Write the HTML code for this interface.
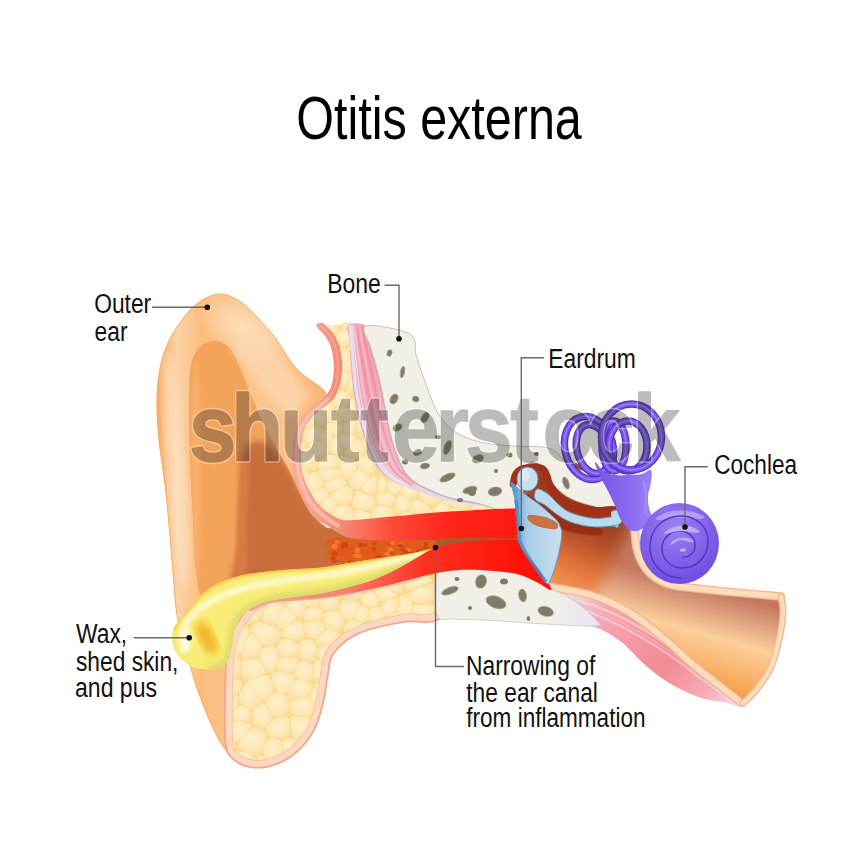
<!DOCTYPE html>
<html><head><meta charset="utf-8"><title>Otitis externa</title>
<style>html,body{margin:0;padding:0;background:#fff;width:867px;height:853px;overflow:hidden;font-family:"Liberation Sans",sans-serif}
#c{position:relative;width:867px;height:853px}</style></head>
<body><div id="c"><svg width="867" height="853" viewBox="0 0 867 853" style="position:absolute;left:0;top:0">

<defs>
 <linearGradient id="gPinna" x1="0" y1="0" x2="1" y2="0">
  <stop offset="0" stop-color="#f9ad63"/><stop offset="0.12" stop-color="#fcd2a6"/><stop offset="0.25" stop-color="#fbbd7e"/>
  <stop offset="0.6" stop-color="#fcc690"/><stop offset="1" stop-color="#f9b574"/>
 </linearGradient>
 <radialGradient id="gPinnaTop" cx="0.5" cy="0.5" r="0.5">
  <stop offset="0" stop-color="#fde4c6" stop-opacity="0.9"/><stop offset="1" stop-color="#fde4c6" stop-opacity="0"/>
 </radialGradient>
 <linearGradient id="gConcha" x1="190" y1="0" x2="330" y2="0" gradientUnits="userSpaceOnUse">
  <stop offset="0" stop-color="#f6a85e"/><stop offset="0.3" stop-color="#e99350"/><stop offset="0.6" stop-color="#d57a40"/><stop offset="1" stop-color="#c46a36"/>
 </linearGradient>
 <linearGradient id="gUBand" x1="290" y1="0" x2="520" y2="0" gradientUnits="userSpaceOnUse">
  <stop offset="0" stop-color="#f7ac9c"/><stop offset="0.13" stop-color="#f69c8a"/><stop offset="0.22" stop-color="#f58a78"/><stop offset="0.45" stop-color="#fd4a36"/><stop offset="0.7" stop-color="#ff2418"/><stop offset="1" stop-color="#ff1a10"/>
 </linearGradient>
 <linearGradient id="gLBand" x1="250" y1="0" x2="520" y2="0" gradientUnits="userSpaceOnUse">
  <stop offset="0" stop-color="#f7a795"/><stop offset="0.35" stop-color="#f8806e"/><stop offset="0.65" stop-color="#ff3020"/><stop offset="1" stop-color="#ff1208"/>
 </linearGradient>
 <linearGradient id="gWax" x1="0" y1="565" x2="0" y2="600" gradientUnits="userSpaceOnUse">
  <stop offset="0" stop-color="#f6d34a"/><stop offset="0.15" stop-color="#faee86"/><stop offset="0.55" stop-color="#f8ec74"/><stop offset="1" stop-color="#e4e06c"/>
 </linearGradient>
 <linearGradient id="gMuscle" x1="350" y1="0" x2="520" y2="0" gradientUnits="userSpaceOnUse">
  <stop offset="0" stop-color="#f4a8b6"/><stop offset="0.12" stop-color="#f2a0b0"/><stop offset="0.25" stop-color="#f0c0d0"/><stop offset="0.45" stop-color="#e4d8ec"/><stop offset="1" stop-color="#dfe4f4"/>
 </linearGradient>
 <linearGradient id="gTube" x1="720" y1="592" x2="690" y2="700" gradientUnits="userSpaceOnUse">
  <stop offset="0" stop-color="#c47860"/><stop offset="0.4" stop-color="#fbcf9c"/><stop offset="0.8" stop-color="#f7a452"/><stop offset="1" stop-color="#f27c2c"/>
 </linearGradient>
 <linearGradient id="gMid" x1="605" y1="515" x2="570" y2="592" gradientUnits="userSpaceOnUse">
  <stop offset="0" stop-color="#9a3a1e"/><stop offset="0.3" stop-color="#ad4a28"/><stop offset="0.7" stop-color="#e4733a"/><stop offset="1" stop-color="#f29658"/>
 </linearGradient>
 <linearGradient id="gPinkM" x1="560" y1="600" x2="740" y2="705" gradientUnits="userSpaceOnUse">
  <stop offset="0" stop-color="#e9e6ee"/><stop offset="0.2" stop-color="#f6a8b4"/><stop offset="0.6" stop-color="#f28a94"/><stop offset="0.85" stop-color="#f7b0b8"/><stop offset="1" stop-color="#e8e8f8"/>
 </linearGradient>
 <radialGradient id="gCoch" cx="0.45" cy="0.3" r="0.75">
  <stop offset="0" stop-color="#9a80f4"/><stop offset="0.55" stop-color="#8262ea"/><stop offset="1" stop-color="#6c4ade"/>
 </radialGradient>
 <linearGradient id="gVest" x1="600" y1="0" x2="650" y2="0" gradientUnits="userSpaceOnUse">
  <stop offset="0" stop-color="#7a56e2"/><stop offset="0.6" stop-color="#8a6af0"/><stop offset="1" stop-color="#9a80f4"/>
 </linearGradient>
 <linearGradient id="gDrum" x1="512" y1="0" x2="562" y2="0" gradientUnits="userSpaceOnUse">
  <stop offset="0" stop-color="#4f90c8"/><stop offset="0.3" stop-color="#a8cce6"/><stop offset="1" stop-color="#c8e0f0"/>
 </linearGradient>
 <linearGradient id="gGap" x1="320" y1="0" x2="440" y2="0" gradientUnits="userSpaceOnUse">
  <stop offset="0" stop-color="#c96e3a"/><stop offset="0.5" stop-color="#c0662f"/><stop offset="1" stop-color="#a85a2c"/>
 </linearGradient>
 <radialGradient id="gCell" cx="0.45" cy="0.4" r="0.6">
  <stop offset="0" stop-color="#fef0cc"/><stop offset="0.7" stop-color="#fde8b4"/><stop offset="1" stop-color="#fbdf9c"/>
 </radialGradient>
 <linearGradient id="gLBone" x1="430" y1="0" x2="600" y2="0" gradientUnits="userSpaceOnUse">
  <stop offset="0" stop-color="#f1efe6"/><stop offset="0.7" stop-color="#f1efe8"/><stop offset="1" stop-color="#ebe4f0"/>
 </linearGradient>
 <filter id="blur2"><feGaussianBlur stdDeviation="2"/></filter>
 <filter id="blur3" x="-20%" y="-20%" width="140%" height="140%"><feGaussianBlur stdDeviation="3"/></filter>
 <filter id="blur8" x="-30%" y="-30%" width="160%" height="160%"><feGaussianBlur stdDeviation="7"/></filter>
 <filter id="blur4"><feGaussianBlur stdDeviation="4"/></filter>
 <filter id="blurS" x="-50%" y="-50%" width="200%" height="200%"><feGaussianBlur stdDeviation="0.6"/></filter>
 <filter id="blur1" x="-20%" y="-20%" width="140%" height="140%"><feGaussianBlur stdDeviation="1"/></filter>

 <clipPath id="cUFat"><path d="M323.0,326.0 C322.0,327.4 329.7,330.8 332.0,334.0 C334.3,337.2 335.8,341.2 337.0,345.0 C338.2,348.8 339.0,353.0 339.5,357.0 C340.0,361.0 340.1,365.2 340.0,369.0 C339.9,372.8 339.7,376.7 339.0,380.0 C338.3,383.3 337.3,386.0 336.0,389.0 C334.7,392.0 333.2,395.3 331.0,398.0 C328.8,400.7 326.0,402.7 323.0,405.0 C320.0,407.3 315.8,409.7 313.0,412.0 C310.2,414.3 308.0,416.5 306.0,419.0 C304.0,421.5 302.3,424.2 301.0,427.0 C299.7,429.8 298.7,431.7 298.0,436.0 C297.3,440.3 296.9,446.8 297.0,453.0 C297.1,459.2 297.2,466.7 298.5,473.0 C299.8,479.3 302.2,485.5 305.0,491.0 C307.8,496.5 310.8,501.7 315.0,506.0 C319.2,510.3 325.0,514.5 330.0,517.0 C335.0,519.5 311.7,521.2 345.0,521.0 C378.3,520.8 499.2,518.5 530.0,516.0 C560.8,513.5 536.7,507.8 530.0,506.0 C523.3,504.2 505.0,506.5 490.0,505.0 C475.0,503.5 454.2,501.5 440.0,497.0 C425.8,492.5 415.0,485.8 405.0,478.0 C395.0,470.2 387.2,461.3 380.0,450.0 C372.8,438.7 366.0,421.7 362.0,410.0 C358.0,398.3 357.7,394.0 356.0,380.0 C354.3,366.0 355.0,335.1 352.0,326.0 C349.0,316.9 342.8,325.5 338.0,325.5 C333.2,325.5 324.0,324.6 323.0,326.0Z"/></clipPath>
 <clipPath id="cLFat"><path d="M436.0,575.0 C432.7,569.8 426.3,577.7 417.0,580.0 C407.7,582.3 394.5,586.0 380.0,589.0 C365.5,592.0 343.3,596.1 330.0,598.0 C316.7,599.9 308.3,599.8 300.0,600.5 C291.7,601.2 285.8,601.1 280.0,602.0 C274.2,602.9 269.7,603.7 265.0,606.0 C260.3,608.3 256.0,611.7 252.0,616.0 C248.0,620.3 243.8,626.0 241.0,632.0 C238.2,638.0 236.3,644.0 235.0,652.0 C233.7,660.0 233.3,665.3 233.0,680.0 C232.7,694.7 232.0,727.7 233.0,740.0 C234.0,752.3 235.3,750.7 239.0,754.0 C242.7,757.3 249.0,759.6 255.0,760.0 C261.0,760.4 268.7,759.0 275.0,756.5 C281.3,754.0 287.7,749.9 293.0,745.0 C298.3,740.1 303.3,733.8 307.0,727.0 C310.7,720.2 312.8,712.5 315.0,704.0 C317.2,695.5 318.5,684.2 320.0,676.0 C321.5,667.8 321.5,661.0 324.0,655.0 C326.5,649.0 330.3,644.5 335.0,640.0 C339.7,635.5 345.3,631.3 352.0,628.0 C358.7,624.7 366.2,622.3 375.0,620.0 C383.8,617.7 394.7,615.5 405.0,614.0 C415.3,612.5 431.8,617.5 437.0,611.0 C442.2,604.5 439.3,580.2 436.0,575.0Z"/></clipPath>
 <clipPath id="cPinna"><path d="M220.0,294.0 C227.0,294.0 234.5,297.8 241.0,302.0 C247.5,306.2 253.2,312.8 259.0,319.0 C264.8,325.2 270.7,331.8 276.0,339.0 C281.3,346.2 286.5,356.0 291.0,362.0 C295.5,368.0 298.8,371.3 303.0,375.0 C307.2,378.7 312.2,380.8 316.0,384.0 C319.8,387.2 323.3,388.0 326.0,394.0 C328.7,400.0 332.2,407.3 332.0,420.0 C331.8,432.7 327.8,453.3 325.0,470.0 C322.2,486.7 319.2,501.7 315.0,520.0 C310.8,538.3 305.8,560.0 300.0,580.0 C294.2,600.0 288.3,623.3 280.0,640.0 C271.7,656.7 257.0,666.7 250.0,680.0 C243.0,693.3 238.8,706.7 238.0,720.0 C237.2,733.3 243.0,752.2 245.0,760.0 C247.0,767.8 252.2,767.5 250.0,767.0 C247.8,766.5 237.3,761.8 232.0,757.0 C226.7,752.2 222.3,745.5 218.0,738.0 C213.7,730.5 209.8,721.3 206.0,712.0 C202.2,702.7 198.3,692.3 195.0,682.0 C191.7,671.7 189.0,661.2 186.0,650.0 C183.0,638.8 179.3,630.0 177.0,615.0 C174.7,600.0 173.8,580.3 172.0,560.0 C170.2,539.7 168.2,513.0 166.0,493.0 C163.8,473.0 160.5,455.5 159.0,440.0 C157.5,424.5 156.8,412.0 157.0,400.0 C157.2,388.0 158.2,377.5 160.0,368.0 C161.8,358.5 164.3,351.0 168.0,343.0 C171.7,335.0 176.8,326.8 182.0,320.0 C187.2,313.2 192.7,306.3 199.0,302.0 C205.3,297.7 213.0,294.0 220.0,294.0Z"/></clipPath>
 <clipPath id="cUBone"><path d="M366.0,326.0 C372.6,323.8 401.7,329.2 410.0,334.0 C418.3,338.8 413.8,348.0 416.0,355.0 C418.2,362.0 420.5,368.8 423.0,376.0 C425.5,383.2 428.0,391.0 431.0,398.0 C434.0,405.0 436.7,412.2 441.0,418.0 C445.3,423.8 450.5,429.0 457.0,433.0 C463.5,437.0 470.7,439.8 480.0,442.0 C489.3,444.2 502.5,445.2 513.0,446.0 C523.5,446.8 535.8,446.0 543.0,447.0 C550.2,448.0 552.2,449.5 556.0,452.0 C559.8,454.5 562.0,459.0 566.0,462.0 C570.0,465.0 572.3,467.3 580.0,470.0 C587.7,472.7 606.2,471.7 612.0,478.0 C617.8,484.3 618.8,503.5 615.0,508.0 C611.2,512.5 597.2,507.0 589.0,505.0 C580.8,503.0 572.3,500.0 566.0,496.0 C559.7,492.0 554.8,486.0 551.0,481.0 C547.2,476.0 546.8,469.2 543.0,466.0 C539.2,462.8 531.5,461.3 528.0,462.0 C524.5,462.7 523.3,461.8 522.0,470.0 C520.7,478.2 523.7,504.3 520.0,511.0 C516.3,517.7 507.1,511.3 500.0,510.0 C492.9,508.7 485.9,505.3 477.6,503.3 C469.3,501.3 457.9,500.0 450.0,497.8 C442.1,495.6 435.8,492.6 430.0,490.0 C424.2,487.4 419.4,485.3 415.0,482.0 C410.6,478.7 407.0,475.0 403.8,470.0 C400.6,465.0 398.2,457.8 396.0,452.0 C393.8,446.2 392.1,440.7 390.6,435.0 C389.1,429.3 388.2,423.8 387.0,418.0 C385.8,412.2 384.8,406.0 383.6,400.0 C382.4,394.0 381.3,387.8 380.0,382.0 C378.7,376.2 377.3,370.8 375.7,365.0 C374.1,359.2 372.1,353.5 370.5,347.0 C368.9,340.5 359.4,328.2 366.0,326.0Z"/></clipPath>
 <clipPath id="cLBone"><path d="M437.0,573.0 C440.0,565.3 445.7,569.9 455.0,569.0 C464.3,568.1 482.5,566.7 493.0,567.5 C503.5,568.3 510.8,571.6 518.0,574.0 C525.2,576.4 530.5,579.2 536.0,581.7 C541.5,584.2 546.3,586.9 551.0,589.0 C555.7,591.1 559.2,591.9 564.0,594.6 C568.8,597.3 574.7,600.8 580.0,605.0 C585.3,609.2 593.3,616.5 596.0,620.0 C598.7,623.5 604.5,625.3 596.0,626.0 C587.5,626.7 562.7,624.9 545.0,624.0 C527.3,623.1 505.0,621.2 490.0,620.4 C475.0,619.6 463.8,619.9 455.0,619.0 C446.2,618.1 440.0,622.7 437.0,615.0 C434.0,607.3 434.0,580.7 437.0,573.0Z"/></clipPath>
 <clipPath id="cTube"><path d="M520.0,470.0 C525.0,461.3 546.7,456.7 560.0,458.0 C573.3,459.3 589.2,470.2 600.0,478.0 C610.8,485.8 619.5,496.7 625.0,505.0 C630.5,513.3 631.3,520.8 633.0,528.0 C634.7,535.2 633.8,542.2 635.0,548.0 C636.2,553.8 637.5,558.5 640.0,563.0 C642.5,567.5 645.8,571.5 650.0,575.0 C654.2,578.5 658.3,581.8 665.0,584.0 C671.7,586.2 682.5,587.0 690.0,588.0 C697.5,589.0 700.0,589.0 710.0,590.0 C720.0,591.0 738.5,593.0 750.0,594.0 C761.5,595.0 773.5,594.5 779.0,596.0 C784.5,597.5 782.8,596.5 783.0,603.0 C783.2,609.5 782.0,624.3 780.0,635.0 C778.0,645.7 775.2,657.8 771.0,667.0 C766.8,676.2 759.8,684.2 755.0,690.0 C750.2,695.8 748.2,703.0 742.0,702.0 C735.8,701.0 726.0,690.3 717.7,684.0 C709.4,677.7 700.8,671.2 692.3,664.0 C683.8,656.8 675.5,648.3 667.0,641.0 C658.5,633.7 650.0,626.0 641.5,620.0 C633.0,614.0 624.5,609.2 616.0,605.0 C607.5,600.8 599.3,597.7 590.8,595.0 C582.3,592.3 572.0,590.5 565.0,589.0 C558.0,587.5 552.3,590.8 549.0,586.0 C545.7,581.2 548.2,572.7 545.0,560.0 C541.8,547.3 534.2,525.0 530.0,510.0 C525.8,495.0 515.0,478.7 520.0,470.0Z"/></clipPath>
 <clipPath id="cConcha"><path d="M212.0,341.0 C216.0,340.2 219.7,341.3 223.0,343.0 C226.3,344.7 229.0,346.5 232.0,351.0 C235.0,355.5 238.3,363.8 241.0,370.0 C243.7,376.2 245.7,382.3 248.0,388.0 C250.3,393.7 252.3,397.8 255.0,404.0 C257.7,410.2 260.5,417.8 264.0,425.0 C267.5,432.2 271.8,439.5 276.0,447.0 C280.2,454.5 285.0,462.5 289.0,470.0 C293.0,477.5 295.2,483.7 300.0,492.0 C304.8,500.3 310.5,511.2 318.0,520.0 C325.5,528.8 343.0,535.8 345.0,545.0 C347.0,554.2 339.2,569.2 330.0,575.0 C320.8,580.8 305.0,578.3 290.0,580.0 C275.0,581.7 254.2,581.7 240.0,585.0 C225.8,588.3 212.3,602.5 205.0,600.0 C197.7,597.5 198.0,583.3 196.0,570.0 C194.0,556.7 194.0,538.3 193.0,520.0 C192.0,501.7 190.7,480.0 190.0,460.0 C189.3,440.0 188.8,415.8 189.0,400.0 C189.2,384.2 189.3,373.7 191.0,365.0 C192.7,356.3 195.5,352.0 199.0,348.0 C202.5,344.0 208.0,341.8 212.0,341.0Z"/></clipPath>
 <clipPath id="cWax"><path d="M435.0,548.0 C432.2,548.4 421.2,551.7 411.0,553.5 C400.8,555.3 384.8,557.3 374.0,559.0 C363.2,560.7 355.0,562.0 346.0,563.5 C337.0,565.0 329.5,566.7 320.0,567.7 C310.5,568.7 298.8,568.7 289.0,569.5 C279.2,570.3 269.2,571.4 261.5,572.3 C253.8,573.2 249.2,573.6 243.0,575.0 C236.8,576.4 230.1,578.4 224.6,580.6 C219.1,582.8 214.4,584.9 209.8,588.0 C205.2,591.1 200.7,595.2 197.0,599.0 C193.3,602.8 190.8,607.3 187.7,611.0 C184.6,614.7 180.9,617.8 178.5,621.0 C176.1,624.2 174.1,627.3 173.0,630.4 C171.9,633.5 171.7,636.2 172.0,639.6 C172.3,643.0 173.1,647.3 174.8,650.7 C176.5,654.1 178.9,657.2 182.0,660.0 C185.1,662.8 188.9,665.7 193.2,667.3 C197.5,668.9 203.4,669.5 208.0,669.5 C212.6,669.5 217.6,668.9 221.0,667.3 C224.4,665.7 226.5,663.4 228.3,660.0 C230.1,656.6 231.1,651.7 232.0,647.0 C232.9,642.3 232.8,636.6 234.0,632.0 C235.2,627.4 237.0,623.0 239.4,619.3 C241.8,615.6 244.6,612.8 248.6,610.0 C252.6,607.2 258.1,604.5 263.3,602.7 C268.5,600.9 274.1,600.1 280.0,599.0 C285.9,597.9 291.7,597.2 298.4,596.3 C305.1,595.4 312.2,594.9 320.0,593.5 C327.8,592.1 336.0,590.4 345.0,588.0 C354.0,585.6 364.6,583.0 374.0,579.4 C383.4,575.8 392.5,571.1 401.5,566.4 C410.5,561.7 422.4,554.1 428.0,551.0 C433.6,547.9 437.8,547.6 435.0,548.0Z"/></clipPath>
</defs>

<path d="M549.0,589.0 C550.6,586.7 558.4,589.7 565.4,591.0 C572.4,592.3 582.4,594.3 590.8,597.0 C599.2,599.7 607.5,602.8 616.0,607.0 C624.5,611.2 633.0,616.1 641.5,622.0 C650.0,627.9 658.5,635.2 667.0,642.5 C675.5,649.8 683.8,658.8 692.3,666.0 C700.8,673.2 709.4,679.5 717.7,686.0 C726.0,692.5 738.6,701.5 742.0,705.0 C745.4,708.5 740.5,707.3 738.0,707.0 C735.5,706.7 731.7,704.2 727.0,703.0 C722.3,701.8 715.4,701.4 709.6,700.0 C703.8,698.6 699.3,697.7 692.0,694.5 C684.7,691.3 674.0,686.1 666.0,681.0 C658.0,675.9 651.3,670.4 644.0,664.0 C636.7,657.6 629.3,648.3 622.0,642.5 C614.7,636.7 607.0,632.2 600.0,629.0 C593.0,625.8 585.7,625.0 580.0,623.0 C574.3,621.0 570.0,620.0 566.0,617.0 C562.0,614.0 558.8,609.7 556.0,605.0 C553.2,600.3 547.4,591.3 549.0,589.0Z" fill="url(#gPinkM)"/>
<path d="M575,599.6 C620,612 660,635.4 700,671.6 C715,684.4 728,695.2 738,703" fill="none" stroke="#fbd6da" stroke-width="2.2" opacity="0.7"/>
<path d="M575,603.2 C620,618 660,640.8 700,675.2 C715,686.8 728,696.4 738,703" fill="none" stroke="#f7b8c0" stroke-width="1.6" opacity="0.6"/>
<path d="M575,606.2 C620,623 660,645.3 700,678.2 C715,688.8 728,697.4 738,703" fill="none" stroke="#fde4e8" stroke-width="1.8" opacity="0.6"/>
<g clip-path="url(#cTube)"><path d="M520.0,470.0 C525.0,461.3 546.7,456.7 560.0,458.0 C573.3,459.3 589.2,470.2 600.0,478.0 C610.8,485.8 619.5,496.7 625.0,505.0 C630.5,513.3 631.3,520.8 633.0,528.0 C634.7,535.2 633.8,542.2 635.0,548.0 C636.2,553.8 637.5,558.5 640.0,563.0 C642.5,567.5 645.8,571.5 650.0,575.0 C654.2,578.5 658.3,581.8 665.0,584.0 C671.7,586.2 682.5,587.0 690.0,588.0 C697.5,589.0 700.0,589.0 710.0,590.0 C720.0,591.0 738.5,593.0 750.0,594.0 C761.5,595.0 773.5,594.5 779.0,596.0 C784.5,597.5 782.8,596.5 783.0,603.0 C783.2,609.5 782.0,624.3 780.0,635.0 C778.0,645.7 775.2,657.8 771.0,667.0 C766.8,676.2 759.8,684.2 755.0,690.0 C750.2,695.8 748.2,703.0 742.0,702.0 C735.8,701.0 726.0,690.3 717.7,684.0 C709.4,677.7 700.8,671.2 692.3,664.0 C683.8,656.8 675.5,648.3 667.0,641.0 C658.5,633.7 650.0,626.0 641.5,620.0 C633.0,614.0 624.5,609.2 616.0,605.0 C607.5,600.8 599.3,597.7 590.8,595.0 C582.3,592.3 572.0,590.5 565.0,589.0 C558.0,587.5 552.3,590.8 549.0,586.0 C545.7,581.2 548.2,572.7 545.0,560.0 C541.8,547.3 534.2,525.0 530.0,510.0 C525.8,495.0 515.0,478.7 520.0,470.0Z" fill="url(#gTube)"/><path d="M515,460 L635,460 L628,530 L608,570 L592,600 L545,595 Z" fill="url(#gMid)" filter="url(#blur8)"/></g>
<path d="M633.5,526.0 C633.7,526.7 634.0,526.3 634.5,530.0 C635.0,533.7 635.2,542.5 636.5,548.0 C637.8,553.5 639.6,558.6 642.0,563.0 C644.4,567.4 647.2,571.2 651.0,574.5 C654.8,577.8 660.3,581.0 665.0,583.0 C669.7,585.0 674.5,585.7 679.0,586.5 C683.5,587.3 686.8,587.4 692.0,588.0 C697.2,588.6 702.8,589.2 710.0,590.0 C717.2,590.8 723.2,591.4 735.0,592.5 C746.8,593.6 773.3,595.8 781.0,596.5" fill="none" stroke="#f2b48c" stroke-width="8.5" stroke-linecap="round"/>
<path d="M633.5,526.0 C633.7,526.7 634.0,526.3 634.5,530.0 C635.0,533.7 635.2,542.5 636.5,548.0 C637.8,553.5 639.6,558.6 642.0,563.0 C644.4,567.4 647.2,571.2 651.0,574.5 C654.8,577.8 660.3,581.0 665.0,583.0 C669.7,585.0 674.5,585.7 679.0,586.5 C683.5,587.3 686.8,587.4 692.0,588.0 C697.2,588.6 702.8,589.2 710.0,590.0 C717.2,590.8 723.2,591.4 735.0,592.5 C746.8,593.6 773.3,595.8 781.0,596.5" fill="none" stroke="#fddcbc" stroke-width="6" stroke-linecap="round"/>
<path d="M547.6,586.5 C550.6,587.0 558.2,588.1 565.4,589.5 C572.6,590.9 582.4,592.4 590.8,595.0 C599.2,597.6 607.5,600.8 616.0,605.0 C624.5,609.2 633.0,614.5 641.5,620.5 C650.0,626.5 658.5,633.8 667.0,641.0 C675.5,648.2 683.8,656.8 692.3,664.0 C700.8,671.2 709.6,677.8 717.7,684.2 C725.8,690.6 737.1,699.5 741.0,702.5" fill="none" stroke="#f2b48c" stroke-width="8.5" stroke-linecap="round"/>
<path d="M547.6,586.5 C550.6,587.0 558.2,588.1 565.4,589.5 C572.6,590.9 582.4,592.4 590.8,595.0 C599.2,597.6 607.5,600.8 616.0,605.0 C624.5,609.2 633.0,614.5 641.5,620.5 C650.0,626.5 658.5,633.8 667.0,641.0 C675.5,648.2 683.8,656.8 692.3,664.0 C700.8,671.2 709.6,677.8 717.7,684.2 C725.8,690.6 737.1,699.5 741.0,702.5" fill="none" stroke="#fddcbc" stroke-width="6" stroke-linecap="round"/>
<path d="M781.0,597.0 C781.3,599.5 783.2,605.7 783.0,612.0 C782.8,618.3 782.0,625.8 780.0,635.0 C778.0,644.2 775.0,657.8 771.0,667.0 C767.0,676.2 760.7,684.0 756.0,690.0 C751.3,696.0 745.2,700.8 743.0,703.0" fill="none" stroke="#f2b48c" stroke-width="7" stroke-linecap="round"/>
<path d="M781.0,597.0 C781.3,599.5 783.2,605.7 783.0,612.0 C782.8,618.3 782.0,625.8 780.0,635.0 C778.0,644.2 775.0,657.8 771.0,667.0 C767.0,676.2 760.7,684.0 756.0,690.0 C751.3,696.0 745.2,700.8 743.0,703.0" fill="none" stroke="#fddcbc" stroke-width="4.5" stroke-linecap="round"/>
<path d="M220.0,294.0 C227.0,294.0 234.5,297.8 241.0,302.0 C247.5,306.2 253.2,312.8 259.0,319.0 C264.8,325.2 270.7,331.8 276.0,339.0 C281.3,346.2 286.5,356.0 291.0,362.0 C295.5,368.0 298.8,371.3 303.0,375.0 C307.2,378.7 312.2,380.8 316.0,384.0 C319.8,387.2 323.3,388.0 326.0,394.0 C328.7,400.0 332.2,407.3 332.0,420.0 C331.8,432.7 327.8,453.3 325.0,470.0 C322.2,486.7 319.2,501.7 315.0,520.0 C310.8,538.3 305.8,560.0 300.0,580.0 C294.2,600.0 288.3,623.3 280.0,640.0 C271.7,656.7 257.0,666.7 250.0,680.0 C243.0,693.3 238.8,706.7 238.0,720.0 C237.2,733.3 243.0,752.2 245.0,760.0 C247.0,767.8 252.2,767.5 250.0,767.0 C247.8,766.5 237.3,761.8 232.0,757.0 C226.7,752.2 222.3,745.5 218.0,738.0 C213.7,730.5 209.8,721.3 206.0,712.0 C202.2,702.7 198.3,692.3 195.0,682.0 C191.7,671.7 189.0,661.2 186.0,650.0 C183.0,638.8 179.3,630.0 177.0,615.0 C174.7,600.0 173.8,580.3 172.0,560.0 C170.2,539.7 168.2,513.0 166.0,493.0 C163.8,473.0 160.5,455.5 159.0,440.0 C157.5,424.5 156.8,412.0 157.0,400.0 C157.2,388.0 158.2,377.5 160.0,368.0 C161.8,358.5 164.3,351.0 168.0,343.0 C171.7,335.0 176.8,326.8 182.0,320.0 C187.2,313.2 192.7,306.3 199.0,302.0 C205.3,297.7 213.0,294.0 220.0,294.0Z" fill="url(#gPinna)" stroke="#f8a85c" stroke-width="1"/>
<g clip-path="url(#cPinna)"><ellipse cx="245" cy="330" rx="55" ry="30" fill="url(#gPinnaTop)" transform="rotate(35 245 330)"/><ellipse cx="176" cy="470" rx="9" ry="120" fill="#fde2c4" opacity="0.7" filter="url(#blur4)" transform="rotate(-4 176 470)"/></g>
<path d="M212.0,341.0 C216.0,340.2 219.7,341.3 223.0,343.0 C226.3,344.7 229.0,346.5 232.0,351.0 C235.0,355.5 238.3,363.8 241.0,370.0 C243.7,376.2 245.7,382.3 248.0,388.0 C250.3,393.7 252.3,397.8 255.0,404.0 C257.7,410.2 260.5,417.8 264.0,425.0 C267.5,432.2 271.8,439.5 276.0,447.0 C280.2,454.5 285.0,462.5 289.0,470.0 C293.0,477.5 295.2,483.7 300.0,492.0 C304.8,500.3 310.5,511.2 318.0,520.0 C325.5,528.8 343.0,535.8 345.0,545.0 C347.0,554.2 339.2,569.2 330.0,575.0 C320.8,580.8 305.0,578.3 290.0,580.0 C275.0,581.7 254.2,581.7 240.0,585.0 C225.8,588.3 212.3,602.5 205.0,600.0 C197.7,597.5 198.0,583.3 196.0,570.0 C194.0,556.7 194.0,538.3 193.0,520.0 C192.0,501.7 190.7,480.0 190.0,460.0 C189.3,440.0 188.8,415.8 189.0,400.0 C189.2,384.2 189.3,373.7 191.0,365.0 C192.7,356.3 195.5,352.0 199.0,348.0 C202.5,344.0 208.0,341.8 212.0,341.0Z" fill="#f4a35a"/>
<g clip-path="url(#cConcha)"><path d="M239.0,600.0 C221.3,590.0 238.8,559.2 239.0,540.0 C239.2,520.8 239.5,499.2 240.0,485.0 C240.5,470.8 240.3,462.0 242.0,455.0 C243.7,448.0 246.5,445.2 250.0,443.0 C253.5,440.8 258.7,440.5 263.0,442.0 C267.3,443.5 271.8,447.7 276.0,452.0 C280.2,456.3 284.0,461.7 288.0,468.0 C292.0,474.3 295.0,481.7 300.0,490.0 C305.0,498.3 310.5,508.8 318.0,518.0 C325.5,527.2 340.5,531.3 345.0,545.0 C349.5,558.7 362.7,590.8 345.0,600.0 C327.3,609.2 256.7,610.0 239.0,600.0Z" fill="#c96e3a" filter="url(#blur3)"/><path d="M236,600 C236,560 238,500 242,460 L250,462 C247,500 246,560 246,600 Z" fill="#d67d44" filter="url(#blur2)"/><ellipse cx="196" cy="470" rx="5" ry="110" fill="#f8b06a" filter="url(#blur2)"/></g>
<g clip-path="url(#cPinna)"><path d="M232,350 C250,370 265,395 290,420 L310,395 C300,380 275,350 250,320 Z" fill="#fcd7ae" opacity="0.8" filter="url(#blur4)"/></g>
<path d="M436.0,575.0 C432.7,569.8 426.3,577.7 417.0,580.0 C407.7,582.3 394.5,586.0 380.0,589.0 C365.5,592.0 343.3,596.1 330.0,598.0 C316.7,599.9 308.3,599.8 300.0,600.5 C291.7,601.2 285.8,601.1 280.0,602.0 C274.2,602.9 269.7,603.7 265.0,606.0 C260.3,608.3 256.0,611.7 252.0,616.0 C248.0,620.3 243.8,626.0 241.0,632.0 C238.2,638.0 236.3,644.0 235.0,652.0 C233.7,660.0 233.3,665.3 233.0,680.0 C232.7,694.7 232.0,727.7 233.0,740.0 C234.0,752.3 235.3,750.7 239.0,754.0 C242.7,757.3 249.0,759.6 255.0,760.0 C261.0,760.4 268.7,759.0 275.0,756.5 C281.3,754.0 287.7,749.9 293.0,745.0 C298.3,740.1 303.3,733.8 307.0,727.0 C310.7,720.2 312.8,712.5 315.0,704.0 C317.2,695.5 318.5,684.2 320.0,676.0 C321.5,667.8 321.5,661.0 324.0,655.0 C326.5,649.0 330.3,644.5 335.0,640.0 C339.7,635.5 345.3,631.3 352.0,628.0 C358.7,624.7 366.2,622.3 375.0,620.0 C383.8,617.7 394.7,615.5 405.0,614.0 C415.3,612.5 431.8,617.5 437.0,611.0 C442.2,604.5 439.3,580.2 436.0,575.0Z" fill="none" stroke="#f4a590" stroke-width="17"/>
<path d="M436.0,575.0 C432.7,569.8 426.3,577.7 417.0,580.0 C407.7,582.3 394.5,586.0 380.0,589.0 C365.5,592.0 343.3,596.1 330.0,598.0 C316.7,599.9 308.3,599.8 300.0,600.5 C291.7,601.2 285.8,601.1 280.0,602.0 C274.2,602.9 269.7,603.7 265.0,606.0 C260.3,608.3 256.0,611.7 252.0,616.0 C248.0,620.3 243.8,626.0 241.0,632.0 C238.2,638.0 236.3,644.0 235.0,652.0 C233.7,660.0 233.3,665.3 233.0,680.0 C232.7,694.7 232.0,727.7 233.0,740.0 C234.0,752.3 235.3,750.7 239.0,754.0 C242.7,757.3 249.0,759.6 255.0,760.0 C261.0,760.4 268.7,759.0 275.0,756.5 C281.3,754.0 287.7,749.9 293.0,745.0 C298.3,740.1 303.3,733.8 307.0,727.0 C310.7,720.2 312.8,712.5 315.0,704.0 C317.2,695.5 318.5,684.2 320.0,676.0 C321.5,667.8 321.5,661.0 324.0,655.0 C326.5,649.0 330.3,644.5 335.0,640.0 C339.7,635.5 345.3,631.3 352.0,628.0 C358.7,624.7 366.2,622.3 375.0,620.0 C383.8,617.7 394.7,615.5 405.0,614.0 C415.3,612.5 431.8,617.5 437.0,611.0 C442.2,604.5 439.3,580.2 436.0,575.0Z" fill="none" stroke="#fcd8c0" stroke-width="13.5"/>
<path d="M436.0,575.0 C432.7,569.8 426.3,577.7 417.0,580.0 C407.7,582.3 394.5,586.0 380.0,589.0 C365.5,592.0 343.3,596.1 330.0,598.0 C316.7,599.9 308.3,599.8 300.0,600.5 C291.7,601.2 285.8,601.1 280.0,602.0 C274.2,602.9 269.7,603.7 265.0,606.0 C260.3,608.3 256.0,611.7 252.0,616.0 C248.0,620.3 243.8,626.0 241.0,632.0 C238.2,638.0 236.3,644.0 235.0,652.0 C233.7,660.0 233.3,665.3 233.0,680.0 C232.7,694.7 232.0,727.7 233.0,740.0 C234.0,752.3 235.3,750.7 239.0,754.0 C242.7,757.3 249.0,759.6 255.0,760.0 C261.0,760.4 268.7,759.0 275.0,756.5 C281.3,754.0 287.7,749.9 293.0,745.0 C298.3,740.1 303.3,733.8 307.0,727.0 C310.7,720.2 312.8,712.5 315.0,704.0 C317.2,695.5 318.5,684.2 320.0,676.0 C321.5,667.8 321.5,661.0 324.0,655.0 C326.5,649.0 330.3,644.5 335.0,640.0 C339.7,635.5 345.3,631.3 352.0,628.0 C358.7,624.7 366.2,622.3 375.0,620.0 C383.8,617.7 394.7,615.5 405.0,614.0 C415.3,612.5 431.8,617.5 437.0,611.0 C442.2,604.5 439.3,580.2 436.0,575.0Z" fill="#f7d47e" stroke="#f6b39a" stroke-width="1.2"/>
<g clip-path="url(#cLFat)" fill="url(#gCell)" stroke="#f8d888" stroke-width="0.5"><path d="M407.1,676.6 C403.0,675.0 386.1,671.6 384.0,666.7 C381.8,661.9 389.9,650.3 394.0,647.6 C398.0,645.0 404.5,648.4 408.2,650.9 C411.9,653.3 416.4,658.1 416.4,662.3 C416.3,666.6 409.7,674.0 408.1,676.3 C406.6,678.7 411.1,678.2 407.1,676.6Z"/><path d="M363.4,767.6 C363.9,771.3 365.2,777.7 361.0,778.6 C356.8,779.4 342.5,774.2 338.4,772.7 C334.2,771.1 334.4,773.1 335.9,769.4 C337.3,765.6 344.8,753.6 347.0,750.3 C349.2,747.1 347.2,748.9 349.1,749.8 C351.0,750.8 356.0,753.1 358.4,756.1 C360.8,759.0 363.0,763.8 363.4,767.6Z"/><path d="M370.7,637.6 C370.0,642.2 367.3,659.5 366.9,664.6 C366.5,669.7 367.3,667.2 368.4,668.0 C369.6,668.8 371.3,669.7 373.6,669.4 C376.0,669.0 379.2,669.6 382.3,665.9 C385.4,662.1 391.0,650.9 392.3,646.8 C393.6,642.6 393.6,642.8 390.0,641.2 C386.5,639.6 374.3,637.8 371.1,637.2 C367.8,636.6 371.4,633.0 370.7,637.6Z"/><path d="M418.1,637.2 C415.2,638.2 409.7,645.8 409.6,649.8 C409.6,653.8 416.0,659.4 417.8,661.3 C419.6,663.1 420.1,661.1 420.7,660.8 C421.3,660.6 420.4,662.9 421.5,660.0 C422.6,657.2 427.9,647.8 427.3,644.0 C426.7,640.2 421.1,636.2 418.1,637.2Z"/><path d="M355.5,679.0 C358.0,673.3 364.7,672.1 367.6,671.0 C370.5,669.9 370.7,667.6 372.9,672.4 C375.0,677.2 381.4,694.1 380.8,699.9 C380.2,705.8 373.7,706.2 369.3,707.5 C364.8,708.9 356.9,708.6 354.1,708.1 C351.3,707.6 352.3,709.6 352.5,704.8 C352.8,699.9 353.0,684.6 355.5,679.0Z"/><path d="M244.8,681.4 C248.6,680.0 265.0,677.1 267.2,673.2 C269.4,669.3 262.3,660.4 258.1,658.1 C253.9,655.9 244.8,656.4 242.2,659.8 C239.6,663.2 242.2,675.2 242.6,678.8 C243.0,682.4 244.4,680.9 244.8,681.4 C245.1,681.8 241.1,682.7 244.8,681.4Z"/><path d="M324.8,612.7 C327.3,611.0 334.4,608.5 337.8,610.0 C341.2,611.5 344.4,618.2 345.1,621.6 C345.8,625.1 342.8,629.2 342.1,630.8 C341.3,632.4 343.3,631.8 340.6,631.4 C337.8,631.0 328.5,630.3 325.6,628.4 C322.6,626.6 322.9,622.9 322.8,620.3 C322.6,617.7 322.3,614.4 324.8,612.7Z"/><path d="M376.0,745.4 C374.8,746.9 374.9,748.0 375.4,749.7 C376.0,751.3 376.1,754.2 379.1,755.2 C382.2,756.2 390.5,755.8 393.6,755.6 C396.6,755.4 396.6,754.7 397.2,753.8 C397.8,753.0 399.6,752.9 397.2,750.7 C394.8,748.5 386.3,741.5 382.8,740.6 C379.3,739.7 377.2,743.9 376.0,745.4Z"/><path d="M357.9,583.3 C361.1,584.2 362.9,589.6 363.2,592.4 C363.4,595.2 362.6,598.8 359.3,599.9 C356.0,601.1 345.8,601.2 343.3,599.0 C340.8,596.8 341.9,589.4 344.3,586.8 C346.8,584.2 354.8,582.4 357.9,583.3Z"/><path d="M434.9,609.6 C433.7,612.7 427.7,620.0 424.9,622.4 C422.2,624.7 420.4,623.9 418.6,623.7 C416.9,623.5 415.0,624.5 414.3,621.1 C413.6,617.8 411.5,606.6 414.4,603.7 C417.4,600.8 428.7,602.6 432.1,603.6 C435.6,604.6 436.1,606.4 434.9,609.6Z"/><path d="M404.4,737.2 C400.9,736.0 394.3,731.1 393.2,726.5 C392.1,722.0 395.7,712.4 397.9,709.9 C400.1,707.3 402.8,709.1 406.4,711.1 C410.0,713.1 418.2,718.1 419.6,721.8 C420.9,725.6 417.0,731.2 414.5,733.7 C412.0,736.3 408.0,738.4 404.4,737.2Z"/><path d="M445.6,612.2 C442.5,610.3 439.3,608.6 436.1,610.5 C432.8,612.3 425.0,619.3 426.1,623.3 C427.2,627.3 437.7,634.8 442.5,634.6 C447.4,634.4 454.6,625.7 455.1,622.0 C455.6,618.2 448.8,614.1 445.6,612.2Z"/><path d="M317.8,738.5 C315.1,738.5 315.6,740.2 314.9,736.8 C314.2,733.4 313.1,722.1 313.6,718.1 C314.1,714.1 314.2,712.4 318.2,712.8 C322.1,713.1 335.0,716.3 337.2,720.2 C339.4,724.2 334.5,733.6 331.3,736.7 C328.0,739.7 320.5,738.5 317.8,738.5Z"/><path d="M309.1,695.9 C309.8,700.4 314.2,710.4 317.8,710.4 C321.3,710.4 329.0,700.2 330.5,695.9 C332.0,691.7 329.4,686.8 326.7,684.8 C324.0,682.7 316.2,683.8 314.1,683.6 C311.9,683.5 314.5,681.8 313.7,683.9 C312.9,685.9 308.4,691.5 309.1,695.9Z"/><path d="M292.4,735.8 C290.7,731.8 290.1,720.1 289.9,716.7 C289.7,713.3 287.3,715.3 291.0,715.5 C294.7,715.8 308.2,714.6 311.9,718.2 C315.6,721.8 315.2,733.2 313.2,737.0 C311.2,740.7 303.5,740.8 300.0,740.6 C296.5,740.4 294.0,739.8 292.4,735.8Z"/><path d="M332.6,737.2 C331.3,732.6 335.5,724.5 338.5,720.7 C341.6,716.9 347.9,711.8 350.9,714.2 C353.9,716.7 357.0,729.9 356.6,735.4 C356.3,740.9 350.2,745.3 348.5,747.4 C346.8,749.5 349.0,749.7 346.4,748.0 C343.7,746.3 333.9,741.7 332.6,737.2Z"/><path d="M302.6,622.7 C301.9,619.9 301.8,620.9 300.9,620.4 C300.0,620.0 300.6,618.3 297.3,620.0 C294.1,621.6 283.8,627.5 281.4,630.4 C279.0,633.3 279.8,635.8 282.7,637.6 C285.6,639.5 294.9,641.5 298.7,641.5 C302.5,641.5 304.9,640.5 305.6,637.3 C306.2,634.2 303.4,625.6 302.6,622.7Z"/><path d="M328.2,684.2 C327.4,687.6 328.3,692.0 332.0,695.4 C335.8,698.8 347.2,707.4 350.8,704.6 C354.5,701.8 356.1,683.6 353.8,678.8 C351.5,673.9 341.1,674.6 336.8,675.6 C332.6,676.5 329.0,680.9 328.2,684.2Z"/><path d="M368.7,609.4 C367.5,606.3 363.7,603.2 361.2,604.8 C358.7,606.4 352.6,616.0 353.8,619.1 C355.0,622.2 365.9,625.2 368.4,623.6 C370.9,621.9 369.9,612.5 368.7,609.4Z"/><path d="M253.0,727.2 C248.7,729.4 240.7,740.3 238.3,743.9 C235.9,747.4 235.6,746.5 238.6,748.4 C241.6,750.4 252.6,754.8 256.4,755.7 C260.2,756.6 259.4,756.9 261.2,754.0 C263.0,751.1 266.7,742.1 267.2,738.3 C267.7,734.5 266.4,732.9 264.0,731.0 C261.6,729.2 257.3,725.1 253.0,727.2Z"/><path d="M428.0,750.6 C431.9,753.5 437.5,752.0 439.9,752.1 C442.3,752.2 441.8,753.7 442.2,751.0 C442.6,748.3 445.2,740.8 442.5,735.8 C439.9,730.8 429.9,723.3 426.4,721.1 C422.8,718.9 423.0,720.4 421.4,722.6 C419.7,724.8 415.2,729.8 416.3,734.5 C417.4,739.2 424.1,747.6 428.0,750.6Z"/><path d="M264.0,702.5 C265.8,705.0 273.9,713.0 274.0,717.4 C274.1,721.9 268.0,727.9 264.6,729.2 C261.2,730.6 255.6,726.5 253.6,725.4 C251.6,724.4 252.7,725.5 252.4,723.1 C252.2,720.7 250.3,714.7 252.1,711.3 C253.9,707.8 261.2,704.0 263.2,702.6 C265.2,701.1 262.3,700.1 264.0,702.5Z"/><path d="M291.5,571.5 C291.6,566.1 285.7,555.4 283.1,553.8 C280.5,552.3 277.0,557.1 275.9,562.0 C274.9,566.9 275.7,579.2 276.8,583.3 C277.9,587.3 280.0,588.4 282.5,586.4 C284.9,584.4 291.4,576.9 291.5,571.5Z"/><path d="M417.5,625.6 C418.1,627.8 418.5,632.6 417.1,636.5 C415.6,640.4 412.4,647.5 408.6,649.1 C404.8,650.7 397.1,647.4 394.4,645.9 C391.6,644.4 392.1,642.4 392.1,640.4 C392.1,638.3 391.4,636.6 394.5,633.7 C397.5,630.9 407.4,625.1 410.5,623.3 C413.6,621.5 412.0,622.7 413.2,623.0 C414.4,623.4 416.9,623.3 417.5,625.6Z"/><path d="M226.1,566.6 C232.0,565.3 233.2,574.2 234.4,577.8 C235.6,581.3 239.3,586.6 233.4,587.9 C227.5,589.2 200.1,589.1 198.9,585.6 C197.7,582.0 220.1,567.9 226.1,566.6Z"/><path d="M224.4,728.3 C223.2,729.8 227.7,730.9 222.9,728.4 C218.1,725.8 196.4,716.6 195.7,713.0 C194.9,709.3 212.8,706.6 218.4,706.7 C224.1,706.8 227.6,711.5 229.4,713.7 C231.3,715.8 230.4,717.2 229.6,719.7 C228.8,722.1 225.5,726.9 224.4,728.3Z"/><path d="M317.9,659.4 C314.6,659.1 313.7,659.6 313.1,663.3 C312.5,667.1 311.9,678.5 314.2,681.8 C316.5,685.0 323.3,684.2 326.9,682.9 C330.4,681.6 334.5,677.2 335.5,674.2 C336.5,671.2 335.6,667.2 332.6,664.8 C329.7,662.3 321.2,659.6 317.9,659.4Z"/><path d="M275.3,626.3 C278.3,627.8 278.6,628.8 279.5,630.7 C280.5,632.7 281.4,635.6 280.8,637.9 C280.2,640.3 278.7,643.6 275.9,644.9 C273.0,646.2 267.6,648.0 263.7,645.9 C259.8,643.9 254.5,635.9 252.4,632.6 C250.2,629.3 249.3,627.9 250.8,626.1 C252.3,624.2 257.3,621.3 261.3,621.3 C265.4,621.3 272.2,624.7 275.3,626.3Z"/><path d="M399.6,596.1 C398.4,596.8 398.8,595.0 398.5,597.6 C398.1,600.2 395.4,607.8 397.4,611.8 C399.4,615.7 407.7,619.8 410.3,621.4 C412.9,622.9 412.6,624.1 413.0,621.1 C413.5,618.2 414.1,608.1 413.1,603.7 C412.2,599.2 408.7,596.1 407.4,594.4 C406.1,592.8 406.6,593.4 405.3,593.7 C404.0,594.0 400.7,595.5 399.6,596.1Z"/><path d="M261.9,756.2 C258.8,755.0 258.7,754.7 257.2,757.9 C255.7,761.0 252.1,771.1 252.9,775.3 C253.7,779.6 258.2,783.8 261.9,783.3 C265.7,782.8 273.2,775.1 275.5,772.0 C277.9,768.9 278.3,767.4 276.0,764.8 C273.7,762.1 265.1,757.3 261.9,756.2Z"/><path d="M351.2,639.6 C348.2,642.0 349.3,647.9 351.8,652.0 C354.2,656.2 362.8,666.9 365.7,664.4 C368.7,662.0 372.0,641.6 369.5,637.4 C367.1,633.3 354.1,637.2 351.2,639.6Z"/><path d="M443.1,694.9 C444.5,691.5 446.2,691.7 447.3,691.0 C448.4,690.3 448.7,687.6 449.7,690.6 C450.8,693.6 453.7,705.2 453.6,709.0 C453.5,712.9 451.4,713.3 448.9,713.6 C446.4,714.0 439.6,714.2 438.6,711.1 C437.6,707.9 441.6,698.2 443.1,694.9Z"/><path d="M267.8,585.3 C265.2,584.5 259.1,582.4 260.1,578.6 C261.1,574.8 271.5,565.3 274.0,562.5 C276.4,559.8 274.7,558.6 275.0,562.1 C275.3,565.5 277.0,579.4 275.8,583.3 C274.6,587.2 270.4,586.1 267.8,585.3Z"/><path d="M245.4,682.8 C244.6,687.2 260.0,697.7 263.1,700.7 C266.2,703.7 262.1,702.3 264.0,700.7 C265.8,699.0 273.2,695.1 274.1,690.8 C275.0,686.5 270.4,677.8 269.4,675.1 C268.3,672.5 271.8,673.4 267.8,674.7 C263.8,676.0 246.1,678.5 245.4,682.8Z"/><path d="M281.8,740.5 C280.4,744.4 280.8,757.4 283.0,760.6 C285.2,763.8 292.5,762.7 295.1,759.6 C297.8,756.6 299.6,745.9 299.0,742.2 C298.3,738.5 294.2,737.7 291.3,737.4 C288.5,737.1 283.2,736.6 281.8,740.5Z"/><path d="M442.2,694.6 C444.1,697.1 439.6,707.7 437.7,710.8 C435.9,714.0 432.9,715.8 430.9,713.4 C429.0,711.0 424.2,699.3 426.1,696.2 C428.0,693.1 440.2,692.2 442.2,694.6Z"/><path d="M288.6,596.7 C286.4,598.0 285.7,600.9 285.3,602.4 C284.8,603.9 284.1,603.1 286.1,605.8 C288.2,608.4 295.0,616.2 297.5,618.3 C300.0,620.5 299.6,620.6 301.2,618.8 C302.7,617.0 307.1,611.5 306.9,607.6 C306.6,603.7 301.2,597.5 299.8,595.4 C298.4,593.2 300.2,594.5 298.3,594.7 C296.4,594.9 290.7,595.4 288.6,596.7Z"/><path d="M275.8,690.3 C278.4,693.5 283.5,695.8 286.7,693.9 C290.0,692.0 294.3,682.2 295.3,678.8 C296.3,675.5 295.6,675.1 292.6,673.8 C289.5,672.4 280.5,670.5 277.0,670.7 C273.4,670.8 271.3,671.4 271.1,674.6 C270.9,677.9 273.2,687.1 275.8,690.3Z"/><path d="M434.0,671.4 C431.9,668.6 423.6,664.3 421.0,662.9 C418.3,661.6 420.0,660.9 418.1,663.3 C416.3,665.7 409.6,673.4 409.9,677.4 C410.2,681.3 416.2,686.6 420.2,687.0 C424.2,687.5 431.6,682.6 433.9,680.0 C436.2,677.4 436.2,674.3 434.0,671.4Z"/><path d="M364.9,735.2 C361.9,736.6 360.3,738.5 358.2,735.0 C356.1,731.4 353.1,717.9 352.4,713.8 C351.8,709.7 351.4,711.1 354.2,710.5 C357.0,709.8 365.8,707.3 369.4,709.9 C372.9,712.5 376.5,721.9 375.8,726.1 C375.0,730.3 367.8,733.7 364.9,735.2Z"/><path d="M239.2,655.8 C242.6,652.5 248.7,638.0 250.3,633.1 C251.9,628.2 249.6,627.9 248.7,626.6 C247.8,625.2 249.1,623.0 245.0,625.0 C240.9,626.9 226.6,633.8 224.1,638.4 C221.5,643.1 227.2,649.8 229.7,652.7 C232.2,655.6 235.7,659.1 239.2,655.8Z"/><path d="M386.4,617.9 C385.9,621.2 389.8,631.9 393.7,632.6 C397.6,633.3 409.2,625.5 409.7,622.1 C410.3,618.8 400.7,613.3 396.8,612.6 C392.9,611.9 386.9,614.6 386.4,617.9Z"/><path d="M419.0,625.6 C417.9,627.7 417.1,633.6 418.6,636.6 C420.0,639.5 424.0,642.5 427.8,643.3 C431.6,644.2 439.2,642.9 441.5,641.6 C443.8,640.3 444.5,638.5 441.8,635.7 C439.1,632.8 429.1,626.1 425.3,624.4 C421.5,622.7 420.2,623.6 419.0,625.6Z"/><path d="M283.1,762.2 C280.2,762.8 278.7,763.2 277.7,764.9 C276.7,766.5 275.8,769.1 277.2,772.1 C278.7,775.2 281.6,783.1 286.5,783.4 C291.4,783.6 305.1,777.2 306.6,773.5 C308.0,769.8 299.2,763.1 295.3,761.3 C291.4,759.4 286.1,761.6 283.1,762.2Z"/><path d="M406.0,591.6 C406.8,595.1 403.8,594.0 408.1,592.3 C412.4,590.7 427.8,583.9 431.6,581.6 C435.4,579.3 432.9,580.6 431.1,578.5 C429.3,576.5 424.2,571.2 420.8,569.3 C417.3,567.3 413.3,566.2 410.4,566.6 C407.5,566.9 404.1,567.2 403.4,571.4 C402.7,575.6 405.3,588.1 406.0,591.6Z"/><path d="M384.8,730.6 C386.3,728.5 389.2,726.2 392.3,727.5 C395.4,728.8 402.6,734.4 403.5,738.2 C404.5,741.9 401.1,749.7 397.7,750.0 C394.4,750.3 385.5,743.1 383.3,739.9 C381.2,736.7 383.3,732.6 384.8,730.6Z"/><path d="M281.8,587.6 C280.0,585.7 278.4,584.7 276.1,584.5 C273.8,584.3 270.1,584.1 268.1,586.4 C266.1,588.8 264.3,595.8 264.2,598.6 C264.0,601.4 263.8,602.9 267.1,603.4 C270.3,603.8 280.3,602.7 283.6,601.4 C286.9,600.2 287.2,598.0 286.9,595.7 C286.6,593.4 283.6,589.5 281.8,587.6Z"/><path d="M382.4,582.7 C383.1,586.8 395.1,592.7 398.8,594.2 C402.5,595.8 404.0,595.6 404.5,591.8 C405.1,588.0 403.6,575.2 401.9,571.6 C400.3,567.9 398.0,568.0 394.7,569.8 C391.4,571.7 381.7,578.6 382.4,582.7Z"/><path d="M283.7,602.8 C280.8,602.6 270.9,601.9 267.2,604.7 C263.6,607.5 260.5,616.4 261.9,619.7 C263.3,623.1 272.0,627.0 275.8,624.7 C279.6,622.4 283.3,609.8 284.6,606.2 C285.9,602.5 286.6,603.1 283.7,602.8Z"/><path d="M265.9,730.2 C264.8,733.4 266.5,736.0 269.0,737.5 C271.6,739.0 277.7,739.3 281.3,739.1 C285.0,738.8 289.7,739.7 290.9,736.0 C292.1,732.3 291.0,719.8 288.4,716.9 C285.8,714.0 279.0,716.2 275.2,718.4 C271.4,720.6 266.9,727.0 265.9,730.2Z"/><path d="M443.2,666.5 C445.6,663.8 448.9,656.9 449.2,654.2 C449.5,651.5 449.4,649.3 445.0,650.4 C440.5,651.6 426.4,659.2 422.5,661.1 C418.6,663.0 419.6,660.3 421.7,661.9 C423.7,663.4 431.1,669.6 434.7,670.4 C438.3,671.2 440.8,669.2 443.2,666.5Z"/><path d="M312.6,682.1 C315.3,682.7 313.1,685.0 313.0,681.9 C312.8,678.7 314.0,666.8 311.8,663.4 C309.7,660.0 303.1,659.7 300.1,661.3 C297.1,662.9 294.5,670.3 293.9,673.1 C293.3,675.9 293.5,676.6 296.6,678.1 C299.7,679.6 309.9,681.5 312.6,682.1Z"/><path d="M399.2,753.9 C399.0,753.1 398.2,753.2 399.2,750.7 C400.2,748.2 402.4,741.4 405.0,738.9 C407.7,736.3 411.4,733.3 415.1,735.4 C418.7,737.5 426.7,747.4 426.8,751.5 C426.9,755.5 419.9,759.0 415.5,759.6 C411.1,760.2 403.1,755.9 400.4,755.0 C397.7,754.0 399.4,754.6 399.2,753.9Z"/><path d="M242.1,658.5 C239.1,658.4 238.6,660.4 240.1,656.3 C241.6,652.1 247.5,635.1 251.2,633.6 C255.0,632.0 261.5,643.0 262.6,646.9 C263.7,650.8 261.4,654.9 258.0,656.9 C254.6,658.8 245.0,658.6 242.1,658.5Z"/><path d="M338.1,657.4 C340.9,655.6 346.3,651.8 350.8,653.2 C355.2,654.5 362.2,662.9 364.7,665.6 C367.3,668.2 368.1,667.1 366.3,669.0 C364.5,670.9 359.0,676.1 354.2,676.9 C349.3,677.7 340.5,675.8 337.2,673.7 C333.9,671.6 334.2,667.0 334.3,664.3 C334.5,661.5 335.4,659.3 338.1,657.4Z"/><path d="M406.7,709.0 C410.3,706.4 417.8,695.6 419.9,692.2 C421.9,688.7 420.8,690.6 419.0,688.3 C417.1,686.1 410.6,680.3 408.7,678.7 C406.8,677.1 410.2,675.0 407.6,678.9 C405.0,682.9 394.5,697.5 393.0,702.3 C391.4,707.1 395.9,706.7 398.2,707.8 C400.5,708.9 403.1,711.6 406.7,709.0Z"/><path d="M237.9,750.2 C241.8,750.5 253.4,753.4 255.7,757.5 C257.9,761.6 253.6,771.6 251.4,775.0 C249.3,778.3 246.2,778.6 242.6,777.4 C238.9,776.3 231.4,771.7 229.6,768.1 C227.9,764.4 230.8,758.7 232.1,755.7 C233.5,752.7 233.9,749.9 237.9,750.2Z"/><path d="M260.4,619.2 C257.7,622.5 252.2,623.4 249.8,624.0 C247.5,624.5 248.3,625.3 246.1,622.4 C243.9,619.5 237.7,610.6 236.5,606.5 C235.4,602.4 237.1,599.5 239.2,597.7 C241.2,595.8 244.8,595.2 248.8,595.5 C252.7,595.8 260.0,598.0 262.8,599.4 C265.6,600.9 266.1,600.9 265.7,604.2 C265.3,607.5 263.0,615.9 260.4,619.2Z"/><path d="M299.9,577.1 C300.9,580.6 299.9,590.0 297.9,592.9 C296.0,595.9 290.7,595.9 288.2,594.9 C285.7,593.9 282.5,590.6 283.1,586.8 C283.8,583.0 289.4,573.5 292.2,571.9 C295.0,570.3 299.0,573.5 299.9,577.1Z"/><path d="M370.4,625.3 C368.2,628.2 368.1,633.3 371.4,635.7 C374.7,638.1 386.8,640.2 390.3,639.7 C393.9,639.3 393.5,636.7 392.7,633.1 C391.8,629.6 386.7,620.9 385.3,618.4 C384.0,615.9 387.2,617.0 384.7,618.2 C382.2,619.3 372.6,622.4 370.4,625.3Z"/><path d="M300.5,742.6 C303.4,739.1 311.0,739.2 313.7,738.9 C316.4,738.6 315.6,735.8 316.6,740.6 C317.7,745.3 321.2,761.9 320.0,767.3 C318.8,772.6 311.6,771.9 309.5,772.7 C307.5,773.6 310.1,774.3 308.0,772.2 C305.8,770.1 297.9,764.9 296.7,760.0 C295.4,755.0 297.7,746.1 300.5,742.6Z"/><path d="M265.1,701.8 C265.1,697.7 271.7,693.0 275.2,692.0 C278.7,690.9 283.7,694.1 286.1,695.6 C288.6,697.0 289.3,697.5 289.8,700.6 C290.3,703.7 289.6,711.6 289.3,714.0 C289.1,716.4 290.6,714.8 288.2,715.2 C285.9,715.7 278.9,718.9 275.0,716.7 C271.2,714.5 265.1,706.0 265.1,701.8Z"/><path d="M406.4,678.2 C407.8,683.7 395.7,698.0 391.8,701.5 C387.8,705.1 385.5,704.3 382.6,699.4 C379.8,694.4 374.6,677.0 374.7,671.9 C374.8,666.7 378.0,667.3 383.3,668.4 C388.6,669.4 405.0,672.7 406.4,678.2Z"/><path d="M384.3,729.2 C386.7,729.3 389.7,729.4 391.7,726.1 C393.8,722.8 396.6,713.2 396.5,709.5 C396.4,705.8 393.6,705.2 391.2,703.9 C388.8,702.7 385.5,700.9 382.1,701.8 C378.6,702.7 371.4,705.5 370.5,709.4 C369.7,713.4 374.6,722.3 376.9,725.6 C379.2,728.9 381.8,729.1 384.3,729.2Z"/><path d="M381.8,583.5 C384.6,585.4 395.6,592.9 398.2,595.1 C400.7,597.2 399.9,595.3 397.1,596.5 C394.2,597.8 384.8,603.4 381.1,602.6 C377.5,601.8 375.0,595.0 375.0,591.8 C375.1,588.7 380.2,585.0 381.4,583.6 C382.5,582.2 379.0,581.6 381.8,583.5Z"/><path d="M320.1,588.2 C316.8,588.8 302.9,591.6 300.9,594.8 C298.8,597.9 305.0,605.1 307.9,607.0 C310.8,608.9 316.0,608.8 318.2,606.2 C320.4,603.5 320.8,594.0 321.2,591.0 C321.5,588.0 323.5,587.6 320.1,588.2Z"/><path d="M401.1,783.3 C403.8,786.6 413.4,779.6 415.7,775.9 C418.0,772.2 417.7,764.2 415.1,761.0 C412.5,757.7 402.3,752.6 400.0,756.3 C397.7,760.1 398.5,780.1 401.1,783.3Z"/><path d="M334.2,768.4 C338.2,765.4 345.7,754.3 345.3,749.4 C344.9,744.4 336.0,740.1 331.5,738.6 C327.0,737.1 319.7,735.6 318.1,740.4 C316.4,745.1 318.8,762.4 321.4,767.1 C324.1,771.8 330.2,771.3 334.2,768.4Z"/><path d="M438.3,712.3 C441.2,712.3 446.3,712.6 448.6,714.9 C450.9,717.1 453.0,722.5 452.2,725.8 C451.3,729.2 447.6,735.8 443.4,734.9 C439.3,733.9 429.2,723.5 427.2,720.2 C425.3,716.9 429.7,716.2 431.5,714.9 C433.4,713.6 435.5,712.3 438.3,712.3Z"/><path d="M442.1,693.8 C445.5,692.9 447.6,692.1 446.3,689.9 C445.0,687.8 438.6,681.2 434.4,680.9 C430.1,680.6 422.8,686.1 420.7,687.9 C418.6,689.8 420.7,690.5 421.6,691.8 C422.5,693.0 422.6,695.0 426.0,695.4 C429.4,695.7 438.7,694.7 442.1,693.8Z"/><path d="M343.2,600.1 C346.3,599.9 356.4,600.3 359.3,601.1 C362.1,601.8 361.4,601.5 360.4,604.4 C359.3,607.3 355.3,615.9 353.0,618.7 C350.7,621.4 348.8,622.4 346.5,620.8 C344.2,619.2 340.1,612.2 339.2,609.1 C338.3,606.0 340.4,603.8 341.0,602.3 C341.7,600.8 340.2,600.3 343.2,600.1Z"/><path d="M447.0,689.0 C444.6,687.6 437.0,682.9 435.0,680.0 C433.1,677.1 433.8,673.5 435.2,671.5 C436.6,669.4 440.4,665.3 443.7,667.6 C447.1,669.8 454.3,681.5 455.3,685.0 C456.3,688.5 450.8,688.0 449.4,688.7 C448.1,689.3 449.4,690.5 447.0,689.0Z"/><path d="M381.6,582.0 C383.7,579.8 393.9,573.6 393.9,569.1 C394.0,564.6 385.7,554.8 381.9,555.0 C378.0,555.2 371.1,565.9 370.9,570.4 C370.8,574.9 379.4,580.1 381.2,582.0 C383.0,583.9 379.5,584.1 381.6,582.0Z"/><path d="M291.6,700.7 C294.5,697.8 303.8,694.9 308.0,696.6 C312.2,698.3 315.2,708.6 316.7,711.1 C318.1,713.6 317.4,710.5 316.6,711.5 C315.9,712.4 316.3,716.3 312.1,716.8 C307.8,717.2 294.6,716.8 291.2,714.1 C287.8,711.4 288.8,703.6 291.6,700.7Z"/><path d="M350.2,705.9 C353.6,708.0 351.8,708.1 351.8,709.2 C351.7,710.3 352.4,710.9 350.0,712.6 C347.7,714.2 342.9,719.2 337.6,719.0 C332.4,718.9 321.8,712.9 318.6,711.6 C315.5,710.3 316.5,713.7 318.7,711.2 C320.8,708.7 326.2,697.6 331.4,696.7 C336.7,695.8 346.8,703.8 350.2,705.9Z"/><path d="M236.3,748.6 C237.2,746.9 238.0,747.1 236.0,744.0 C234.0,740.9 226.6,732.5 224.4,730.2 C222.2,727.9 225.8,727.2 222.9,730.2 C220.0,733.2 205.6,744.1 206.9,748.1 C208.2,752.1 225.7,753.9 230.5,754.0 C235.4,754.1 235.4,750.2 236.3,748.6Z"/><path d="M267.1,586.1 C266.5,583.0 260.8,580.6 259.4,579.4 C257.9,578.3 259.9,576.9 258.2,579.4 C256.5,581.8 248.3,591.2 249.1,594.3 C249.9,597.5 260.1,599.6 263.1,598.3 C266.1,596.9 267.7,589.3 267.1,586.1Z"/><path d="M268.3,672.5 C270.1,675.1 268.7,673.6 270.0,673.0 C271.2,672.4 274.3,671.8 275.8,669.0 C277.4,666.3 279.5,660.4 279.5,656.6 C279.5,652.8 278.6,648.0 276.0,646.5 C273.4,644.9 266.7,645.6 263.9,647.5 C261.1,649.3 258.5,653.3 259.2,657.4 C260.0,661.6 266.6,669.9 268.3,672.5Z"/><path d="M277.2,669.4 C275.2,666.8 277.5,659.0 280.8,657.0 C284.2,655.0 294.1,656.9 297.1,657.5 C300.2,658.2 299.8,658.3 299.1,660.8 C298.3,663.3 296.5,671.1 292.8,672.5 C289.2,674.0 279.2,672.0 277.2,669.4Z"/><path d="M325.3,629.7 C321.1,630.9 316.1,637.4 315.0,640.0 C313.8,642.7 315.6,644.8 318.6,645.7 C321.5,646.6 328.9,647.5 332.6,645.3 C336.2,643.1 341.5,635.3 340.3,632.7 C339.1,630.1 329.5,628.5 325.3,629.7Z"/><path d="M374.7,745.3 C376.3,747.4 376.7,747.9 374.2,749.5 C371.6,751.1 363.3,754.9 359.3,754.7 C355.3,754.5 350.2,751.5 350.0,748.5 C349.8,745.4 355.7,738.4 358.1,736.4 C360.6,734.4 362.0,735.1 364.8,736.6 C367.6,738.1 373.2,743.1 374.7,745.3Z"/><path d="M368.1,624.6 C365.5,623.8 357.0,620.6 353.5,620.2 C350.0,619.8 348.6,620.4 347.0,622.3 C345.4,624.2 343.3,628.8 344.0,631.5 C344.6,634.1 346.8,637.6 351.0,638.4 C355.3,639.2 366.3,636.7 369.4,636.3 C372.5,635.8 369.9,637.7 369.8,635.9 C369.7,634.1 369.1,627.3 368.8,625.5 C368.5,623.6 370.6,625.5 368.1,624.6Z"/><path d="M244.6,683.6 C247.6,686.6 261.2,697.0 262.4,701.5 C263.5,705.9 254.9,709.7 251.3,710.1 C247.6,710.6 242.4,706.4 240.4,703.9 C238.3,701.5 238.2,699.0 238.9,695.6 C239.6,692.2 243.6,685.6 244.5,683.6 C245.5,681.6 241.6,680.6 244.6,683.6Z"/><path d="M425.1,696.5 C423.6,693.0 423.6,690.6 420.7,692.8 C417.8,695.1 407.6,705.1 407.6,709.7 C407.6,714.3 417.7,718.9 420.7,720.4 C423.7,722.0 424.2,720.1 425.7,718.9 C427.3,717.8 430.1,717.4 430.0,713.7 C429.9,709.9 426.7,699.9 425.1,696.5Z"/><path d="M259.5,578.0 C262.0,575.4 274.5,564.5 273.3,562.0 C272.1,559.5 256.2,561.4 252.4,563.0 C248.5,564.6 249.4,569.2 250.4,571.7 C251.4,574.2 256.8,576.9 258.3,578.0 C259.8,579.0 256.9,580.7 259.5,578.0Z"/><path d="M400.3,783.4 C400.3,778.6 399.5,761.1 399.1,756.4 C398.7,751.7 398.7,755.1 397.9,755.3 C397.1,755.4 396.3,754.1 394.2,757.0 C392.1,759.9 386.8,769.2 385.4,772.5 C384.1,775.7 383.6,774.5 385.9,776.6 C388.1,778.6 396.6,783.6 399.0,784.8 C401.4,785.9 400.2,788.1 400.3,783.4Z"/><path d="M455.3,589.3 C453.5,585.0 439.0,582.7 435.4,585.0 C431.8,587.2 433.4,598.9 433.6,602.9 C433.7,606.9 434.3,607.6 436.3,608.9 C438.4,610.2 442.8,613.9 445.9,610.7 C449.1,607.4 457.0,593.5 455.3,589.3Z"/><path d="M321.6,620.7 C318.2,619.6 306.5,619.7 304.1,622.5 C301.7,625.2 305.4,634.3 307.0,637.0 C308.7,639.8 311.2,640.5 314.1,639.1 C317.0,637.7 323.2,631.9 324.4,628.8 C325.7,625.7 325.0,621.7 321.6,620.7Z"/><path d="M240.9,678.8 C239.2,681.8 233.9,680.0 230.1,677.6 C226.2,675.3 217.9,668.7 217.7,664.8 C217.6,661.0 225.6,655.7 229.1,654.5 C232.6,653.3 236.7,656.7 238.6,657.6 C240.5,658.5 240.2,656.3 240.5,659.8 C240.9,663.4 242.7,675.8 240.9,678.8Z"/><path d="M357.7,582.2 C355.0,584.5 348.0,586.9 344.1,585.7 C340.2,584.6 333.2,579.1 334.4,575.4 C335.6,571.8 346.8,564.4 351.0,563.9 C355.3,563.4 359.0,569.4 360.1,572.4 C361.2,575.5 360.3,580.0 357.7,582.2Z"/><path d="M228.8,769.2 C225.0,768.8 218.5,769.1 219.1,776.0 C219.6,782.9 228.0,810.0 231.8,810.5 C235.6,810.9 242.2,785.5 241.7,778.6 C241.2,771.7 232.6,769.7 228.8,769.2Z"/><path d="M441.6,642.5 C444.4,643.4 447.9,646.6 444.6,649.6 C441.4,652.6 424.9,661.2 422.1,660.3 C419.3,659.4 424.7,647.2 427.9,644.2 C431.2,641.2 438.8,641.6 441.6,642.5Z"/><path d="M319.8,587.2 C316.0,590.3 304.0,592.7 300.5,593.7 C297.1,594.7 298.9,595.8 299.0,593.1 C299.1,590.3 297.5,580.9 301.0,577.2 C304.4,573.5 316.1,571.3 319.7,571.0 C323.4,570.6 322.9,572.4 322.9,575.1 C323.0,577.8 323.5,584.1 319.8,587.2Z"/><path d="M375.4,744.5 C378.2,745.2 380.8,742.1 382.2,739.7 C383.6,737.4 384.6,732.5 383.7,730.4 C382.7,728.2 379.4,725.9 376.4,726.8 C373.3,727.7 365.6,732.9 365.4,735.9 C365.3,738.8 372.6,743.9 375.4,744.5Z"/><path d="M317.1,646.6 C316.6,643.8 315.3,642.2 313.5,640.9 C311.8,639.6 308.8,638.5 306.5,638.9 C304.2,639.2 301.0,640.0 299.6,643.0 C298.3,646.0 298.3,653.9 298.4,656.8 C298.5,659.6 298.1,659.1 300.3,660.0 C302.6,660.9 309.3,662.4 312.0,662.1 C314.8,661.8 316.0,660.7 316.9,658.1 C317.7,655.5 317.7,649.5 317.1,646.6Z"/><path d="M322.2,591.2 C318.9,592.0 318.9,603.0 319.3,606.4 C319.7,609.7 321.5,611.0 324.5,611.3 C327.6,611.7 335.1,610.2 337.5,608.6 C340.0,607.0 341.9,604.8 339.4,601.9 C336.8,599.0 325.5,590.5 322.2,591.2Z"/><path d="M250.9,723.1 C247.6,724.5 234.4,721.2 231.0,719.6 C227.7,718.0 229.4,716.0 230.9,713.6 C232.3,711.2 236.4,705.5 239.7,705.1 C243.0,704.7 248.7,708.3 250.6,711.3 C252.5,714.3 254.1,721.8 250.9,723.1Z"/><path d="M318.6,646.7 C321.0,644.7 329.5,644.6 332.6,646.2 C335.6,647.9 336.8,653.8 336.9,656.7 C337.0,659.6 336.2,663.3 333.1,663.6 C330.0,663.8 320.7,661.0 318.3,658.2 C315.9,655.3 316.2,648.6 318.6,646.7Z"/><path d="M384.6,776.7 C381.4,778.5 368.9,782.9 365.2,783.3 C361.5,783.7 362.6,781.5 362.5,778.9 C362.5,776.4 362.8,770.5 365.0,767.9 C367.2,765.3 372.8,762.7 376.0,763.5 C379.2,764.2 382.7,770.4 384.2,772.6 C385.6,774.8 387.7,774.9 384.6,776.7Z"/><path d="M251.9,726.3 C249.7,729.5 241.7,742.5 237.3,742.9 C232.9,743.4 226.7,732.9 225.7,729.1 C224.6,725.4 226.7,721.3 230.9,720.5 C235.1,719.6 247.2,723.0 250.7,724.0 C254.2,724.9 254.2,723.1 251.9,726.3Z"/><path d="M237.4,695.8 C234.8,694.6 226.5,695.0 223.4,696.6 C220.3,698.3 217.9,703.1 219.0,705.7 C220.1,708.4 226.7,713.0 230.0,712.7 C233.3,712.5 237.6,707.0 238.9,704.2 C240.1,701.4 240.0,697.1 237.4,695.8Z"/><path d="M432.1,602.8 C435.4,599.8 434.0,588.1 434.0,584.8 C434.0,581.5 436.4,581.4 432.2,582.9 C428.0,584.4 411.7,590.3 408.7,593.6 C405.7,597.0 410.5,601.4 414.4,602.9 C418.3,604.4 428.9,605.8 432.1,602.8Z"/><path d="M242.9,682.9 C242.4,685.3 240.6,692.7 237.4,694.8 C234.1,697.0 226.5,696.9 223.3,695.7 C220.2,694.4 217.4,690.1 218.5,687.4 C219.6,684.6 226.2,680.3 229.9,679.1 C233.6,677.9 238.6,679.7 240.8,680.3 C243.0,680.9 243.5,680.4 242.9,682.9Z"/><path d="M323.6,612.3 C323.1,610.2 320.9,608.1 318.3,607.4 C315.7,606.7 310.7,606.2 308.0,608.2 C305.4,610.2 303.0,617.2 302.3,619.4 C301.6,621.7 300.8,621.6 304.0,621.7 C307.2,621.8 318.3,621.5 321.5,619.9 C324.8,618.4 324.1,614.4 323.6,612.3Z"/><path d="M297.2,656.7 C300.1,654.5 300.8,645.8 298.4,642.9 C295.9,640.0 285.8,638.5 282.3,639.0 C278.8,639.5 277.6,643.1 277.4,646.0 C277.1,648.8 277.6,654.3 280.9,656.1 C284.2,657.9 294.2,658.9 297.2,656.7Z"/><path d="M380.7,606.0 C380.1,603.8 378.7,605.0 381.5,603.6 C384.3,602.1 395.0,596.2 397.4,597.5 C399.9,598.9 398.3,608.4 396.4,611.7 C394.5,615.0 387.8,616.2 385.9,617.0 C384.1,617.9 386.2,618.6 385.3,616.8 C384.4,614.9 381.3,608.2 380.7,606.0Z"/><path d="M257.5,578.9 C257.7,575.4 253.1,572.8 249.6,572.7 C246.1,572.5 238.7,575.4 236.4,578.0 C234.0,580.5 234.9,585.1 235.3,588.1 C235.7,591.1 236.6,595.1 238.8,596.1 C241.0,597.0 245.3,596.7 248.4,593.9 C251.5,591.0 257.3,582.5 257.5,578.9Z"/><path d="M374.5,750.3 C371.4,750.3 361.2,752.7 359.6,755.5 C358.0,758.3 362.0,765.9 364.6,767.0 C367.3,768.2 373.4,764.5 375.7,762.6 C377.9,760.7 378.4,757.9 378.2,755.8 C378.0,753.8 377.6,750.4 374.5,750.3Z"/><path d="M359.1,582.6 C359.6,585.8 361.9,590.3 364.4,591.7 C366.8,593.1 371.3,592.5 374.0,591.0 C376.6,589.5 381.0,586.1 380.3,582.8 C379.7,579.5 373.2,572.9 370.1,571.2 C366.9,569.5 363.4,570.9 361.6,572.8 C359.8,574.7 358.7,579.4 359.1,582.6Z"/><path d="M369.5,609.4 C367.8,612.3 369.1,621.1 369.2,623.6 C369.3,626.1 367.4,625.4 370.0,624.4 C372.5,623.3 382.6,620.2 384.3,617.2 C385.9,614.3 382.1,607.8 379.6,606.5 C377.2,605.2 371.2,606.6 369.5,609.4Z"/><path d="M287.7,694.4 C288.5,691.1 292.2,681.3 296.3,679.4 C300.4,677.6 310.4,680.7 312.3,683.4 C314.2,686.0 311.2,692.7 307.7,695.4 C304.2,698.1 294.7,699.6 291.4,699.5 C288.0,699.3 286.9,697.8 287.7,694.4Z"/><path d="M384.7,772.1 C381.9,773.1 377.5,765.6 376.6,762.9 C375.7,760.3 376.3,757.2 379.1,756.2 C381.9,755.1 392.6,754.0 393.5,756.6 C394.5,759.3 387.6,771.0 384.7,772.1Z"/><path d="M343.1,586.7 C344.5,590.4 342.6,596.5 342.0,598.9 C341.5,601.3 343.1,602.5 339.8,601.1 C336.6,599.7 325.7,592.7 322.7,590.5 C319.6,588.2 321.3,590.1 321.7,587.7 C322.0,585.2 322.9,577.4 324.8,575.6 C326.8,573.7 330.3,574.5 333.4,576.4 C336.4,578.2 341.6,582.9 343.1,586.7Z"/><path d="M369.3,608.5 C366.3,608.2 363.2,605.3 361.7,604.0 C360.3,602.6 360.2,602.4 360.6,600.6 C361.1,598.8 362.2,594.4 364.5,593.1 C366.7,591.7 371.5,590.7 374.1,592.4 C376.7,594.0 379.3,600.9 380.2,603.1 C381.1,605.3 381.2,604.7 379.4,605.6 C377.5,606.5 372.2,608.8 369.3,608.5Z"/><path d="M416.5,760.9 C414.7,764.7 414.4,772.3 417.1,775.8 C419.8,779.3 429.0,785.4 432.7,781.8 C436.5,778.2 440.4,759.2 439.6,754.3 C438.8,749.5 431.6,751.7 427.7,752.8 C423.9,753.9 418.2,757.1 416.5,760.9Z"/><path d="M285.3,606.5 C288.7,605.5 297.5,615.2 296.7,619.1 C296.0,622.9 284.2,628.5 280.8,629.5 C277.5,630.5 275.8,628.9 276.5,625.0 C277.3,621.2 282.0,607.5 285.3,606.5Z"/><path d="M281.1,740.5 C278.9,736.9 271.9,736.6 268.9,738.9 C265.8,741.3 261.5,750.6 262.9,754.7 C264.2,758.7 273.7,762.3 276.9,763.2 C280.2,764.2 281.7,764.4 282.4,760.6 C283.1,756.8 283.4,744.1 281.1,740.5Z"/><path d="M342.7,632.7 C344.2,633.8 348.5,636.4 349.8,639.7 C351.1,642.9 352.4,649.3 350.4,652.1 C348.4,654.9 340.6,657.4 337.8,656.4 C334.9,655.3 332.9,649.7 333.5,645.9 C334.1,642.0 339.7,635.4 341.2,633.2 C342.8,631.0 341.3,631.6 342.7,632.7Z"/></g>
<path d="M323.0,326.0 C322.0,327.4 329.7,330.8 332.0,334.0 C334.3,337.2 335.8,341.2 337.0,345.0 C338.2,348.8 339.0,353.0 339.5,357.0 C340.0,361.0 340.1,365.2 340.0,369.0 C339.9,372.8 339.7,376.7 339.0,380.0 C338.3,383.3 337.3,386.0 336.0,389.0 C334.7,392.0 333.2,395.3 331.0,398.0 C328.8,400.7 326.0,402.7 323.0,405.0 C320.0,407.3 315.8,409.7 313.0,412.0 C310.2,414.3 308.0,416.5 306.0,419.0 C304.0,421.5 302.3,424.2 301.0,427.0 C299.7,429.8 298.7,431.7 298.0,436.0 C297.3,440.3 296.9,446.8 297.0,453.0 C297.1,459.2 297.2,466.7 298.5,473.0 C299.8,479.3 302.2,485.5 305.0,491.0 C307.8,496.5 310.8,501.7 315.0,506.0 C319.2,510.3 325.0,514.5 330.0,517.0 C335.0,519.5 311.7,521.2 345.0,521.0 C378.3,520.8 499.2,518.5 530.0,516.0 C560.8,513.5 536.7,507.8 530.0,506.0 C523.3,504.2 505.0,506.5 490.0,505.0 C475.0,503.5 454.2,501.5 440.0,497.0 C425.8,492.5 415.0,485.8 405.0,478.0 C395.0,470.2 387.2,461.3 380.0,450.0 C372.8,438.7 366.0,421.7 362.0,410.0 C358.0,398.3 357.7,394.0 356.0,380.0 C354.3,366.0 355.0,335.1 352.0,326.0 C349.0,316.9 342.8,325.5 338.0,325.5 C333.2,325.5 324.0,324.6 323.0,326.0Z" fill="#f7d47e"/>
<g clip-path="url(#cUFat)" fill="url(#gCell)" stroke="#f8d888" stroke-width="0.5"><path d="M351.7,394.4 C348.2,395.1 345.1,392.3 345.3,389.0 C345.5,385.7 349.2,376.0 352.9,374.7 C356.5,373.4 365.0,379.6 367.2,381.4 C369.4,383.1 368.8,382.8 366.2,385.0 C363.6,387.1 355.2,393.7 351.7,394.4Z"/><path d="M338.9,328.3 C338.5,330.7 336.9,336.6 334.7,338.2 C332.5,339.8 327.4,338.0 325.9,338.0 C324.4,337.9 326.9,339.2 325.7,337.9 C324.5,336.5 318.4,332.7 318.7,329.9 C318.9,327.0 324.3,321.8 327.4,320.8 C330.5,319.8 335.2,322.9 337.2,324.1 C339.1,325.4 339.4,326.0 338.9,328.3Z"/><path d="M479.1,348.9 C478.4,345.4 472.6,340.2 469.3,338.3 C466.0,336.3 461.9,334.7 459.3,337.1 C456.6,339.5 454.3,349.8 453.4,352.8 C452.5,355.8 450.4,353.9 453.7,354.9 C457.1,356.0 469.5,360.1 473.8,359.1 C478.0,358.1 479.9,352.3 479.1,348.9Z"/><path d="M499.7,498.1 C500.9,495.1 509.6,490.1 511.7,488.6 C513.9,487.0 511.4,487.1 512.4,488.7 C513.4,490.2 517.1,495.6 517.8,497.9 C518.4,500.2 516.8,501.5 516.4,502.5 C516.0,503.5 517.4,503.3 515.4,503.9 C513.5,504.6 507.3,507.4 504.7,506.4 C502.1,505.4 498.6,501.0 499.7,498.1Z"/><path d="M530.2,417.0 C537.5,417.5 564.9,428.4 565.0,432.0 C565.0,435.6 537.9,439.1 530.7,438.6 C523.4,438.1 521.4,432.8 521.3,429.2 C521.2,425.6 522.9,416.5 530.2,417.0Z"/><path d="M420.1,455.2 C417.2,454.4 410.6,450.0 410.4,447.0 C410.2,444.1 415.7,438.6 419.1,437.6 C422.4,436.6 428.6,440.2 430.6,440.9 C432.6,441.5 431.0,440.8 431.2,441.4 C431.4,442.0 432.6,442.7 432.0,444.5 C431.4,446.3 429.6,450.2 427.6,452.0 C425.6,453.8 423.0,456.0 420.1,455.2Z"/><path d="M333.9,436.6 C332.3,438.1 328.8,442.9 328.1,445.7 C327.4,448.4 327.8,451.5 329.7,453.1 C331.6,454.7 337.5,455.3 339.5,455.4 C341.6,455.6 341.6,454.7 342.2,453.8 C342.8,452.9 343.8,452.8 343.1,450.0 C342.3,447.2 339.2,439.1 337.7,436.8 C336.1,434.6 335.5,435.1 333.9,436.6Z"/><path d="M480.2,412.3 C479.7,415.0 479.9,413.0 479.0,412.8 C478.1,412.7 476.9,413.7 474.9,411.6 C472.9,409.4 468.2,401.7 466.8,399.7 C465.5,397.8 465.5,400.8 466.8,399.7 C468.1,398.6 472.1,393.6 474.6,393.2 C477.1,392.7 481.0,393.6 481.9,396.8 C482.9,400.0 480.7,409.7 480.2,412.3Z"/><path d="M496.4,453.5 C498.6,450.0 502.5,436.1 503.7,432.4 C504.8,428.8 504.0,431.9 503.5,431.6 C503.0,431.3 504.3,430.0 500.7,430.7 C497.0,431.5 483.4,432.6 481.7,436.3 C480.1,440.1 488.2,450.4 490.7,453.2 C493.1,456.1 494.3,456.9 496.4,453.5Z"/><path d="M335.2,411.5 C337.5,411.5 340.8,417.3 342.1,419.1 C343.4,420.9 342.9,421.4 342.9,422.2 C342.9,422.9 344.5,423.6 342.1,423.6 C339.6,423.6 330.6,422.7 328.3,421.9 C326.1,421.2 327.4,420.8 328.6,419.0 C329.7,417.3 333.0,411.5 335.2,411.5Z"/><path d="M379.4,475.2 C378.1,474.8 377.4,475.1 377.1,473.6 C376.7,472.1 375.4,469.0 377.1,466.1 C378.7,463.1 383.6,456.1 386.9,456.0 C390.1,456.0 397.1,462.6 396.6,465.9 C396.2,469.2 387.2,474.3 384.3,475.8 C381.5,477.3 380.6,475.5 379.4,475.2Z"/><path d="M430.6,507.6 C428.7,506.0 421.6,500.4 418.7,499.3 C415.7,498.2 414.8,499.2 413.1,501.1 C411.3,503.0 407.3,508.2 408.2,510.8 C409.2,513.4 415.2,517.0 418.9,516.7 C422.6,516.3 428.3,510.2 430.3,508.7 C432.3,507.2 432.6,509.2 430.6,507.6Z"/><path d="M387.3,388.2 C388.1,389.6 389.6,393.2 391.6,394.9 C393.5,396.6 396.0,398.5 398.9,398.6 C401.8,398.7 406.4,396.9 408.9,395.6 C411.3,394.2 414.4,393.2 413.7,390.4 C413.1,387.6 409.2,379.5 404.8,378.9 C400.4,378.2 390.2,385.2 387.3,386.7 C384.4,388.3 386.6,386.9 387.3,388.2Z"/><path d="M387.4,491.0 C389.0,488.8 387.2,482.6 386.6,480.3 C386.1,478.0 385.4,477.9 384.1,477.2 C382.9,476.6 380.3,473.9 379.2,476.6 C378.0,479.3 375.9,491.3 377.2,493.7 C378.6,496.1 385.8,493.2 387.4,491.0Z"/><path d="M452.6,383.9 C454.1,382.3 457.9,379.5 457.5,376.0 C457.1,372.5 453.9,363.9 450.0,362.8 C446.2,361.7 437.1,368.2 434.4,369.4 C431.7,370.6 434.0,369.1 433.8,370.0 C433.5,371.0 430.6,372.4 433.1,374.9 C435.5,377.5 445.3,383.8 448.6,385.3 C451.8,386.8 451.1,385.4 452.6,383.9Z"/><path d="M374.4,398.9 C376.4,396.9 383.8,389.3 386.5,388.8 C389.2,388.2 391.6,392.9 390.7,395.4 C389.8,397.9 384.0,402.7 381.3,403.6 C378.5,404.5 375.5,401.6 374.4,400.8 C373.2,400.0 372.4,400.9 374.4,398.9Z"/><path d="M502.5,517.2 C502.4,514.7 502.7,509.4 504.9,507.3 C507.1,505.2 513.1,503.0 515.6,504.9 C518.2,506.7 521.8,515.5 520.1,518.4 C518.4,521.3 508.6,522.4 505.7,522.3 C502.7,522.1 502.7,519.7 502.5,517.2Z"/><path d="M325.4,542.6 C322.6,541.4 315.4,527.2 315.1,522.4 C314.8,517.7 321.9,515.4 323.7,514.1 C325.4,512.8 324.2,512.1 325.5,514.6 C326.8,517.2 331.4,524.7 331.4,529.3 C331.4,534.0 328.1,543.7 325.4,542.6Z"/><path d="M469.4,467.7 C468.6,467.4 467.6,469.5 465.6,465.4 C463.5,461.3 456.6,448.0 457.3,443.1 C458.0,438.3 466.7,437.1 469.8,436.2 C472.8,435.3 475.4,432.3 475.4,437.5 C475.5,442.7 471.2,462.4 470.2,467.4 C469.2,472.4 470.2,468.0 469.4,467.7Z"/><path d="M496.3,365.2 C494.0,366.3 486.3,368.4 482.9,368.2 C479.5,367.9 477.1,364.9 475.8,363.5 C474.5,362.1 474.3,362.1 475.1,359.8 C475.9,357.4 478.5,351.4 480.5,349.6 C482.4,347.7 484.4,346.8 487.1,348.8 C489.8,350.7 495.1,358.6 496.6,361.3 C498.1,364.0 498.5,364.0 496.3,365.2Z"/><path d="M322.9,428.5 C321.7,428.0 319.4,425.3 316.2,425.6 C313.1,425.9 306.3,428.0 304.2,430.3 C302.1,432.6 303.3,436.9 303.8,439.3 C304.4,441.7 306.8,443.8 307.5,444.8 C308.2,445.7 306.3,445.8 308.0,444.9 C309.7,444.0 315.1,442.0 317.6,439.4 C320.1,436.7 322.1,430.6 322.9,428.7 C323.8,426.9 324.0,429.0 322.9,428.5Z"/><path d="M422.7,474.4 C421.8,472.5 420.5,468.2 417.1,466.8 C413.8,465.3 405.4,465.7 402.7,465.7 C400.0,465.7 400.7,464.1 401.0,466.8 C401.3,469.6 401.8,479.6 404.7,482.2 C407.5,484.8 415.1,483.0 418.1,482.3 C421.1,481.6 421.9,479.3 422.7,478.0 C423.4,476.7 423.6,476.3 422.7,474.4Z"/><path d="M490.9,496.4 C492.3,496.7 496.6,496.9 498.7,498.7 C500.8,500.5 503.2,504.0 503.7,507.0 C504.1,510.0 504.1,515.7 501.3,516.9 C498.4,518.2 488.3,518.0 486.4,514.6 C484.6,511.3 489.5,499.8 490.3,496.8 C491.0,493.7 489.5,496.0 490.9,496.4Z"/><path d="M502.7,391.6 C504.4,393.7 507.2,403.6 505.8,406.3 C504.3,409.0 496.2,409.6 494.1,408.1 C491.9,406.6 492.6,399.6 492.9,397.2 C493.1,394.8 493.9,394.7 495.5,393.8 C497.2,392.8 501.0,389.5 502.7,391.6Z"/><path d="M353.3,373.8 C350.8,372.4 352.0,374.2 352.6,372.0 C353.3,369.9 356.0,362.8 357.2,360.9 C358.3,358.9 357.3,359.1 359.6,360.3 C362.0,361.4 368.9,365.1 371.1,367.8 C373.2,370.4 373.2,374.2 372.6,376.3 C372.1,378.4 370.9,380.8 367.6,380.4 C364.4,380.0 355.8,375.2 353.3,373.8Z"/><path d="M527.1,477.4 C530.3,477.4 532.6,484.9 533.0,488.0 C533.4,491.0 532.0,494.2 529.6,495.8 C527.2,497.4 521.4,498.6 518.8,497.3 C516.1,496.0 512.0,491.4 513.4,488.1 C514.8,484.8 523.8,477.4 527.1,477.4Z"/><path d="M491.3,495.0 C492.6,497.2 495.8,498.5 499.1,497.3 C502.4,496.1 510.4,490.8 511.1,487.8 C511.8,484.8 506.6,479.9 503.4,479.3 C500.1,478.7 493.7,481.3 491.7,484.0 C489.7,486.6 490.1,492.7 491.3,495.0Z"/><path d="M332.1,529.1 C329.8,527.5 326.3,517.0 326.1,514.4 C326.0,511.7 328.8,512.2 331.0,513.1 C333.3,514.1 338.3,518.1 339.7,519.9 C341.1,521.7 340.7,522.2 339.5,523.8 C338.2,525.3 334.3,530.7 332.1,529.1Z"/><path d="M446.9,425.4 C450.3,425.7 453.5,421.4 454.7,419.5 C455.9,417.6 457.0,416.8 454.0,414.1 C451.0,411.5 440.1,405.2 436.7,403.6 C433.3,401.9 434.5,402.9 433.7,404.3 C432.9,405.8 432.0,410.1 432.1,412.4 C432.2,414.6 431.9,415.4 434.3,417.6 C436.8,419.7 443.5,425.0 446.9,425.4Z"/><path d="M480.2,347.8 C477.5,346.2 469.9,341.3 470.4,337.2 C470.9,333.1 480.9,325.6 483.4,323.3 C485.9,320.9 484.8,322.9 485.3,323.0 C485.9,323.0 485.5,320.7 486.6,323.6 C487.8,326.6 492.2,336.9 492.2,340.8 C492.3,344.7 488.9,345.9 486.9,347.0 C484.9,348.2 483.0,349.5 480.2,347.8Z"/><path d="M301.1,412.2 C301.3,416.0 298.2,418.3 296.1,419.7 C294.0,421.1 291.4,421.6 288.5,420.6 C285.7,419.6 278.4,417.6 279.0,413.9 C279.7,410.1 289.6,401.0 292.3,398.2 C295.0,395.5 293.7,395.1 295.1,397.4 C296.6,399.7 300.9,408.5 301.1,412.2Z"/><path d="M359.7,343.9 C362.1,343.6 362.4,344.0 363.4,344.8 C364.4,345.7 366.1,346.6 365.5,348.9 C364.8,351.2 360.7,357.1 359.3,358.8 C357.9,360.6 357.9,359.8 356.8,359.4 C355.7,359.0 354.5,358.5 352.9,356.6 C351.3,354.8 347.9,349.8 347.2,348.2 C346.4,346.6 346.4,347.6 348.5,346.9 C350.6,346.2 357.2,344.3 359.7,343.9Z"/><path d="M355.1,520.6 C353.1,517.6 351.0,510.7 353.6,509.4 C356.2,508.1 367.4,511.0 370.5,512.8 C373.6,514.7 373.0,518.0 372.2,520.5 C371.3,522.9 368.1,527.5 365.2,527.5 C362.4,527.5 357.0,523.7 355.1,520.6Z"/><path d="M387.0,386.0 C391.1,386.0 401.9,380.9 404.5,378.1 C407.0,375.3 403.8,371.3 402.3,369.3 C400.9,367.3 399.5,364.7 395.7,366.1 C392.0,367.5 381.2,374.5 379.7,377.8 C378.2,381.1 382.8,385.9 387.0,386.0Z"/><path d="M337.6,322.9 C340.2,321.9 343.1,318.1 343.4,313.7 C343.8,309.3 342.4,296.3 339.5,296.5 C336.6,296.6 327.9,310.6 326.0,314.5 C324.0,318.3 325.9,318.2 327.8,319.6 C329.8,321.0 335.0,323.9 337.6,322.9Z"/><path d="M431.4,345.9 C434.4,343.5 448.0,351.6 451.4,353.2 C454.7,354.7 452.0,353.9 451.7,355.3 C451.4,356.7 452.5,359.3 449.5,361.5 C446.5,363.6 436.8,370.6 433.8,368.0 C430.8,365.4 428.5,348.4 431.4,345.9Z"/><path d="M520.4,430.2 C524.2,431.7 528.8,436.7 529.7,439.5 C530.7,442.4 527.6,445.7 526.0,447.3 C524.4,448.9 522.4,449.5 520.1,449.0 C517.9,448.5 514.8,447.2 512.3,444.4 C509.9,441.6 506.6,434.3 505.5,432.2 C504.3,430.0 505.1,431.6 505.3,431.4 C505.6,431.1 504.4,430.7 506.9,430.5 C509.4,430.3 516.6,428.7 520.4,430.2Z"/><path d="M307.6,446.7 C305.7,444.7 309.1,444.5 307.2,446.6 C305.2,448.7 297.8,457.0 295.9,459.4 C293.9,461.8 293.3,458.9 295.6,461.0 C298.0,463.0 306.5,470.1 309.9,471.6 C313.3,473.1 314.7,472.1 316.1,470.0 C317.6,467.8 319.9,462.5 318.4,458.6 C317.0,454.7 309.5,448.7 307.6,446.7Z"/><path d="M509.4,349.0 C506.9,349.6 498.9,343.2 498.2,340.6 C497.5,338.0 502.6,334.1 505.2,333.5 C507.7,333.0 512.7,334.6 513.4,337.2 C514.1,339.8 512.0,348.4 509.4,349.0Z"/><path d="M322.3,357.4 C323.9,358.9 323.7,356.3 322.5,357.7 C321.4,359.2 319.5,365.7 315.4,365.9 C311.2,366.2 300.5,360.8 297.4,359.2 C294.3,357.6 294.1,358.0 296.7,356.2 C299.3,354.5 308.6,348.5 312.9,348.7 C317.2,348.9 320.7,355.9 322.3,357.4Z"/><path d="M334.4,364.2 C333.9,367.0 331.0,373.9 328.4,376.2 C325.9,378.5 320.8,377.8 318.9,377.9 C317.1,378.1 317.9,378.9 317.5,377.1 C317.1,375.2 315.4,369.9 316.4,366.8 C317.4,363.8 321.1,359.9 323.6,358.7 C326.0,357.4 329.3,358.3 331.1,359.3 C332.9,360.2 334.8,361.4 334.4,364.2Z"/><path d="M327.5,396.6 C325.3,397.9 327.4,399.4 326.0,396.5 C324.6,393.6 318.7,382.2 319.1,379.0 C319.6,375.8 325.8,376.7 328.6,377.2 C331.5,377.7 334.6,380.2 336.4,382.1 C338.2,384.0 341.1,386.2 339.6,388.6 C338.2,391.0 329.8,395.3 327.5,396.6Z"/><path d="M353.1,331.2 C352.6,328.8 354.2,327.9 356.4,328.8 C358.6,329.7 365.2,334.0 366.4,336.5 C367.6,339.1 364.7,342.9 363.6,344.0 C362.5,345.1 361.6,345.2 359.9,343.1 C358.1,340.9 353.7,333.5 353.1,331.2Z"/><path d="M430.4,425.1 C428.4,423.2 421.2,427.5 419.0,428.5 C416.8,429.6 417.3,429.9 417.3,431.2 C417.4,432.5 417.2,435.0 419.4,436.4 C421.7,437.8 429.1,441.5 431.0,439.6 C432.8,437.7 432.4,426.9 430.4,425.1Z"/><path d="M515.5,371.1 C519.4,369.7 522.6,360.8 521.7,357.7 C520.8,354.7 514.3,352.2 510.3,352.8 C506.4,353.4 500.3,359.4 498.2,361.5 C496.1,363.6 497.8,364.5 497.9,365.3 C497.9,366.1 495.4,365.1 498.3,366.1 C501.3,367.1 511.6,372.5 515.5,371.1Z"/><path d="M516.8,371.7 C517.7,368.9 521.4,360.8 523.0,358.3 C524.6,355.9 523.4,354.3 526.3,357.1 C529.1,360.0 539.2,371.4 540.0,375.4 C540.9,379.5 534.9,381.5 531.1,381.5 C527.4,381.4 519.8,376.8 517.5,375.2 C515.1,373.6 515.9,374.5 516.8,371.7Z"/><path d="M432.9,441.0 C430.8,443.0 431.8,442.6 433.6,444.1 C435.5,445.6 440.5,450.2 444.1,449.9 C447.6,449.7 454.7,445.6 455.1,442.5 C455.5,439.5 450.0,431.8 446.3,431.6 C442.6,431.3 435.0,438.9 432.9,441.0Z"/><path d="M359.6,489.4 C362.2,487.0 370.6,479.2 370.3,475.7 C369.9,472.2 361.5,467.4 357.8,468.3 C354.1,469.1 349.7,478.1 348.2,480.7 C346.8,483.3 348.1,482.3 349.2,483.9 C350.3,485.5 353.1,489.3 354.8,490.2 C356.6,491.1 357.1,491.8 359.6,489.4Z"/><path d="M331.4,512.7 C331.1,510.3 335.1,506.4 338.2,505.3 C341.3,504.2 347.8,505.6 349.8,505.9 C351.9,506.3 352.1,505.2 350.4,507.4 C348.8,509.7 343.2,518.6 340.1,519.4 C336.9,520.3 331.7,515.0 331.4,512.7Z"/><path d="M350.6,395.6 C349.5,394.4 346.0,391.2 344.3,390.2 C342.6,389.2 343.1,388.5 340.4,389.8 C337.8,391.0 329.1,394.8 328.3,397.8 C327.6,400.8 332.5,406.4 335.8,407.6 C339.1,408.8 345.6,406.8 348.1,405.2 C350.7,403.5 350.7,399.4 351.1,397.8 C351.5,396.2 351.8,396.9 350.6,395.6Z"/><path d="M314.9,367.0 C318.1,369.8 318.5,374.3 316.0,377.2 C313.5,380.2 304.0,385.2 300.0,384.8 C296.0,384.3 292.5,378.4 292.0,374.3 C291.5,370.2 293.2,361.5 297.0,360.3 C300.8,359.1 311.8,364.2 314.9,367.0Z"/><path d="M291.0,483.8 C293.7,486.3 298.7,486.4 301.7,484.6 C304.7,482.7 310.3,476.4 309.1,472.6 C308.0,468.8 298.8,462.5 294.9,462.0 C290.9,461.4 286.2,465.7 285.6,469.3 C285.0,473.0 288.3,481.3 291.0,483.8Z"/><path d="M530.4,406.6 C527.2,406.1 520.6,399.9 520.6,396.9 C520.6,393.8 527.3,387.6 530.5,388.1 C533.6,388.6 539.4,396.6 539.3,399.7 C539.3,402.8 533.5,407.1 530.4,406.6Z"/><path d="M490.0,494.9 C490.1,493.0 491.9,487.5 490.4,483.9 C488.9,480.3 483.5,475.5 480.9,473.2 C478.2,470.9 476.1,470.6 474.5,470.1 C472.9,469.6 471.9,470.0 471.2,470.1 C470.5,470.1 471.5,467.8 470.4,470.4 C469.4,473.0 464.6,481.6 465.1,485.7 C465.6,489.8 469.5,493.4 473.5,495.0 C477.6,496.6 486.6,495.3 489.3,495.3 C492.1,495.3 489.8,496.8 490.0,494.9Z"/><path d="M513.7,336.5 C510.6,336.6 506.9,334.6 505.5,332.8 C504.0,331.0 503.6,327.2 504.9,325.5 C506.2,323.9 510.8,323.2 513.3,323.0 C515.7,322.8 517.6,323.5 519.6,324.4 C521.5,325.3 524.3,327.3 525.1,328.6 C525.9,329.9 526.4,330.9 524.5,332.2 C522.6,333.5 516.9,336.3 513.7,336.5Z"/><path d="M491.4,483.0 C494.9,484.0 500.8,481.2 503.0,478.4 C505.2,475.6 508.2,467.3 504.7,466.3 C501.2,465.2 484.1,469.5 481.9,472.3 C479.6,475.1 487.8,482.0 491.4,483.0Z"/><path d="M471.2,467.6 C471.6,462.6 475.0,442.9 476.5,437.7 C478.0,432.5 479.2,436.8 480.0,436.6 C480.7,436.5 479.3,433.9 480.9,436.8 C482.6,439.6 490.9,448.5 489.8,453.7 C488.8,458.8 477.6,465.3 474.5,467.6 C471.4,469.9 470.9,472.6 471.2,467.6Z"/><path d="M309.5,316.3 C306.1,314.4 295.8,317.3 292.9,318.0 C290.0,318.7 291.4,317.9 292.0,320.3 C292.6,322.8 293.9,330.6 296.6,332.6 C299.4,334.6 305.6,333.1 308.4,332.5 C311.2,332.0 313.2,332.1 313.4,329.4 C313.5,326.7 312.9,318.2 309.5,316.3Z"/><path d="M418.3,428.1 C418.9,425.8 421.5,419.5 420.2,417.4 C418.8,415.2 412.4,415.0 410.2,415.2 C407.9,415.4 407.4,416.8 406.7,418.7 C406.1,420.5 404.8,424.2 406.4,426.2 C408.0,428.2 414.6,430.4 416.6,430.7 C418.5,431.0 417.7,430.3 418.3,428.1Z"/><path d="M504.5,332.9 C505.6,330.5 504.9,327.5 503.9,325.6 C502.9,323.7 501.2,322.0 498.5,321.6 C495.8,321.2 488.6,320.1 487.7,323.3 C486.8,326.4 491.6,337.6 493.3,340.4 C494.9,343.2 495.7,341.2 497.5,340.0 C499.4,338.7 503.4,335.3 504.5,332.9Z"/><path d="M505.9,466.4 C506.3,464.3 505.2,465.7 506.5,465.6 C507.8,465.4 510.4,464.2 513.8,465.4 C517.2,466.6 524.7,471.1 526.8,472.9 C528.9,474.7 528.7,474.1 526.3,476.5 C524.0,478.8 515.0,485.4 512.6,487.1 C510.3,488.9 513.4,488.4 512.0,487.0 C510.6,485.6 505.2,482.0 504.2,478.5 C503.2,475.1 505.5,468.6 505.9,466.4Z"/><path d="M347.3,484.5 C344.6,486.4 334.1,492.6 330.3,492.9 C326.6,493.2 325.6,488.1 324.7,486.3 C323.7,484.5 321.8,483.5 324.6,482.0 C327.4,480.5 337.7,477.3 341.3,477.1 C344.9,477.0 345.3,480.0 346.3,481.2 C347.3,482.4 349.9,482.5 347.3,484.5Z"/><path d="M378.3,335.5 C381.3,335.7 389.6,334.5 392.0,333.9 C394.3,333.4 393.5,335.2 392.4,332.2 C391.3,329.3 388.6,318.4 385.4,316.2 C382.3,314.0 375.2,316.5 373.3,319.3 C371.5,322.0 373.5,329.9 374.3,332.6 C375.2,335.3 375.4,335.3 378.3,335.5Z"/><path d="M319.6,400.3 C315.5,399.2 303.5,392.9 300.3,390.5 C297.2,388.2 297.9,388.0 300.6,386.0 C303.4,384.0 313.7,379.6 316.6,378.5 C319.5,377.4 316.7,376.3 318.1,379.4 C319.5,382.4 324.7,393.4 325.0,396.9 C325.2,400.4 323.7,401.3 319.6,400.3Z"/><path d="M299.7,518.7 C299.3,520.8 301.2,518.5 299.4,519.0 C297.6,519.4 292.1,523.0 288.8,521.3 C285.4,519.5 279.3,511.9 279.2,508.5 C279.1,505.1 284.4,501.3 288.1,501.0 C291.9,500.7 299.7,503.6 301.7,506.5 C303.6,509.5 300.1,516.6 299.7,518.7Z"/><path d="M487.7,382.7 C485.8,380.8 485.0,381.0 483.0,381.5 C481.1,382.0 477.3,383.9 476.0,385.7 C474.6,387.5 474.0,390.5 475.1,392.2 C476.2,393.9 479.6,395.2 482.4,395.9 C485.2,396.6 489.8,396.9 491.8,396.4 C493.8,395.9 495.1,395.2 494.4,392.9 C493.7,390.6 489.6,384.6 487.7,382.7Z"/><path d="M520.5,450.2 C518.5,452.8 513.4,460.5 514.6,464.1 C515.8,467.6 523.9,471.4 527.6,471.6 C531.2,471.7 536.7,468.7 536.5,464.8 C536.3,460.9 529.0,450.9 526.3,448.4 C523.7,446.0 522.4,447.5 520.5,450.2Z"/><path d="M337.6,467.9 C341.2,465.6 340.6,459.0 339.2,456.8 C337.9,454.6 332.6,454.1 329.4,454.5 C326.1,454.8 321.9,456.3 319.9,458.9 C318.0,461.5 318.0,468.4 317.6,470.3 C317.3,472.2 314.4,470.8 317.7,470.4 C321.1,470.0 334.0,470.1 337.6,467.9Z"/><path d="M464.9,523.1 C462.6,525.0 454.2,524.4 452.0,524.6 C449.8,524.8 451.6,527.2 451.5,524.3 C451.4,521.4 449.0,509.2 451.4,507.3 C453.8,505.4 463.6,510.4 465.9,513.0 C468.1,515.6 467.2,521.1 464.9,523.1Z"/><path d="M418.2,436.9 C417.1,439.3 411.4,444.7 409.6,446.3 C407.7,447.9 409.3,447.6 407.1,446.6 C405.0,445.6 398.7,442.4 396.9,440.4 C395.1,438.4 394.9,437.0 396.5,434.8 C398.0,432.6 402.7,427.7 406.0,427.2 C409.3,426.7 414.1,430.1 416.1,431.7 C418.2,433.3 419.3,434.4 418.2,436.9Z"/><path d="M392.1,508.1 C395.2,509.8 395.0,513.3 395.5,515.0 C395.9,516.7 395.3,517.4 394.9,518.4 C394.5,519.4 396.2,520.2 393.2,520.7 C390.2,521.3 380.1,521.6 376.9,521.5 C373.6,521.5 374.4,521.7 373.6,520.2 C372.8,518.7 371.3,515.0 371.9,512.5 C372.4,510.0 373.5,505.7 376.9,505.0 C380.3,504.2 389.0,506.5 392.1,508.1Z"/><path d="M445.9,326.6 C449.3,328.8 450.7,327.4 452.1,326.3 C453.5,325.2 456.6,327.0 454.3,320.1 C451.9,313.2 441.6,286.0 437.9,284.9 C434.1,283.8 430.2,306.4 431.5,313.3 C432.9,320.3 442.5,324.4 445.9,326.6Z"/><path d="M301.3,519.0 C299.5,516.5 302.1,509.7 303.3,506.8 C304.5,503.8 305.8,501.4 308.5,501.2 C311.2,501.1 317.0,503.8 319.4,505.8 C321.8,507.8 323.8,510.7 322.9,513.3 C322.1,516.0 317.9,520.7 314.3,521.7 C310.7,522.6 303.2,521.5 301.3,519.0Z"/><path d="M340.4,327.7 C342.6,328.8 350.1,329.8 352.1,330.2 C354.1,330.6 351.8,330.5 352.4,330.1 C353.0,329.7 354.4,329.8 355.7,327.8 C357.0,325.8 362.0,320.3 360.1,318.0 C358.3,315.8 348.0,313.4 344.4,314.3 C340.8,315.2 339.3,321.3 338.6,323.5 C337.9,325.7 338.1,326.6 340.4,327.7Z"/><path d="M348.0,527.4 C350.3,526.9 353.3,523.8 354.0,520.8 C354.8,517.8 353.1,511.7 352.6,509.5 C352.1,507.4 353.0,506.2 351.0,507.9 C349.0,509.7 342.4,517.3 340.7,520.0 C338.9,522.6 339.2,522.6 340.4,523.8 C341.7,525.1 345.7,527.9 348.0,527.4Z"/><path d="M418.5,517.4 C419.8,520.2 418.9,528.1 415.3,528.3 C411.7,528.6 399.8,520.9 396.9,518.7 C393.9,516.5 395.6,516.5 397.4,515.3 C399.2,514.1 404.3,511.1 407.9,511.4 C411.4,511.8 417.3,514.6 418.5,517.4Z"/><path d="M347.3,480.0 C344.9,481.4 343.7,477.9 342.3,475.9 C340.9,473.9 339.2,471.2 338.9,468.1 C338.6,464.9 339.8,459.1 340.5,457.0 C341.2,454.9 340.5,454.7 343.2,455.3 C345.9,456.0 354.4,458.9 356.7,461.0 C358.9,463.0 358.4,464.4 356.9,467.6 C355.3,470.7 349.8,478.6 347.3,480.0Z"/><path d="M371.7,366.9 C368.7,367.0 361.1,362.3 360.2,359.4 C359.3,356.5 363.9,350.9 366.4,349.5 C368.8,348.0 373.1,349.0 375.0,350.5 C376.9,352.0 378.4,355.7 377.9,358.5 C377.3,361.2 374.6,366.7 371.7,366.9Z"/><path d="M311.6,412.6 C313.9,414.5 317.2,422.0 315.9,424.8 C314.6,427.6 307.0,430.2 303.9,429.5 C300.8,428.8 297.6,423.3 297.4,420.5 C297.1,417.8 299.9,414.4 302.3,413.1 C304.7,411.7 309.4,410.6 311.6,412.6Z"/><path d="M510.9,351.4 C513.0,352.6 519.9,355.8 522.3,356.4 C524.7,357.0 524.1,356.6 525.6,355.2 C527.0,353.8 531.2,351.8 531.1,348.1 C530.9,344.4 527.7,334.9 524.9,333.1 C522.1,331.4 516.6,334.7 514.1,337.4 C511.7,340.1 510.6,346.9 510.1,349.3 C509.6,351.6 508.9,350.2 510.9,351.4Z"/><path d="M343.0,424.2 C343.2,422.8 341.9,423.4 343.9,422.8 C345.9,422.2 353.2,418.5 355.3,420.6 C357.3,422.6 358.1,433.3 356.1,435.1 C354.1,436.9 345.3,433.2 343.2,431.3 C341.0,429.5 342.9,425.6 343.0,424.2Z"/><path d="M474.3,363.8 C473.0,366.3 468.2,373.1 465.6,375.0 C463.0,376.9 461.1,377.4 458.8,375.3 C456.4,373.1 452.2,365.3 451.3,362.1 C450.4,358.9 449.8,356.3 453.5,355.9 C457.3,355.6 470.1,358.8 473.6,360.1 C477.0,361.4 475.6,361.3 474.3,363.8Z"/><path d="M460.3,403.1 C458.4,400.5 447.0,398.1 443.1,398.1 C439.3,398.0 435.3,400.3 437.2,402.8 C439.0,405.4 450.6,413.3 454.4,413.4 C458.3,413.4 462.2,405.6 460.3,403.1Z"/><path d="M374.0,398.4 C377.0,398.9 384.1,390.2 386.1,388.3 C388.1,386.3 387.3,388.4 386.0,386.8 C384.8,385.2 380.8,380.1 378.8,378.6 C376.8,377.1 375.4,377.1 373.8,377.7 C372.1,378.2 369.8,380.5 368.8,381.8 C367.8,383.1 366.9,382.6 367.8,385.4 C368.6,388.2 370.9,397.9 374.0,398.4Z"/><path d="M418.3,498.1 C419.2,495.4 420.4,486.0 418.1,483.6 C415.9,481.1 407.2,483.2 404.7,483.5 C402.1,483.8 403.7,483.6 402.9,485.3 C402.2,487.0 398.7,491.2 400.3,493.6 C401.9,496.1 409.7,499.2 412.7,499.9 C415.7,500.7 417.4,500.8 418.3,498.1Z"/><path d="M466.3,512.0 C463.1,511.5 455.1,508.4 451.8,506.3 C448.5,504.2 447.0,501.0 446.3,499.1 C445.6,497.3 444.6,497.2 447.5,495.1 C450.4,493.1 459.7,486.7 463.8,486.8 C468.0,487.0 471.1,492.5 472.3,496.2 C473.5,499.8 472.0,506.2 471.0,508.8 C470.0,511.5 469.5,512.4 466.3,512.0Z"/><path d="M421.8,339.0 C421.9,335.7 417.5,327.5 416.0,324.8 C414.4,322.1 416.3,321.6 412.6,322.9 C409.0,324.2 397.3,330.8 394.1,332.7 C391.0,334.6 393.3,332.8 393.7,334.4 C394.1,336.0 392.8,340.4 396.4,342.2 C400.0,343.9 411.3,345.4 415.5,344.9 C419.8,344.4 421.7,342.4 421.8,339.0Z"/><path d="M472.2,509.0 C470.3,505.9 470.7,498.3 473.5,496.3 C476.4,494.2 487.3,493.5 489.3,496.6 C491.3,499.6 486.2,511.4 485.5,514.4 C484.7,517.4 487.1,515.7 484.8,514.8 C482.6,513.9 474.1,512.0 472.2,509.0Z"/><path d="M462.9,484.9 C459.3,488.9 450.0,492.9 446.6,493.2 C443.1,493.6 442.2,491.6 442.0,487.0 C441.8,482.4 444.4,469.3 445.1,465.6 C445.9,461.9 443.3,464.3 446.5,464.6 C449.8,464.9 460.8,466.5 464.4,467.3 C468.0,468.1 468.5,466.7 468.2,469.6 C468.0,472.6 466.5,481.0 462.9,484.9Z"/><path d="M330.7,512.1 C332.7,510.7 337.7,507.3 337.6,504.7 C337.4,502.1 332.8,496.3 330.0,496.4 C327.1,496.4 321.5,502.5 320.5,505.3 C319.5,508.0 323.2,511.5 324.0,512.8 C324.9,514.1 324.8,513.5 325.9,513.3 C327.0,513.2 328.8,513.5 330.7,512.1Z"/><path d="M511.4,411.2 C512.2,407.9 511.7,409.9 510.8,409.2 C509.8,408.6 508.7,407.1 505.9,407.1 C503.1,407.0 496.4,408.0 494.2,408.8 C492.0,409.6 491.5,408.6 492.7,411.9 C493.9,415.2 499.4,425.6 501.3,428.5 C503.3,431.4 503.5,429.4 504.2,429.4 C505.0,429.4 504.6,431.6 505.8,428.5 C507.0,425.5 510.5,414.4 511.4,411.2Z"/><path d="M423.2,340.6 C421.7,341.5 418.4,343.3 417.0,346.4 C415.6,349.6 412.3,355.7 414.9,359.4 C417.4,363.1 429.4,367.3 432.4,368.8 C435.4,370.2 433.3,371.9 433.0,368.1 C432.7,364.3 431.8,350.5 430.6,346.0 C429.5,341.5 427.3,342.0 426.1,341.1 C424.9,340.2 424.8,339.7 423.2,340.6Z"/><path d="M492.9,408.2 C493.0,405.9 493.5,399.2 491.7,397.4 C489.9,395.5 484.2,394.4 482.4,396.9 C480.5,399.4 479.1,410.0 480.6,412.4 C482.1,414.8 489.4,412.0 491.4,411.3 C493.5,410.6 492.9,410.5 492.9,408.2Z"/><path d="M506.7,387.0 C505.0,385.0 499.1,378.1 497.7,374.7 C496.2,371.4 495.1,367.4 498.1,367.0 C501.0,366.5 512.3,370.6 515.3,372.0 C518.2,373.4 517.1,373.0 515.9,375.5 C514.7,377.9 509.5,384.9 507.9,386.8 C506.4,388.8 508.4,389.0 506.7,387.0Z"/><path d="M415.3,391.8 C416.6,391.0 415.8,389.9 418.6,391.9 C421.3,393.9 429.9,400.6 431.8,404.0 C433.7,407.3 432.1,409.9 430.2,412.0 C428.3,414.1 423.7,416.1 420.4,416.5 C417.0,416.9 412.0,417.5 410.4,414.3 C408.7,411.0 409.6,400.7 410.4,397.0 C411.2,393.3 413.9,392.7 415.3,391.8Z"/><path d="M397.0,496.6 C398.1,494.4 397.4,493.7 399.9,494.4 C402.4,495.1 411.0,498.1 412.3,500.7 C413.5,503.4 410.0,508.1 407.5,510.4 C404.9,512.6 399.3,514.7 397.0,514.2 C394.7,513.7 393.6,510.3 393.6,507.4 C393.6,504.4 396.0,498.7 397.0,496.6Z"/><path d="M358.1,566.2 C360.8,566.2 365.3,535.7 364.8,528.2 C364.2,520.7 357.3,521.4 354.6,521.3 C351.9,521.3 348.0,520.4 348.6,527.9 C349.2,535.4 355.4,566.1 358.1,566.2Z"/><path d="M316.7,471.8 C315.6,470.1 317.6,471.5 316.6,471.7 C315.5,472.0 312.6,471.1 310.3,473.4 C308.1,475.6 303.2,481.8 302.9,485.3 C302.6,488.9 305.1,494.7 308.5,494.9 C311.9,495.0 320.9,488.5 323.3,486.3 C325.8,484.2 324.4,484.4 323.3,482.0 C322.2,479.6 317.8,473.5 316.7,471.8Z"/><path d="M529.2,416.3 C527.8,418.6 524.1,426.4 520.3,428.5 C516.6,430.6 508.2,431.7 506.8,428.9 C505.5,426.0 508.8,413.9 512.4,411.5 C516.1,409.1 525.9,413.9 528.7,414.7 C531.5,415.5 530.6,414.0 529.2,416.3Z"/><path d="M380.8,447.9 C379.4,450.6 369.4,453.6 366.2,452.1 C363.1,450.7 361.4,442.1 362.0,439.2 C362.6,436.2 368.0,434.8 370.0,434.3 C372.1,433.8 372.8,434.0 374.5,436.3 C376.3,438.5 382.2,445.3 380.8,447.9Z"/><path d="M506.4,463.9 C508.0,464.5 511.6,466.1 513.8,463.7 C516.0,461.4 520.0,452.9 519.7,449.8 C519.3,446.7 514.4,443.5 511.9,445.2 C509.3,446.9 505.1,456.7 504.2,459.8 C503.3,462.9 504.9,463.2 506.4,463.9Z"/><path d="M513.0,322.1 C513.7,319.3 510.0,310.7 508.8,307.9 C507.6,305.0 507.6,302.9 506.0,305.0 C504.4,307.1 499.4,317.4 499.2,320.6 C499.0,323.9 502.3,324.4 504.6,324.6 C506.9,324.9 512.3,324.9 513.0,322.1Z"/><path d="M353.3,491.5 C353.7,494.8 352.4,502.7 349.9,504.7 C347.4,506.8 341.5,505.6 338.2,504.1 C335.0,502.6 331.9,497.5 330.7,495.7 C329.4,494.0 327.9,495.5 330.7,493.7 C333.6,492.0 343.9,485.7 347.7,485.3 C351.4,484.9 353.0,488.3 353.3,491.5Z"/><path d="M378.9,358.1 C381.7,359.8 390.3,362.1 392.7,360.1 C395.1,358.2 395.9,348.4 393.3,346.5 C390.8,344.6 380.1,348.1 377.2,348.7 C374.3,349.3 375.7,348.6 376.0,350.1 C376.3,351.7 376.1,356.4 378.9,358.1Z"/><path d="M349.1,407.4 C351.4,407.2 355.7,415.6 356.7,417.7 C357.7,419.7 357.3,419.0 355.1,419.7 C352.9,420.4 345.8,422.1 343.7,421.9 C341.7,421.8 342.0,421.3 342.9,418.9 C343.8,416.5 346.8,407.6 349.1,407.4Z"/><path d="M450.5,507.3 C451.4,511.3 451.4,521.2 450.5,524.3 C449.6,527.4 447.5,526.2 445.1,525.9 C442.8,525.6 438.6,525.3 436.4,522.6 C434.3,519.8 432.9,511.7 432.3,509.3 C431.7,506.9 430.5,509.7 432.6,508.2 C434.7,506.7 442.0,500.3 445.0,500.2 C447.9,500.0 449.6,503.3 450.5,507.3Z"/><path d="M318.2,440.3 C315.1,440.3 308.3,443.0 308.5,445.9 C308.7,448.8 316.0,456.5 319.4,457.7 C322.8,459.0 327.5,455.3 328.8,453.3 C330.1,451.3 329.0,448.0 327.2,445.9 C325.4,443.7 321.3,440.3 318.2,440.3Z"/><path d="M327.5,418.9 C329.0,421.3 327.9,420.4 327.2,421.8 C326.5,423.2 325.1,426.9 323.3,427.4 C321.6,427.8 318.6,427.0 316.7,424.5 C314.9,422.0 312.2,415.1 312.4,412.3 C312.6,409.5 315.3,406.5 317.8,407.6 C320.3,408.7 325.9,416.6 327.5,418.9Z"/><path d="M506.1,387.5 C506.9,390.0 504.1,389.5 502.3,390.3 C500.4,391.1 497.4,393.8 495.1,392.4 C492.8,391.1 488.1,385.1 488.4,382.2 C488.7,379.4 494.1,374.3 497.0,375.2 C499.9,376.1 505.2,385.0 506.1,387.5Z"/><path d="M516.4,504.6 C515.8,502.1 514.8,502.4 517.4,503.2 C519.9,504.0 530.2,506.6 531.6,509.4 C532.9,512.1 527.4,518.1 525.6,519.6 C523.8,521.0 522.4,520.6 520.8,518.2 C519.3,515.7 516.9,507.1 516.4,504.6Z"/><path d="M374.0,401.8 C375.9,401.5 378.5,402.6 380.9,404.6 C383.2,406.6 387.3,411.3 388.0,413.7 C388.7,416.1 388.0,417.7 385.3,418.7 C382.6,419.8 374.7,420.3 371.8,419.8 C368.8,419.2 368.0,417.7 367.5,415.4 C367.1,413.2 367.9,408.7 369.0,406.4 C370.1,404.2 372.0,402.1 374.0,401.8Z"/><path d="M366.5,348.4 C364.7,347.5 364.3,346.2 364.5,344.3 C364.6,342.4 365.7,338.6 367.2,336.8 C368.8,335.1 371.9,333.7 373.7,333.6 C375.4,333.5 377.2,334.0 377.7,336.4 C378.1,338.8 376.7,345.8 376.3,348.0 C375.9,350.2 376.8,349.3 375.1,349.4 C373.5,349.4 368.3,349.2 366.5,348.4Z"/><path d="M469.5,336.4 C465.7,338.5 462.1,336.8 459.5,335.2 C456.9,333.7 454.6,329.4 454.1,327.0 C453.5,324.6 453.9,323.0 456.3,320.8 C458.6,318.5 463.9,313.0 468.3,313.2 C472.6,313.5 482.3,318.6 482.5,322.4 C482.7,326.3 473.3,334.2 469.5,336.4Z"/><path d="M344.5,388.5 C342.6,390.8 341.8,389.2 340.6,388.1 C339.5,386.9 337.2,384.6 337.4,381.6 C337.6,378.6 339.5,371.8 341.9,370.3 C344.2,368.8 349.7,371.8 351.4,372.5 C353.1,373.2 353.2,371.6 352.0,374.3 C350.9,376.9 346.4,386.2 344.5,388.5Z"/><path d="M448.0,386.2 C446.4,382.7 437.2,375.1 432.5,375.8 C427.8,376.5 419.8,385.9 420.0,390.4 C420.1,394.8 430.5,400.5 433.2,402.4 C435.9,404.3 434.7,402.6 436.2,401.7 C437.7,400.7 440.2,399.5 442.2,396.9 C444.2,394.3 449.6,389.7 448.0,386.2Z"/><path d="M373.0,398.9 C372.0,396.4 370.3,386.4 366.8,385.9 C363.3,385.3 354.6,393.4 352.3,395.3 C349.9,397.2 350.1,395.8 352.7,397.4 C355.3,399.1 364.7,404.8 368.0,405.4 C371.4,405.9 372.1,401.9 373.0,400.8 C373.8,399.7 374.0,401.3 373.0,398.9Z"/><path d="M423.7,338.3 C422.2,335.8 416.6,328.1 417.8,324.1 C419.0,320.0 426.3,313.5 430.9,314.1 C435.4,314.6 446.0,323.2 445.2,327.3 C444.5,331.5 430.1,337.0 426.5,338.8 C422.9,340.6 425.1,340.7 423.7,338.3Z"/><path d="M453.9,384.7 C452.8,381.1 456.9,378.1 458.8,376.8 C460.8,375.4 463.0,375.1 465.6,376.5 C468.2,378.0 473.2,382.9 474.5,385.5 C475.9,388.1 475.1,389.8 473.7,392.0 C472.2,394.2 469.2,399.8 465.9,398.5 C462.6,397.3 455.1,388.3 453.9,384.7Z"/><path d="M351.6,371.6 C349.2,373.1 344.3,370.5 342.1,369.3 C339.8,368.2 336.3,366.9 338.0,364.9 C339.7,363.0 349.1,358.4 352.1,357.7 C355.2,356.9 356.2,358.1 356.1,360.4 C356.0,362.8 353.9,370.1 351.6,371.6Z"/><path d="M491.5,412.5 C494.8,415.1 501.9,425.4 500.2,429.1 C498.5,432.8 484.6,433.8 481.3,434.7 C477.9,435.6 480.6,438.0 480.3,434.5 C480.0,431.1 479.5,417.6 479.5,414.1 C479.6,410.6 478.7,413.9 480.7,413.6 C482.7,413.4 488.3,409.9 491.5,412.5Z"/><path d="M319.2,401.2 C316.3,398.7 303.7,392.1 299.9,391.4 C296.1,390.7 295.9,393.5 296.3,396.9 C296.7,400.3 299.7,409.4 302.3,411.8 C304.8,414.2 309.1,412.1 311.6,411.3 C314.0,410.4 315.7,408.3 316.9,406.6 C318.2,404.9 322.0,403.7 319.2,401.2Z"/><path d="M388.8,413.1 C387.1,411.8 381.2,406.9 381.6,404.0 C382.0,401.1 388.3,396.6 391.1,395.8 C393.9,395.1 398.3,396.9 398.4,399.6 C398.5,402.2 393.4,409.5 391.8,411.8 C390.2,414.0 390.5,414.4 388.8,413.1Z"/><path d="M385.0,476.6 C386.6,474.4 394.8,468.3 397.3,466.7 C399.8,465.1 398.8,464.5 399.9,467.1 C400.9,469.7 403.3,479.6 403.6,482.5 C403.9,485.3 404.5,484.8 401.8,484.3 C399.2,483.8 390.3,480.9 387.5,479.6 C384.7,478.4 383.3,478.7 385.0,476.6Z"/><path d="M460.5,402.5 C456.9,402.2 445.2,400.1 443.3,397.5 C441.4,394.9 447.5,388.8 449.1,386.8 C450.7,384.8 450.5,383.3 453.2,385.4 C455.8,387.4 463.1,396.9 465.1,399.2 C467.1,401.5 465.8,398.7 465.1,399.3 C464.3,399.8 464.1,402.8 460.5,402.5Z"/><path d="M444.2,464.2 C445.9,464.0 445.7,465.5 445.6,463.3 C445.5,461.0 445.6,454.0 443.5,451.0 C441.4,447.9 435.5,444.9 433.1,445.1 C430.6,445.4 428.4,449.4 428.7,452.6 C429.1,455.8 432.6,462.6 435.2,464.5 C437.8,466.4 442.5,464.4 444.2,464.2Z"/><path d="M427.3,340.0 C429.6,337.3 441.8,330.5 446.0,328.6 C450.1,326.6 450.2,326.9 452.2,328.3 C454.1,329.6 457.7,332.5 457.6,336.5 C457.5,340.5 456.0,350.8 451.7,352.2 C447.4,353.6 435.9,347.0 431.8,345.0 C427.7,342.9 424.9,342.8 427.3,340.0Z"/><path d="M462.1,421.7 C465.1,420.5 473.3,415.8 474.0,412.2 C474.6,408.7 468.0,401.8 465.9,400.4 C463.7,399.0 463.0,401.4 461.3,403.6 C459.5,405.9 456.2,411.3 455.4,413.9 C454.5,416.5 455.0,418.0 456.1,419.3 C457.3,420.6 459.1,422.9 462.1,421.7Z"/><path d="M423.9,473.5 C421.2,473.7 418.8,468.8 418.3,465.9 C417.7,463.1 418.9,458.4 420.5,456.2 C422.2,454.0 425.7,451.5 428.1,453.0 C430.4,454.4 435.2,461.4 434.5,464.9 C433.8,468.3 426.6,473.3 423.9,473.5Z"/><path d="M415.4,389.1 C417.4,391.1 416.0,391.7 418.6,389.2 C421.3,386.8 429.0,377.9 431.2,374.6 C433.4,371.4 434.6,372.1 431.8,369.8 C429.0,367.4 418.9,360.5 414.3,360.4 C409.7,360.2 405.6,366.0 404.3,368.9 C403.0,371.7 404.6,374.2 406.4,377.6 C408.3,381.0 413.3,387.2 415.4,389.1Z"/><path d="M519.8,323.4 C520.7,321.7 520.5,314.4 518.8,311.8 C517.0,309.2 510.2,306.0 509.3,307.7 C508.4,309.4 511.7,319.3 513.5,322.0 C515.2,324.6 518.9,325.1 519.8,323.4Z"/><path d="M430.3,424.7 C432.6,423.0 432.8,420.1 432.9,418.2 C433.0,416.2 432.7,413.1 430.7,413.0 C428.6,412.8 422.8,414.9 420.8,417.5 C418.9,420.0 417.3,427.0 418.9,428.2 C420.5,429.4 427.9,426.4 430.3,424.7Z"/><path d="M424.6,474.4 C426.4,472.3 432.0,467.2 435.2,465.7 C438.5,464.2 443.2,461.9 444.2,465.5 C445.2,469.0 444.4,484.8 441.1,486.8 C437.8,488.9 427.3,480.1 424.6,478.0 C421.8,476.0 422.8,476.5 424.6,474.4Z"/><path d="M475.2,364.5 C472.5,365.6 466.4,372.3 466.5,375.7 C466.5,379.1 472.7,383.9 475.4,384.7 C478.0,385.5 481.3,383.1 482.4,380.5 C483.6,377.9 483.5,371.8 482.3,369.2 C481.1,366.5 477.8,363.4 475.2,364.5Z"/><path d="M372.5,367.5 C371.7,370.3 373.0,374.4 374.1,376.0 C375.2,377.6 375.6,378.8 379.1,377.0 C382.6,375.2 392.9,367.9 395.1,365.3 C397.4,362.6 395.3,362.1 392.5,361.1 C389.8,360.1 382.1,358.0 378.7,359.1 C375.4,360.2 373.3,364.7 372.5,367.5Z"/><path d="M447.8,426.5 C449.2,424.8 453.3,421.2 455.6,420.6 C457.9,420.1 459.3,420.7 461.6,423.1 C463.8,425.5 469.9,431.9 469.1,435.0 C468.3,438.2 458.8,440.8 456.6,442.0 C454.4,443.1 457.5,443.7 455.9,441.8 C454.4,440.0 448.5,433.5 447.2,430.9 C445.8,428.3 446.4,428.2 447.8,426.5Z"/><path d="M397.5,465.1 C399.6,466.8 399.4,465.6 400.1,465.4 C400.8,465.3 400.8,467.3 401.8,464.3 C402.9,461.4 407.3,451.6 406.4,447.8 C405.4,444.1 399.4,441.2 396.2,441.7 C392.9,442.1 388.5,448.0 387.1,450.3 C385.7,452.5 386.0,452.7 387.7,455.2 C389.4,457.7 395.4,463.4 397.5,465.1Z"/><path d="M358.2,438.8 C355.5,440.6 347.0,447.8 344.5,450.3 C342.1,452.9 341.6,452.6 343.7,454.1 C345.8,455.7 353.7,459.7 357.2,459.7 C360.6,459.8 363.0,455.8 364.3,454.6 C365.6,453.4 365.6,455.0 365.0,452.5 C364.4,450.0 361.9,441.8 360.8,439.6 C359.7,437.3 360.9,437.0 358.2,438.8Z"/><path d="M479.3,434.6 C478.9,438.2 477.4,435.7 475.9,435.7 C474.3,435.6 472.4,436.6 470.2,434.3 C468.0,432.1 461.9,426.0 462.6,422.4 C463.4,418.8 471.8,414.3 474.5,412.9 C477.2,411.5 477.8,410.6 478.6,414.2 C479.4,417.8 479.8,431.0 479.3,434.6Z"/><path d="M287.6,438.8 C290.5,439.6 299.9,440.6 302.5,439.2 C305.0,437.8 303.8,433.2 302.8,430.3 C301.8,427.3 298.7,422.7 296.3,421.3 C294.0,420.0 290.6,420.0 288.7,422.2 C286.8,424.3 285.3,431.7 285.1,434.4 C285.0,437.2 284.7,438.0 287.6,438.8Z"/><path d="M325.1,339.0 C323.2,340.4 315.5,346.1 313.6,347.6 C311.7,349.1 312.0,346.4 313.6,347.9 C315.1,349.5 321.0,358.1 323.0,356.7 C325.0,355.2 325.0,342.0 325.4,339.1 C325.7,336.1 327.1,337.5 325.1,339.0Z"/><path d="M375.7,504.2 C375.2,506.6 374.3,511.0 370.7,511.7 C367.1,512.4 356.9,509.1 353.8,508.3 C350.8,507.4 352.6,507.2 352.3,506.7 C351.9,506.2 351.2,507.7 351.7,505.2 C352.2,502.8 353.8,494.3 355.1,492.0 C356.5,489.7 356.8,490.4 359.9,491.2 C363.1,492.1 371.2,495.0 373.9,497.2 C376.5,499.4 376.2,501.7 375.7,504.2Z"/><path d="M396.6,364.3 C398.1,365.6 400.4,368.5 403.2,367.6 C406.0,366.7 411.2,362.7 413.2,359.1 C415.3,355.5 418.2,348.8 415.3,346.2 C412.5,343.6 399.7,343.4 396.2,343.4 C392.8,343.5 395.0,343.7 394.7,346.5 C394.3,349.3 393.7,357.2 394.0,360.2 C394.3,363.2 395.1,363.1 396.6,364.3Z"/><path d="M395.7,496.1 C394.9,493.6 390.6,492.0 387.6,491.7 C384.5,491.4 379.5,493.6 377.4,494.4 C375.4,495.3 375.4,495.3 375.3,496.8 C375.3,498.4 374.3,502.1 377.1,503.8 C380.0,505.5 389.2,508.2 392.3,507.0 C395.4,505.7 396.5,498.7 395.7,496.1Z"/><path d="M312.5,347.5 C313.2,349.8 315.2,346.5 312.5,347.8 C309.8,349.1 300.1,355.5 296.3,355.4 C292.5,355.3 289.8,350.7 289.9,347.1 C289.9,343.6 293.6,336.3 296.6,334.1 C299.7,331.9 305.7,331.8 308.4,334.0 C311.0,336.3 311.9,345.2 312.5,347.5Z"/><path d="M324.4,428.1 C325.0,427.1 325.3,423.2 328.2,422.6 C331.2,421.9 339.7,422.7 342.0,424.2 C344.3,425.7 342.8,429.4 342.1,431.4 C341.4,433.3 339.1,435.0 337.7,435.7 C336.4,436.3 336.2,436.6 334.0,435.4 C331.8,434.2 326.0,429.6 324.4,428.4 C322.8,427.1 323.7,429.1 324.4,428.1Z"/><path d="M396.2,495.4 C398.0,495.7 398.1,495.0 399.0,493.2 C399.9,491.5 403.6,487.1 401.6,484.9 C399.7,482.7 389.5,479.3 387.3,480.3 C385.0,481.3 386.5,488.4 388.0,490.9 C389.5,493.5 394.3,495.0 396.2,495.4Z"/><path d="M337.8,364.5 C340.5,363.5 350.5,359.9 351.9,357.2 C353.3,354.6 348.2,350.4 346.2,348.9 C344.2,347.3 342.3,346.6 339.9,348.2 C337.6,349.8 333.0,355.9 332.3,358.5 C331.5,361.0 334.7,362.4 335.6,363.4 C336.5,364.4 335.0,365.5 337.8,364.5Z"/><path d="M352.3,398.3 C349.2,398.2 349.8,404.2 349.4,405.6 C348.9,407.1 348.4,405.0 349.8,406.9 C351.1,408.8 354.7,415.8 357.4,417.2 C360.1,418.5 364.4,417.0 366.1,415.2 C367.8,413.4 369.9,409.0 367.6,406.2 C365.3,403.4 355.3,398.4 352.3,398.3Z"/><path d="M423.9,479.3 C420.4,478.5 420.1,480.4 419.3,483.6 C418.6,486.7 417.5,494.3 419.5,498.1 C421.5,501.9 427.4,506.4 431.5,506.4 C435.5,506.5 441.5,500.4 443.8,498.4 C446.0,496.3 445.6,496.1 445.0,494.3 C444.5,492.6 444.0,490.6 440.5,488.1 C436.9,485.6 427.4,480.1 423.9,479.3Z"/><path d="M389.4,414.4 C388.4,415.5 386.5,417.0 386.7,419.5 C386.9,422.0 389.0,427.0 390.5,429.4 C392.0,431.8 393.2,434.3 395.6,433.8 C398.1,433.2 403.5,428.7 405.2,426.2 C406.8,423.6 407.6,420.8 405.5,418.6 C403.4,416.4 395.1,413.8 392.4,413.1 C389.7,412.4 390.3,413.4 389.4,414.4Z"/><path d="M525.9,327.5 C528.0,327.3 531.7,326.1 532.9,322.1 C534.2,318.1 535.9,305.4 533.6,303.7 C531.4,302.0 521.6,308.4 519.4,311.7 C517.1,315.0 519.3,320.7 520.4,323.3 C521.5,326.0 523.8,327.7 525.9,327.5Z"/><path d="M503.8,459.5 C506.1,458.0 511.2,449.4 511.4,444.9 C511.5,440.5 506.8,431.2 504.5,432.7 C502.1,434.2 497.4,449.3 497.3,453.7 C497.1,458.2 501.4,461.0 503.8,459.5Z"/><path d="M386.0,449.2 C388.3,448.0 393.7,442.9 395.1,440.5 C396.5,438.2 395.6,436.6 394.6,435.0 C393.7,433.3 392.7,430.4 389.5,430.6 C386.3,430.7 376.6,433.0 375.3,435.9 C373.9,438.7 379.7,445.3 381.5,447.5 C383.3,449.8 383.8,450.3 386.0,449.2Z"/><path d="M366.8,336.0 C369.5,336.7 372.3,335.5 373.3,332.7 C374.2,330.0 373.6,322.1 372.2,319.4 C370.8,316.6 366.7,316.4 364.9,316.2 C363.1,316.1 362.7,316.6 361.3,318.6 C360.0,320.6 355.9,325.4 356.8,328.3 C357.8,331.2 364.1,335.3 366.8,336.0Z"/><path d="M466.0,523.2 C466.1,521.3 466.1,515.3 467.0,513.1 C468.0,510.9 468.9,509.5 471.7,510.0 C474.6,510.4 482.9,512.7 484.4,515.8 C485.8,518.9 483.3,527.1 480.4,528.5 C477.4,529.9 469.3,525.2 466.9,524.3 C464.5,523.4 466.0,525.0 466.0,523.2Z"/><path d="M481.7,471.5 C486.5,471.0 500.6,466.6 504.5,465.5 C508.4,464.3 505.3,465.4 505.1,464.6 C504.8,463.8 504.3,462.2 502.9,460.5 C501.4,458.9 498.4,455.7 496.4,454.7 C494.3,453.7 494.1,452.2 490.6,454.5 C487.1,456.8 476.8,465.6 475.3,468.5 C473.8,471.3 476.8,472.0 481.7,471.5Z"/><path d="M366.4,416.5 C368.6,416.9 370.2,418.1 370.7,420.9 C371.1,423.6 370.9,430.2 369.3,433.1 C367.7,435.9 363.1,437.3 361.3,438.0 C359.5,438.6 359.4,437.7 358.7,437.2 C358.0,436.7 357.4,437.9 356.9,435.1 C356.5,432.3 356.0,423.3 356.1,420.5 C356.2,417.7 356.0,419.1 357.7,418.5 C359.4,417.8 364.3,416.1 366.4,416.5Z"/><path d="M323.8,429.2 C321.4,429.8 317.9,437.1 318.5,439.8 C319.1,442.5 325.1,445.9 327.5,445.3 C330.0,444.7 334.0,438.9 333.3,436.3 C332.7,433.6 326.3,428.6 323.8,429.2Z"/><path d="M287.6,439.8 C290.5,438.6 299.3,439.2 302.4,440.2 C305.5,441.2 307.4,442.7 306.1,445.7 C304.9,448.8 298.4,458.2 294.8,458.4 C291.3,458.7 286.1,450.2 284.9,447.1 C283.7,444.0 284.7,440.9 287.6,439.8Z"/><path d="M528.8,414.0 C531.6,413.4 531.1,410.0 529.7,407.3 C528.2,404.6 521.7,399.2 519.9,397.6 C518.1,395.9 520.1,395.7 518.7,397.5 C517.4,399.4 513.0,406.7 512.0,408.9 C510.9,411.1 509.8,409.9 512.6,410.8 C515.4,411.6 525.9,414.6 528.8,414.0Z"/><path d="M352.8,331.4 C353.9,333.3 360.2,340.8 359.5,343.3 C358.8,345.8 349.5,348.2 348.3,346.3 C347.2,344.3 351.7,333.9 352.4,331.5 C353.2,329.0 351.6,329.4 352.8,331.4Z"/><path d="M376.5,493.6 C377.2,490.4 378.5,479.6 378.4,476.5 C378.4,473.4 377.4,475.0 376.1,475.0 C374.9,474.9 373.7,473.8 371.1,476.3 C368.5,478.8 359.9,486.7 360.4,490.0 C361.0,493.3 371.7,495.4 374.4,496.0 C377.1,496.6 375.8,496.8 376.5,493.6Z"/><path d="M370.7,475.0 C373.6,476.0 374.9,475.1 375.8,473.6 C376.6,472.1 377.5,469.0 375.8,466.1 C374.0,463.1 368.1,456.7 365.1,455.8 C362.1,455.0 359.2,459.0 358.0,460.9 C356.9,462.9 356.1,465.2 358.2,467.5 C360.3,469.9 367.8,473.9 370.7,475.0Z"/><path d="M392.7,412.3 C393.8,415.2 403.1,417.4 405.8,417.8 C408.6,418.1 408.7,417.8 409.3,414.3 C409.8,410.8 411.0,399.4 409.3,397.0 C407.7,394.6 402.1,397.5 399.3,400.1 C396.6,402.6 391.6,409.3 392.7,412.3Z"/><path d="M340.1,328.8 C342.8,327.6 350.6,328.4 351.8,331.3 C353.1,334.2 348.6,343.4 347.7,346.1 C346.8,348.8 347.7,347.3 346.4,347.4 C345.1,347.5 341.8,348.2 340.1,346.8 C338.3,345.3 335.9,341.7 335.9,338.7 C335.9,335.7 337.5,330.1 340.1,328.8Z"/><path d="M334.9,408.3 C336.1,410.4 335.8,409.3 334.6,411.0 C333.5,412.7 330.7,419.1 328.0,418.5 C325.3,417.9 319.5,410.0 318.3,407.2 C317.1,404.4 319.3,403.2 320.5,401.8 C321.8,400.3 324.7,398.9 325.9,398.4 C327.0,397.8 325.9,396.8 327.4,398.5 C328.9,400.1 333.7,406.2 334.9,408.3Z"/><path d="M326.6,320.0 C327.7,317.6 326.7,316.7 324.7,314.9 C322.8,313.2 317.3,309.3 314.9,309.5 C312.5,309.7 310.4,312.8 310.3,316.1 C310.1,319.3 312.9,327.0 314.1,329.1 C315.4,331.3 315.8,330.6 317.8,329.1 C319.9,327.6 325.4,322.4 326.6,320.0Z"/><path d="M336.0,408.4 C333.9,409.3 334.6,409.4 335.7,411.1 C336.8,412.8 340.4,419.3 342.5,418.7 C344.7,418.0 347.7,409.3 348.7,407.2 C349.7,405.1 350.4,405.8 348.3,406.0 C346.2,406.2 338.1,407.6 336.0,408.4Z"/><path d="M325.9,339.1 C324.0,342.0 323.9,353.7 323.5,356.7 C323.2,359.7 322.4,356.9 323.7,357.1 C325.0,357.2 328.7,359.3 331.2,357.7 C333.7,356.1 338.3,350.5 338.9,347.4 C339.5,344.4 336.8,340.7 334.7,339.4 C332.5,338.0 327.7,336.2 325.9,339.1Z"/><path d="M496.6,374.7 C495.1,377.1 490.2,380.7 488.0,381.7 C485.8,382.7 484.1,382.6 483.3,380.5 C482.5,378.4 481.0,371.5 483.2,369.1 C485.4,366.8 494.2,366.5 496.5,366.2 C498.8,365.8 496.9,365.5 496.9,366.9 C497.0,368.3 498.0,372.2 496.6,374.7Z"/><path d="M509.0,387.6 C509.3,390.9 517.0,394.7 518.8,396.1 C520.6,397.5 518.1,397.5 519.9,396.1 C521.7,394.6 528.0,389.6 529.8,387.3 C531.6,385.1 532.8,384.4 530.7,382.5 C528.5,380.7 520.6,375.4 517.0,376.2 C513.4,377.1 508.7,384.3 509.0,387.6Z"/><path d="M324.9,338.6 C324.1,341.4 316.0,348.0 313.3,347.2 C310.7,346.4 309.1,336.6 309.2,333.8 C309.3,331.0 312.7,331.2 314.2,330.6 C315.6,330.1 316.1,329.3 317.8,330.6 C319.6,331.9 325.6,335.8 324.9,338.6Z"/><path d="M337.2,365.6 C338.3,366.5 341.4,367.4 341.3,370.1 C341.2,372.7 338.9,380.3 336.8,381.4 C334.8,382.4 329.4,379.3 329.1,376.5 C328.8,373.7 333.7,366.3 335.0,364.5 C336.4,362.7 336.2,364.7 337.2,365.6Z"/><path d="M517.5,502.9 C519.7,504.7 528.9,508.4 531.7,509.0 C534.6,509.6 534.7,508.7 534.4,506.7 C534.1,504.6 532.3,498.1 529.7,496.7 C527.1,495.3 520.9,497.2 518.9,498.2 C516.8,499.2 515.4,501.1 517.5,502.9Z"/><path d="M464.6,465.7 C466.2,462.4 457.8,447.2 456.3,443.5 C454.8,439.8 457.6,442.2 455.7,443.4 C453.7,444.6 446.1,447.5 444.6,450.8 C443.1,454.0 443.4,460.6 446.8,463.1 C450.1,465.5 463.0,469.0 464.6,465.7Z"/><path d="M290.9,485.3 C293.2,484.9 298.9,484.4 301.6,486.1 C304.3,487.8 306.2,493.3 307.2,495.7 C308.1,498.0 308.1,498.4 307.2,500.1 C306.4,501.7 305.1,505.6 302.0,505.6 C298.9,505.6 290.9,502.9 288.5,500.1 C286.2,497.3 287.5,491.2 287.9,488.7 C288.3,486.3 288.6,485.8 290.9,485.3Z"/><path d="M465.0,524.0 C462.7,524.0 452.9,521.5 452.1,525.5 C451.3,529.5 457.8,548.1 460.1,548.0 C462.4,547.9 465.1,529.1 465.9,525.1 C466.7,521.1 467.3,523.9 465.0,524.0Z"/><path d="M507.0,388.7 C506.1,389.2 503.3,388.6 503.2,391.5 C503.1,394.4 505.0,403.4 506.3,406.2 C507.6,409.0 509.2,409.9 511.1,408.4 C513.1,406.8 518.4,400.4 517.9,397.1 C517.4,393.8 510.0,390.0 508.2,388.6 C506.4,387.2 507.8,388.2 507.0,388.7Z"/><path d="M417.2,465.7 C414.4,467.1 404.5,467.5 402.8,464.6 C401.2,461.7 406.2,450.9 407.3,448.1 C408.5,445.3 407.8,446.5 409.8,447.8 C411.8,449.1 418.2,453.0 419.5,456.0 C420.7,458.9 420.0,464.3 417.2,465.7Z"/><path d="M338.6,436.5 C338.7,439.4 340.8,449.4 343.9,449.6 C347.1,449.9 355.6,440.3 357.6,438.1 C359.6,435.8 358.3,436.9 355.9,436.0 C353.4,435.0 345.8,432.1 342.9,432.2 C340.0,432.3 338.4,433.6 338.6,436.5Z"/><path d="M393.6,331.7 C389.4,330.7 386.9,319.7 386.6,315.7 C386.3,311.7 387.7,306.8 391.9,307.8 C396.0,308.7 408.3,318.8 411.7,321.2 C415.1,323.5 415.1,320.1 412.1,321.9 C409.1,323.7 397.9,332.8 393.6,331.7Z"/><path d="M509.7,351.9 C507.8,353.7 501.2,361.2 497.6,360.6 C494.0,359.9 488.7,351.2 488.0,348.0 C487.3,344.9 491.8,342.9 493.4,341.8 C495.0,340.6 495.1,340.0 497.7,341.3 C500.3,342.6 506.9,347.9 508.9,349.7 C510.9,351.5 511.6,350.1 509.7,351.9Z"/><path d="M319.9,504.6 C323.3,503.9 327.8,497.5 329.3,495.7 C330.9,493.9 330.3,495.1 329.4,493.7 C328.5,492.3 327.2,486.8 323.8,487.1 C320.4,487.4 311.4,493.5 308.9,495.6 C306.4,497.8 307.1,498.5 309.0,500.0 C310.8,501.5 316.5,505.3 319.9,504.6Z"/><path d="M337.7,468.6 C333.8,467.7 320.0,469.0 317.8,471.1 C315.6,473.2 320.5,480.4 324.4,481.3 C328.3,482.2 338.9,478.5 341.1,476.4 C343.3,474.3 341.5,469.5 337.7,468.6Z"/><path d="M431.1,425.1 C431.5,421.5 431.2,418.3 433.7,418.5 C436.3,418.7 444.3,424.3 446.3,426.3 C448.3,428.3 448.1,428.4 445.7,430.7 C443.4,433.0 434.6,438.6 432.3,440.1 C430.0,441.6 431.9,442.1 431.7,439.6 C431.5,437.1 430.8,428.6 431.1,425.1Z"/><path d="M371.9,421.0 C369.4,423.2 370.0,430.8 370.5,433.2 C371.0,435.6 371.9,435.7 375.0,435.2 C378.1,434.6 387.5,432.4 389.3,429.9 C391.0,427.3 388.3,421.4 385.4,420.0 C382.5,418.5 374.3,418.8 371.9,421.0Z"/><path d="M378.4,336.5 C380.9,334.3 389.4,333.9 392.1,335.0 C394.8,336.0 394.6,340.9 394.8,342.7 C395.0,344.5 396.2,344.9 393.2,345.8 C390.3,346.7 379.6,349.6 377.1,348.1 C374.6,346.5 375.9,338.7 378.4,336.5Z"/><path d="M431.0,509.7 C433.6,510.6 436.8,517.5 435.1,523.0 C433.4,528.5 424.1,541.8 420.9,542.8 C417.8,543.7 416.6,532.8 416.4,528.7 C416.2,524.5 417.2,520.9 419.6,517.7 C422.1,514.5 428.4,508.8 431.0,509.7Z"/><path d="M376.4,465.4 C373.0,465.4 367.4,457.2 365.7,455.2 C364.1,453.1 363.9,454.1 366.5,453.0 C369.0,452.0 377.9,449.3 381.1,448.8 C384.2,448.4 384.7,449.4 385.6,450.4 C386.4,451.5 387.7,452.9 386.2,455.4 C384.7,457.9 379.8,465.5 376.4,465.4Z"/></g>
<path d="M348.0,325.0 C345.2,327.3 349.0,333.3 349.5,340.0 C350.0,346.7 350.1,355.0 351.0,365.0 C351.9,375.0 352.5,388.3 354.6,400.0 C356.7,411.7 359.8,424.0 363.4,435.0 C367.0,446.0 371.2,458.3 376.0,466.0 C380.8,473.7 385.5,477.0 392.0,481.0 C398.5,485.0 407.0,487.0 415.0,490.0 C423.0,493.0 430.8,496.5 440.0,499.0 C449.2,501.5 457.0,503.5 470.0,505.0 C483.0,506.5 510.0,507.9 518.0,508.0 C526.0,508.1 524.7,506.3 518.0,505.5 C511.3,504.7 488.9,504.6 477.6,503.3 C466.3,502.0 457.9,500.0 450.0,497.8 C442.1,495.6 435.8,492.6 430.0,490.0 C424.2,487.4 419.4,485.3 415.0,482.0 C410.6,478.7 407.0,475.0 403.8,470.0 C400.6,465.0 398.2,457.8 396.0,452.0 C393.8,446.2 392.1,440.7 390.6,435.0 C389.1,429.3 388.2,423.8 387.0,418.0 C385.8,412.2 384.8,406.0 383.6,400.0 C382.4,394.0 381.3,387.8 380.0,382.0 C378.7,376.2 377.3,370.8 375.7,365.0 C374.1,359.2 372.1,353.5 370.5,347.0 C368.9,340.5 369.8,329.7 366.0,326.0 C362.2,322.3 350.8,322.7 348.0,325.0Z" fill="url(#gMuscle)"/>
<path d="M366.0,326.0 C366.8,329.5 368.9,340.5 370.5,347.0 C372.1,353.5 374.1,359.2 375.7,365.0 C377.3,370.8 378.7,376.2 380.0,382.0 C381.3,387.8 382.4,394.0 383.6,400.0 C384.8,406.0 385.8,412.2 387.0,418.0 C388.2,423.8 389.1,429.3 390.6,435.0 C392.1,440.7 393.8,446.2 396.0,452.0 C398.2,457.8 400.6,465.0 403.8,470.0 C407.0,475.0 410.6,478.7 415.0,482.0 C419.4,485.3 424.2,487.4 430.0,490.0 C435.8,492.6 442.1,495.6 450.0,497.8 C457.9,500.0 466.3,502.0 477.6,503.3 C488.9,504.6 511.3,505.1 518.0,505.5" fill="none" stroke="#e88a98" stroke-width="2" opacity="0.7"/>
<path d="M349.8,325.1 C350.2,328.9 351.3,340.1 352.0,347.6 C352.7,355.1 353.3,362.6 354.0,370.1 C354.8,377.6 355.4,385.2 356.6,392.6 C357.8,400.0 359.4,407.4 361.2,414.7 C362.9,422.1 364.6,429.5 366.9,436.6 C369.2,443.8 371.6,451.2 375.2,457.7 C378.8,464.1 383.1,470.6 388.5,475.4 C393.9,480.2 404.5,484.6 407.8,486.4" fill="none" stroke="#dfe6f6" stroke-width="3.2" opacity="0.95"/>
<path d="M352.0,325.2 C352.4,328.9 353.6,340.1 354.5,347.5 C355.3,354.9 356.1,362.3 357.0,369.7 C357.9,377.1 358.6,384.5 359.9,391.9 C361.1,399.2 362.7,406.5 364.3,413.8 C366.0,421.1 367.6,428.4 369.9,435.5 C372.1,442.6 374.4,449.9 377.8,456.4 C381.3,462.9 385.2,469.4 390.4,474.4 C395.6,479.3 405.9,484.0 409.0,485.9" fill="none" stroke="#eef0fa" stroke-width="1.5" opacity="0.7"/>
<path d="M354.3,325.4 C354.8,329.0 356.1,340.0 357.1,347.3 C358.1,354.6 359.1,361.9 360.2,369.2 C361.2,376.5 362.1,383.8 363.4,391.1 C364.7,398.3 366.2,405.6 367.8,412.8 C369.4,420.0 370.9,427.2 373.1,434.3 C375.2,441.3 377.4,448.6 380.7,455.1 C383.9,461.6 387.5,468.2 392.5,473.3 C397.4,478.3 407.3,483.4 410.3,485.5" fill="none" stroke="#f7c4cc" stroke-width="2.5" opacity="0.8"/>
<path d="M357.0,325.5 C357.5,329.1 359.0,339.9 360.2,347.1 C361.3,354.3 362.6,361.4 363.8,368.6 C365.1,375.8 366.1,383.0 367.5,390.2 C368.8,397.3 370.2,404.5 371.8,411.6 C373.3,418.7 374.8,425.9 376.8,432.9 C378.8,439.9 380.9,447.0 383.9,453.6 C387.0,460.1 390.2,466.8 394.9,472.0 C399.5,477.2 409.0,482.7 411.8,484.9" fill="none" stroke="#ee8ea2" stroke-width="2.2" opacity="0.7"/>
<path d="M359.3,325.6 C359.9,329.2 361.6,339.9 362.8,347.0 C364.1,354.0 365.7,361.0 367.0,368.1 C368.4,375.2 369.6,382.3 371.0,389.4 C372.3,396.4 373.7,403.5 375.2,410.6 C376.7,417.6 378.1,424.7 380.0,431.7 C381.9,438.6 384.0,445.7 386.8,452.2 C389.6,458.8 392.5,465.5 396.9,470.9 C401.3,476.3 410.4,482.2 413.1,484.4" fill="none" stroke="#f8c0c8" stroke-width="1.8" opacity="0.8"/>
<path d="M362.0,325.8 C362.7,329.3 364.5,339.8 365.9,346.8 C367.3,353.7 369.2,360.6 370.7,367.5 C372.2,374.5 373.6,381.5 375.1,388.4 C376.5,395.4 377.8,402.4 379.2,409.4 C380.7,416.4 381.9,423.4 383.7,430.3 C385.5,437.2 387.5,444.1 390.1,450.7 C392.7,457.2 395.2,464.1 399.3,469.7 C403.4,475.2 412.1,481.5 414.7,483.8" fill="none" stroke="#ec8498" stroke-width="2.0" opacity="0.6"/>
<path d="M364.2,325.9 C364.9,329.4 366.8,339.8 368.4,346.6 C369.9,353.5 372.0,360.2 373.7,367.1 C375.3,373.9 376.9,380.8 378.3,387.7 C379.8,394.6 381.0,401.6 382.4,408.5 C383.8,415.4 385.0,422.3 386.7,429.2 C388.4,436.0 390.3,442.9 392.7,449.4 C395.1,456.0 397.4,463.0 401.3,468.6 C405.1,474.3 413.5,480.9 415.9,483.4" fill="none" stroke="#f5a8b6" stroke-width="1.5" opacity="0.6"/>
<path d="M366.0,326.0 C372.6,323.8 401.7,329.2 410.0,334.0 C418.3,338.8 413.8,348.0 416.0,355.0 C418.2,362.0 420.5,368.8 423.0,376.0 C425.5,383.2 428.0,391.0 431.0,398.0 C434.0,405.0 436.7,412.2 441.0,418.0 C445.3,423.8 450.5,429.0 457.0,433.0 C463.5,437.0 470.7,439.8 480.0,442.0 C489.3,444.2 502.5,445.2 513.0,446.0 C523.5,446.8 535.8,446.0 543.0,447.0 C550.2,448.0 552.2,449.5 556.0,452.0 C559.8,454.5 562.0,459.0 566.0,462.0 C570.0,465.0 572.3,467.3 580.0,470.0 C587.7,472.7 606.2,471.7 612.0,478.0 C617.8,484.3 618.8,503.5 615.0,508.0 C611.2,512.5 597.2,507.0 589.0,505.0 C580.8,503.0 572.3,500.0 566.0,496.0 C559.7,492.0 554.8,486.0 551.0,481.0 C547.2,476.0 546.8,469.2 543.0,466.0 C539.2,462.8 531.5,461.3 528.0,462.0 C524.5,462.7 523.3,461.8 522.0,470.0 C520.7,478.2 523.7,504.3 520.0,511.0 C516.3,517.7 507.1,511.3 500.0,510.0 C492.9,508.7 485.9,505.3 477.6,503.3 C469.3,501.3 457.9,500.0 450.0,497.8 C442.1,495.6 435.8,492.6 430.0,490.0 C424.2,487.4 419.4,485.3 415.0,482.0 C410.6,478.7 407.0,475.0 403.8,470.0 C400.6,465.0 398.2,457.8 396.0,452.0 C393.8,446.2 392.1,440.7 390.6,435.0 C389.1,429.3 388.2,423.8 387.0,418.0 C385.8,412.2 384.8,406.0 383.6,400.0 C382.4,394.0 381.3,387.8 380.0,382.0 C378.7,376.2 377.3,370.8 375.7,365.0 C374.1,359.2 372.1,353.5 370.5,347.0 C368.9,340.5 359.4,328.2 366.0,326.0Z" fill="#f1efe6" stroke="#b5b3a8" stroke-width="0.8"/>
<path d="M437.0,573.0 C440.0,565.3 445.7,569.9 455.0,569.0 C464.3,568.1 482.5,566.7 493.0,567.5 C503.5,568.3 510.8,571.6 518.0,574.0 C525.2,576.4 530.5,579.2 536.0,581.7 C541.5,584.2 546.3,586.9 551.0,589.0 C555.7,591.1 559.2,591.9 564.0,594.6 C568.8,597.3 574.7,600.8 580.0,605.0 C585.3,609.2 593.3,616.5 596.0,620.0 C598.7,623.5 604.5,625.3 596.0,626.0 C587.5,626.7 562.7,624.9 545.0,624.0 C527.3,623.1 505.0,621.2 490.0,620.4 C475.0,619.6 463.8,619.9 455.0,619.0 C446.2,618.1 440.0,622.7 437.0,615.0 C434.0,607.3 434.0,580.7 437.0,573.0Z" fill="url(#gLBone)" stroke="#c8c6bc" stroke-width="0.8"/>
<ellipse cx="389.5" cy="353" rx="2.5" ry="3.5" fill="#7f7c66" transform="rotate(20 389.5 353)" filter="url(#blurS)"/>
<ellipse cx="402.5" cy="372" rx="2.2" ry="6" fill="#7f7c66" transform="rotate(10 402.5 372)" filter="url(#blurS)"/>
<ellipse cx="394" cy="399" rx="5.5" ry="3.8" fill="#7f7c66" transform="rotate(-60 394 399)" filter="url(#blurS)"/>
<ellipse cx="415.7" cy="399" rx="3.5" ry="3" fill="#7f7c66" transform="rotate(20 415.7 399)" filter="url(#blurS)"/>
<ellipse cx="397.5" cy="427.5" rx="5" ry="3.5" fill="#7f7c66" transform="rotate(-30 397.5 427.5)" filter="url(#blurS)"/>
<ellipse cx="425" cy="417.5" rx="3.5" ry="6" fill="#7f7c66" transform="rotate(30 425 417.5)" filter="url(#blurS)"/>
<ellipse cx="447.5" cy="447.5" rx="3.5" ry="7.5" fill="#7f7c66" transform="rotate(20 447.5 447.5)" filter="url(#blurS)"/>
<ellipse cx="417.5" cy="452.5" rx="4.5" ry="3" fill="#7f7c66" transform="rotate(-20 417.5 452.5)" filter="url(#blurS)"/>
<ellipse cx="405" cy="462" rx="3" ry="2.5" fill="#7f7c66" transform="rotate(0 405 462)" filter="url(#blurS)"/>
<ellipse cx="425" cy="466" rx="5" ry="3" fill="#7f7c66" transform="rotate(-10 425 466)" filter="url(#blurS)"/>
<ellipse cx="478" cy="458.7" rx="6" ry="4" fill="#7f7c66" transform="rotate(-20 478 458.7)" filter="url(#blurS)"/>
<ellipse cx="510" cy="455" rx="2.5" ry="2.5" fill="#7f7c66" transform="rotate(0 510 455)" filter="url(#blurS)"/>
<ellipse cx="447.5" cy="477.5" rx="8.5" ry="3.5" fill="#7f7c66" transform="rotate(-25 447.5 477.5)" filter="url(#blurS)"/>
<ellipse cx="470" cy="490" rx="7.5" ry="3.5" fill="#7f7c66" transform="rotate(-15 470 490)" filter="url(#blurS)"/>
<ellipse cx="495" cy="491.5" rx="7" ry="4.5" fill="#7f7c66" transform="rotate(-10 495 491.5)" filter="url(#blurS)"/>
<ellipse cx="496" cy="471" rx="2" ry="2" fill="#7f7c66" transform="rotate(0 496 471)" filter="url(#blurS)"/>
<ellipse cx="566" cy="483" rx="3" ry="6.5" fill="#7f7c66" transform="rotate(-20 566 483)" filter="url(#blurS)"/>
<ellipse cx="508.8" cy="455" rx="2.5" ry="2" fill="#7f7c66" transform="rotate(0 508.8 455)" filter="url(#blurS)"/>
<ellipse cx="536.4" cy="454" rx="2.5" ry="2" fill="#7f7c66" transform="rotate(0 536.4 454)" filter="url(#blurS)"/>
<ellipse cx="472" cy="492" rx="4" ry="4" fill="#7f7c66" transform="rotate(0 472 492)" filter="url(#blurS)"/>
<ellipse cx="438" cy="437" rx="3" ry="2" fill="#7f7c66" transform="rotate(0 438 437)" filter="url(#blurS)"/>
<ellipse cx="460" cy="500" rx="3" ry="2" fill="#7f7c66" transform="rotate(0 460 500)" filter="url(#blurS)"/>
<ellipse cx="450" cy="590.7" rx="9" ry="3.5" fill="#7f7c66" transform="rotate(-20 450 590.7)" filter="url(#blurS)"/>
<ellipse cx="481" cy="581.5" rx="5.5" ry="7" fill="#7f7c66" transform="rotate(15 481 581.5)" filter="url(#blurS)"/>
<ellipse cx="504" cy="581.5" rx="4" ry="3" fill="#7f7c66" transform="rotate(0 504 581.5)" filter="url(#blurS)"/>
<ellipse cx="457" cy="579" rx="2.5" ry="2" fill="#7f7c66" transform="rotate(0 457 579)" filter="url(#blurS)"/>
<ellipse cx="496" cy="602.3" rx="10.5" ry="6" fill="#7f7c66" transform="rotate(20 496 602.3)" filter="url(#blurS)"/>
<ellipse cx="522.6" cy="595.4" rx="4" ry="6.5" fill="#7f7c66" transform="rotate(-10 522.6 595.4)" filter="url(#blurS)"/>
<ellipse cx="545.7" cy="611.5" rx="8" ry="5" fill="#7f7c66" transform="rotate(15 545.7 611.5)" filter="url(#blurS)"/>
<ellipse cx="528.4" cy="618.4" rx="1.8" ry="2.5" fill="#7f7c66" transform="rotate(0 528.4 618.4)" filter="url(#blurS)"/>
<ellipse cx="470" cy="608" rx="2" ry="2" fill="#7f7c66" transform="rotate(0 470 608)" filter="url(#blurS)"/>
<path d="M322,528 L532,532 L532,548 L430,552 L335,568 L322,560 Z" fill="url(#gGap)"/>
<path d="M329.0,539.0 C334.5,537.5 348.2,538.9 360.0,539.0 C371.8,539.1 387.8,539.3 400.0,539.5 C412.2,539.7 427.0,538.8 433.0,540.0 C439.0,541.2 437.1,545.5 436.0,547.0 C434.9,548.5 431.1,548.0 426.3,549.2 C421.5,550.4 414.3,552.1 407.0,554.0 C399.7,555.9 390.0,558.6 382.7,560.5 C375.4,562.4 368.7,564.9 363.3,565.4 C357.9,565.9 355.8,565.1 350.4,563.8 C345.0,562.4 334.9,559.9 331.0,557.3 C327.1,554.7 327.3,551.0 327.0,548.0 C326.7,545.0 323.5,540.5 329.0,539.0Z" fill="#de5e1c"/>
<ellipse cx="363.7" cy="545.0" rx="3.6" ry="1.6" fill="#d24a14"/>
<ellipse cx="341.2" cy="553.7" rx="4.3" ry="1.8" fill="#e5521a"/>
<ellipse cx="374.5" cy="543.4" rx="2.2" ry="2.1" fill="#d24a14"/>
<ellipse cx="344.1" cy="546.5" rx="3.6" ry="2.9" fill="#d24a14"/>
<ellipse cx="389.4" cy="543.0" rx="2.6" ry="2.3" fill="#cc4412"/>
<ellipse cx="360.4" cy="544.9" rx="2.3" ry="2.0" fill="#cc4412"/>
<ellipse cx="342.1" cy="553.4" rx="2.5" ry="1.6" fill="#e5521a"/>
<ellipse cx="387.3" cy="554.4" rx="3.2" ry="2.3" fill="#f07a30"/>
<ellipse cx="377.6" cy="560.5" rx="2.9" ry="1.9" fill="#cc4412"/>
<ellipse cx="400.5" cy="545.4" rx="3.4" ry="2.3" fill="#f07a30"/>
<ellipse cx="403.5" cy="546.0" rx="4.5" ry="1.7" fill="#e85418"/>
<ellipse cx="348.2" cy="548.8" rx="4.3" ry="2.1" fill="#e5521a"/>
<ellipse cx="406.9" cy="550.0" rx="4.2" ry="2.0" fill="#f07a30"/>
<ellipse cx="390.2" cy="550.1" rx="3.1" ry="2.8" fill="#f07a30"/>
<ellipse cx="378.5" cy="555.3" rx="2.2" ry="2.6" fill="#d24a14"/>
<ellipse cx="429.3" cy="553.5" rx="2.7" ry="2.1" fill="#f07a30"/>
<ellipse cx="334.2" cy="551.2" rx="2.4" ry="1.7" fill="#e5521a"/>
<ellipse cx="353.4" cy="547.7" rx="3.8" ry="2.1" fill="#e85418"/>
<ellipse cx="339.9" cy="551.0" rx="3.4" ry="2.8" fill="#e85418"/>
<ellipse cx="416.7" cy="545.9" rx="3.0" ry="2.0" fill="#e85418"/>
<ellipse cx="425.9" cy="544.1" rx="2.4" ry="1.8" fill="#cc4412"/>
<ellipse cx="333.2" cy="558.6" rx="2.5" ry="1.9" fill="#cc4412"/>
<ellipse cx="373.1" cy="549.4" rx="3.4" ry="2.9" fill="#d24a14"/>
<ellipse cx="425.1" cy="551.2" rx="3.8" ry="2.2" fill="#d24a14"/>
<ellipse cx="370.5" cy="550.0" rx="2.3" ry="2.5" fill="#e5521a"/>
<ellipse cx="350.7" cy="561.7" rx="3.1" ry="1.7" fill="#d24a14"/>
<ellipse cx="337.2" cy="542.0" rx="2.4" ry="1.7" fill="#f07a30"/>
<ellipse cx="392.1" cy="543.0" rx="2.5" ry="2.1" fill="#f07a30"/>
<ellipse cx="425.6" cy="550.4" rx="3.2" ry="1.7" fill="#e85418"/>
<ellipse cx="429.3" cy="548.5" rx="3.2" ry="1.6" fill="#e5521a"/>
<ellipse cx="405.5" cy="552.4" rx="3.2" ry="2.5" fill="#d24a14"/>
<ellipse cx="334.3" cy="561.0" rx="3.3" ry="1.7" fill="#d24a14"/>
<ellipse cx="421.6" cy="552.6" rx="2.7" ry="2.5" fill="#e5521a"/>
<ellipse cx="400.2" cy="545.7" rx="2.9" ry="1.8" fill="#cc4412"/>
<ellipse cx="384.2" cy="557.6" rx="2.8" ry="1.8" fill="#cc4412"/>
<ellipse cx="411.0" cy="553.5" rx="3.8" ry="1.8" fill="#d24a14"/>
<ellipse cx="380.3" cy="556.6" rx="4.5" ry="2.7" fill="#e85418"/>
<ellipse cx="357.4" cy="555.9" rx="4.4" ry="2.2" fill="#f07a30"/>
<ellipse cx="425.6" cy="547.1" rx="2.6" ry="1.8" fill="#cc4412"/>
<ellipse cx="365.1" cy="551.7" rx="4.5" ry="2.4" fill="#e5521a"/>
<ellipse cx="379.0" cy="555.1" rx="4.0" ry="1.6" fill="#e5521a"/>
<ellipse cx="421.2" cy="553.0" rx="3.9" ry="2.2" fill="#cc4412"/>
<ellipse cx="374.5" cy="554.7" rx="2.2" ry="2.9" fill="#e85418"/>
<ellipse cx="377.4" cy="556.9" rx="2.2" ry="1.7" fill="#cc4412"/>
<ellipse cx="334.7" cy="553.8" rx="3.2" ry="2.5" fill="#d24a14"/>
<ellipse cx="413.0" cy="555.7" rx="3.6" ry="2.0" fill="#d24a14"/>
<ellipse cx="385.7" cy="542.4" rx="4.0" ry="2.6" fill="#e5521a"/>
<ellipse cx="383.6" cy="560.7" rx="3.1" ry="2.8" fill="#cc4412"/>
<ellipse cx="334.7" cy="546.3" rx="3.3" ry="2.6" fill="#f07a30"/>
<ellipse cx="357.4" cy="550.4" rx="2.3" ry="2.9" fill="#f07a30"/>
<ellipse cx="420.0" cy="551.3" rx="4.0" ry="2.3" fill="#d24a14"/>
<ellipse cx="344.8" cy="545.0" rx="3.3" ry="2.8" fill="#cc4412"/>
<ellipse cx="391.6" cy="552.9" rx="2.4" ry="1.7" fill="#d24a14"/>
<ellipse cx="403.1" cy="549.8" rx="2.8" ry="2.3" fill="#d24a14"/>
<ellipse cx="379.3" cy="557.5" rx="4.2" ry="1.6" fill="#cc4412"/>
<path d="M324.0,324.0 C326.0,325.7 330.5,329.5 333.0,333.0 C335.5,336.5 337.6,341.0 339.0,345.0 C340.4,349.0 341.0,353.0 341.5,357.0 C342.0,361.0 342.3,365.2 342.2,369.0 C342.1,372.8 341.6,376.7 341.0,380.0 C340.4,383.3 339.7,385.9 338.5,389.0 C337.3,392.1 336.0,396.0 333.8,398.8 C331.6,401.6 328.3,403.6 325.3,406.0 C322.3,408.4 318.6,410.7 316.0,413.0 C313.4,415.3 311.8,417.5 310.0,419.8 C308.2,422.1 306.2,424.5 305.0,427.0 C303.8,429.5 303.2,430.7 302.5,435.0 C301.8,439.3 301.0,446.7 301.0,453.0 C301.0,459.3 301.0,466.6 302.5,473.0 C304.0,479.4 306.9,485.9 310.0,491.5 C313.1,497.1 316.5,502.5 320.8,506.8 C325.1,511.1 331.1,515.1 336.0,517.4 C340.9,519.6 340.7,520.4 350.0,520.3 C359.3,520.2 378.8,517.8 392.0,516.6 C405.2,515.4 417.7,513.9 429.0,513.0 C440.3,512.1 443.2,511.7 460.0,511.0 C476.8,510.3 517.7,507.2 530.0,509.0 C542.3,510.8 534.0,517.3 534.0,522.0 C534.0,526.7 542.3,534.4 530.0,537.0 C517.7,539.6 476.8,537.3 460.0,537.8 C443.2,538.2 440.3,539.2 429.0,539.7 C417.7,540.2 404.3,540.6 392.0,540.5 C379.7,540.4 363.7,539.9 355.0,538.8 C346.3,537.7 344.4,536.0 340.0,534.0 C335.6,532.0 332.9,529.6 328.4,526.6 C323.9,523.6 317.3,520.6 313.0,516.0 C308.7,511.4 305.5,504.8 302.5,499.0 C299.5,493.2 296.6,487.3 294.8,481.0 C293.0,474.7 292.1,468.2 291.8,461.0 C291.6,453.8 292.0,444.3 293.3,438.0 C294.6,431.7 297.4,426.8 299.4,423.0 C301.3,419.2 302.7,417.6 305.0,415.0 C307.3,412.4 310.2,410.2 313.0,407.6 C315.8,405.0 319.3,402.3 322.0,399.5 C324.7,396.7 327.2,394.1 329.0,391.0 C330.8,387.9 331.7,384.7 332.5,381.0 C333.3,377.3 333.7,372.8 333.8,369.0 C333.9,365.2 333.8,361.8 333.2,358.0 C332.6,354.2 331.9,349.7 330.5,346.0 C329.1,342.3 327.2,339.2 325.0,336.0 C322.8,332.8 318.3,329.0 317.0,327.0 C315.7,325.0 316.3,324.7 317.0,324.0 C317.7,323.3 319.8,323.0 321.0,323.0 C322.2,323.0 322.0,322.3 324.0,324.0Z" fill="url(#gUBand)"/>
<path d="M320.5,325.5 C321.9,327.0 326.6,331.2 329.0,334.5 C331.4,337.8 333.4,341.7 334.8,345.5 C336.1,349.3 336.8,353.6 337.4,357.5 C337.9,361.4 338.1,365.2 338.0,369.0 C337.9,372.8 337.5,377.0 336.8,380.5 C336.0,384.0 335.2,386.9 333.8,390.0 C332.3,393.1 328.9,397.6 327.9,399.1" fill="none" stroke="#fbb4a0" stroke-width="1.5" opacity="0.6"/>
<path d="M327.9,399.1 C326.4,400.4 322.0,404.3 319.1,406.8 C316.2,409.3 312.9,411.6 310.5,414.0 C308.1,416.4 306.6,418.3 304.7,421.4 C302.8,424.5 300.4,428.1 299.1,432.5 C297.9,436.9 297.4,442.2 297.1,448.0 C296.9,453.8 297.0,460.7 297.9,467.0 C298.8,473.3 300.2,479.9 302.5,486.0 C304.8,492.1 307.8,498.6 311.5,503.8 C315.2,508.9 320.2,513.0 324.6,516.7 C329.0,520.4 335.8,524.2 338.0,525.7" fill="none" stroke="#fac4b4" stroke-width="4" opacity="0.75" stroke-linecap="round"/>
<path d="M435.0,547.5 C441.7,545.9 450.3,543.6 460.0,542.4 C469.7,541.1 483.3,540.3 493.0,540.0 C502.7,539.7 511.8,539.1 518.0,540.5 C524.2,541.9 526.5,544.8 530.0,548.5 C533.5,552.2 536.3,557.6 539.0,562.5 C541.7,567.4 544.0,573.4 546.0,578.0 C548.0,582.6 552.7,589.4 551.0,590.0 C549.3,590.6 541.5,584.3 536.0,581.7 C530.5,579.1 525.2,576.1 518.0,574.3 C510.8,572.5 502.7,571.7 493.0,571.0 C483.3,570.3 470.0,569.5 460.0,570.0 C450.0,570.5 441.2,572.2 433.0,573.8 C424.8,575.4 420.5,576.9 410.7,579.4 C400.9,581.9 386.3,585.8 374.0,588.6 C361.7,591.4 349.3,594.1 337.0,596.0 C324.7,597.9 311.2,598.8 300.0,600.0 C288.8,601.2 278.3,601.2 270.0,603.0 C261.7,604.8 254.3,611.5 250.0,611.0 C245.7,610.5 241.3,603.7 244.0,600.0 C246.7,596.3 251.7,592.0 266.0,589.0 C280.3,586.0 311.0,585.3 330.0,582.0 C349.0,578.7 365.0,574.0 380.0,569.0 C395.0,564.0 410.8,555.6 420.0,552.0 C429.2,548.4 428.3,549.1 435.0,547.5Z" fill="url(#gLBand)"/>
<path d="M435.0,548.0 C432.2,548.4 421.2,551.7 411.0,553.5 C400.8,555.3 384.8,557.3 374.0,559.0 C363.2,560.7 355.0,562.0 346.0,563.5 C337.0,565.0 329.5,566.7 320.0,567.7 C310.5,568.7 298.8,568.7 289.0,569.5 C279.2,570.3 269.2,571.4 261.5,572.3 C253.8,573.2 249.2,573.6 243.0,575.0 C236.8,576.4 230.1,578.4 224.6,580.6 C219.1,582.8 214.4,584.9 209.8,588.0 C205.2,591.1 200.7,595.2 197.0,599.0 C193.3,602.8 190.8,607.3 187.7,611.0 C184.6,614.7 180.9,617.8 178.5,621.0 C176.1,624.2 174.1,627.3 173.0,630.4 C171.9,633.5 171.7,636.2 172.0,639.6 C172.3,643.0 173.1,647.3 174.8,650.7 C176.5,654.1 178.9,657.2 182.0,660.0 C185.1,662.8 188.9,665.7 193.2,667.3 C197.5,668.9 203.4,669.5 208.0,669.5 C212.6,669.5 217.6,668.9 221.0,667.3 C224.4,665.7 226.5,663.4 228.3,660.0 C230.1,656.6 231.1,651.7 232.0,647.0 C232.9,642.3 232.8,636.6 234.0,632.0 C235.2,627.4 237.0,623.0 239.4,619.3 C241.8,615.6 244.6,612.8 248.6,610.0 C252.6,607.2 258.1,604.5 263.3,602.7 C268.5,600.9 274.1,600.1 280.0,599.0 C285.9,597.9 291.7,597.2 298.4,596.3 C305.1,595.4 312.2,594.9 320.0,593.5 C327.8,592.1 336.0,590.4 345.0,588.0 C354.0,585.6 364.6,583.0 374.0,579.4 C383.4,575.8 392.5,571.1 401.5,566.4 C410.5,561.7 422.4,554.1 428.0,551.0 C433.6,547.9 437.8,547.6 435.0,548.0Z" fill="#f8ec78"/>
<g clip-path="url(#cWax)"><path d="M208.0,669.5 C210.2,669.1 217.6,668.9 221.0,667.3 C224.4,665.7 226.5,663.4 228.3,660.0 C230.1,656.6 231.1,651.7 232.0,647.0 C232.9,642.3 232.8,636.6 234.0,632.0 C235.2,627.4 237.0,623.0 239.4,619.3 C241.8,615.6 244.6,612.8 248.6,610.0 C252.6,607.2 258.1,604.5 263.3,602.7 C268.5,600.9 274.1,600.1 280.0,599.0 C285.9,597.9 291.7,597.2 298.4,596.3 C305.1,595.4 312.2,594.9 320.0,593.5 C327.8,592.1 336.0,590.4 345.0,588.0 C354.0,585.6 364.6,583.0 374.0,579.4 C383.4,575.8 392.5,571.1 401.5,566.4 C410.5,561.7 423.6,553.6 428.0,551.0" fill="none" stroke="#d9d966" stroke-width="9" filter="url(#blur3)"/><path d="M435.0,548.0 C431.0,548.9 421.2,551.7 411.0,553.5 C400.8,555.3 384.8,557.3 374.0,559.0 C363.2,560.7 355.0,562.0 346.0,563.5 C337.0,565.0 329.5,566.7 320.0,567.7 C310.5,568.7 298.8,568.7 289.0,569.5 C279.2,570.3 269.2,571.4 261.5,572.3 C253.8,573.2 249.2,573.6 243.0,575.0 C236.8,576.4 230.1,578.4 224.6,580.6 C219.1,582.8 214.4,584.9 209.8,588.0 C205.2,591.1 200.7,595.2 197.0,599.0 C193.3,602.8 190.8,607.3 187.7,611.0 C184.6,614.7 180.9,617.8 178.5,621.0 C176.1,624.2 173.9,628.8 173.0,630.4" fill="none" stroke="#f0c636" stroke-width="3" filter="url(#blur1)"/><ellipse cx="207" cy="638" rx="8" ry="18" fill="#f3b424" filter="url(#blur4)" transform="rotate(-25 207 638)"/><path d="M183,628 C195,604 230,588 280,581 C330,576 380,566 425,552" fill="none" stroke="#fefad6" stroke-width="6" filter="url(#blur2)"/><ellipse cx="185" cy="640" rx="6" ry="13" fill="#fffbe6" filter="url(#blur2)"/></g>
<path d="M510.0,486.0 C509.3,484.0 510.7,477.2 512.0,474.0 C513.3,470.8 515.7,468.6 518.0,467.0 C520.3,465.4 522.7,465.0 526.0,464.5 C529.3,464.0 534.7,463.6 538.0,464.0 C541.3,464.4 544.0,465.3 546.0,467.0 C548.0,468.7 548.8,471.3 550.0,474.0 C551.2,476.7 551.5,480.0 553.0,483.0 C554.5,486.0 556.5,489.3 559.0,492.0 C561.5,494.7 564.3,497.0 568.0,499.0 C571.7,501.0 576.3,502.7 581.0,504.0 C585.7,505.3 590.8,506.7 596.0,507.0 C601.2,507.3 608.0,505.8 612.0,506.0 C616.0,506.2 618.5,506.2 620.0,508.0 C621.5,509.8 622.3,515.8 621.0,517.0 C619.7,518.2 616.2,515.0 612.0,515.0 C607.8,515.0 601.2,517.0 596.0,517.0 C590.8,517.0 585.8,516.2 581.0,515.0 C576.2,513.8 571.2,512.2 567.0,510.0 C562.8,507.8 559.0,505.0 556.0,502.0 C553.0,499.0 550.8,495.3 549.0,492.0 C547.2,488.7 546.3,485.3 545.0,482.0 C543.7,478.7 542.8,474.2 541.0,472.0 C539.2,469.8 536.7,469.3 534.0,469.0 C531.3,468.7 527.5,469.0 525.0,470.0 C522.5,471.0 520.5,472.3 519.0,475.0 C517.5,477.7 517.5,484.2 516.0,486.0 C514.5,487.8 510.7,488.0 510.0,486.0Z" fill="#a13016"/>
<path d="M527.0,494.0 C528.7,493.5 533.0,498.2 536.0,500.0 C539.0,501.8 541.8,502.8 545.0,505.0 C548.2,507.2 551.3,510.4 555.0,513.0 C558.7,515.6 562.7,518.5 567.0,520.5 C571.3,522.5 575.5,523.8 581.0,525.0 C586.5,526.2 596.7,526.3 600.0,528.0 C603.3,529.7 604.3,534.0 601.0,535.0 C597.7,536.0 586.5,535.0 580.0,534.0 C573.5,533.0 567.8,531.2 562.0,529.0 C556.2,526.8 550.0,523.8 545.0,521.0 C540.0,518.2 535.2,515.0 532.0,512.0 C528.8,509.0 526.8,506.0 526.0,503.0 C525.2,500.0 525.3,494.5 527.0,494.0Z" fill="#9a2e14"/>
<path d="M529.0,515.0 C531.7,514.3 540.3,515.7 545.0,517.0 C549.7,518.3 555.2,521.0 557.0,523.0 C558.8,525.0 558.8,528.3 556.0,529.0 C553.2,529.7 544.5,528.3 540.0,527.0 C535.5,525.7 530.8,523.0 529.0,521.0 C527.2,519.0 526.3,515.7 529.0,515.0Z" fill="#c8622a"/>
<path d="M511.0,482.0 C510.0,482.8 513.2,490.7 514.0,495.0 C514.8,499.3 515.4,503.0 516.0,508.0 C516.6,513.0 517.2,520.0 517.5,525.0 C517.8,530.0 517.1,533.8 518.0,538.0 C518.9,542.2 521.0,546.5 523.0,550.0 C525.0,553.5 527.0,555.2 530.0,559.0 C533.0,562.8 537.8,568.8 540.7,573.0 C543.7,577.2 545.7,584.0 547.7,584.0 C549.8,584.0 551.5,577.0 553.0,573.0 C554.5,569.0 555.8,564.4 557.0,560.0 C558.2,555.6 559.2,551.3 560.0,546.7 C560.8,542.1 562.1,536.7 561.8,532.6 C561.5,528.5 560.0,525.1 558.0,522.0 C556.0,518.9 553.0,516.8 550.0,514.0 C547.0,511.2 543.3,507.7 540.0,505.0 C536.7,502.3 533.3,500.5 530.0,498.0 C526.7,495.5 523.2,492.7 520.0,490.0 C516.8,487.3 512.0,481.2 511.0,482.0Z" fill="url(#gDrum)" stroke="#5a98cc" stroke-width="0.8"/>
<path d="M516,500 C518,515 518,530 520,542 C526,556 536,568 546,582" fill="none" stroke="#4a88c6" stroke-width="3.5" opacity="0.75"/>
<path d="M529.0,515.0 C531.7,514.3 540.3,515.7 545.0,517.0 C549.7,518.3 555.2,521.0 557.0,523.0 C558.8,525.0 558.8,528.3 556.0,529.0 C553.2,529.7 544.5,528.3 540.0,527.0 C535.5,525.7 530.8,523.0 529.0,521.0 C527.2,519.0 526.3,515.7 529.0,515.0Z" fill="#c8622a" opacity="0.85"/>
<path d="M537.0,489.0 C539.2,488.2 544.7,491.7 548.0,494.0 C551.3,496.3 553.8,500.2 557.0,503.0 C560.2,505.8 563.0,508.8 567.0,511.0 C571.0,513.2 576.2,514.8 581.0,516.0 C585.8,517.2 590.8,518.3 596.0,518.5 C601.2,518.7 608.3,517.1 612.0,517.0 C615.7,516.9 617.0,516.3 618.0,518.0 C619.0,519.7 619.0,525.7 618.0,527.0 C617.0,528.3 615.7,526.0 612.0,526.0 C608.3,526.0 601.2,527.2 596.0,527.0 C590.8,526.8 585.8,526.1 581.0,525.0 C576.2,523.9 571.3,522.5 567.0,520.5 C562.7,518.5 558.7,515.6 555.0,513.0 C551.3,510.4 548.3,507.3 545.0,505.0 C541.7,502.7 536.3,501.7 535.0,499.0 C533.7,496.3 534.8,489.8 537.0,489.0Z" fill="#bcdaea" stroke="#5b9bca" stroke-width="1"/>
<ellipse cx="527.5" cy="479" rx="10.5" ry="12" fill="#c3deee" stroke="#5b9bca" stroke-width="1"/>
<ellipse cx="525" cy="475" rx="5" ry="6" fill="#e2f0f8" opacity="0.7"/>
<path d="M611,512 C616,508 623,510 623,517 C623,523 617,527 612,525" fill="#bcdaea" stroke="#5b9bca" stroke-width="1"/>
<path d="M565,448 a24,32 0 1,0 48,0 a24,32 0 1,0 -48,0" transform="rotate(-15 589 448)" fill="none" stroke="#5433c4" stroke-width="7.5"/>
<path d="M565,448 a24,32 0 1,0 48,0 a24,32 0 1,0 -48,0" transform="rotate(-15 589 448)" fill="none" stroke="#7957e6" stroke-width="5"/>
<path d="M565,448 a24,32 0 1,0 48,0 a24,32 0 1,0 -48,0" transform="rotate(-15 589 448)" fill="none" stroke="#ab98f8" stroke-width="1.3" opacity="0.7"/>
<path d="M577,449 a16,25 0 1,0 32,0 a16,25 0 1,0 -32,0" transform="rotate(-15 593 449)" fill="none" stroke="#5433c4" stroke-width="7.5"/>
<path d="M577,449 a16,25 0 1,0 32,0 a16,25 0 1,0 -32,0" transform="rotate(-15 593 449)" fill="none" stroke="#7957e6" stroke-width="5"/>
<path d="M577,449 a16,25 0 1,0 32,0 a16,25 0 1,0 -32,0" transform="rotate(-15 593 449)" fill="none" stroke="#ab98f8" stroke-width="1.3" opacity="0.7"/>
<path d="M602,446 a12,25 0 1,0 24,0 a12,25 0 1,0 -24,0" transform="rotate(0 614 446)" fill="none" stroke="#5433c4" stroke-width="7.5"/>
<path d="M602,446 a12,25 0 1,0 24,0 a12,25 0 1,0 -24,0" transform="rotate(0 614 446)" fill="none" stroke="#7957e6" stroke-width="5"/>
<path d="M602,446 a12,25 0 1,0 24,0 a12,25 0 1,0 -24,0" transform="rotate(0 614 446)" fill="none" stroke="#ab98f8" stroke-width="1.3" opacity="0.7"/>
<path d="M609,446 a19,25 0 1,0 38,0 a19,25 0 1,0 -38,0" transform="rotate(0 628 446)" fill="none" stroke="#5433c4" stroke-width="7.5"/>
<path d="M609,446 a19,25 0 1,0 38,0 a19,25 0 1,0 -38,0" transform="rotate(0 628 446)" fill="none" stroke="#7957e6" stroke-width="5"/>
<path d="M609,446 a19,25 0 1,0 38,0 a19,25 0 1,0 -38,0" transform="rotate(0 628 446)" fill="none" stroke="#ab98f8" stroke-width="1.3" opacity="0.7"/>
<path d="M601.5,437 a30,33 0 1,0 60,0 a30,33 0 1,0 -60,0" transform="rotate(0 631.5 437)" fill="none" stroke="#5433c4" stroke-width="7.5"/>
<path d="M601.5,437 a30,33 0 1,0 60,0 a30,33 0 1,0 -60,0" transform="rotate(0 631.5 437)" fill="none" stroke="#7957e6" stroke-width="5"/>
<path d="M601.5,437 a30,33 0 1,0 60,0 a30,33 0 1,0 -60,0" transform="rotate(0 631.5 437)" fill="none" stroke="#ab98f8" stroke-width="1.3" opacity="0.7"/>
<path d="M595.0,462.0 C595.7,461.3 600.5,469.8 604.0,472.0 C607.5,474.2 611.7,474.5 616.0,475.0 C620.3,475.5 625.7,475.2 630.0,475.0 C634.3,474.8 638.5,474.8 642.0,474.0 C645.5,473.2 649.5,468.7 651.0,470.0 C652.5,471.3 651.5,477.7 651.0,482.0 C650.5,486.3 648.3,491.7 648.0,496.0 C647.7,500.3 648.3,504.0 649.0,508.0 C649.7,512.0 653.5,516.3 652.0,520.0 C650.5,523.7 643.7,528.3 640.0,530.0 C636.3,531.7 633.2,531.7 630.0,530.0 C626.8,528.3 623.5,524.0 621.0,520.0 C618.5,516.0 617.2,510.8 615.0,506.0 C612.8,501.2 610.5,496.0 608.0,491.0 C605.5,486.0 602.2,480.8 600.0,476.0 C597.8,471.2 594.3,462.7 595.0,462.0Z" fill="url(#gVest)"/>
<path d="M644,482 C647,492 646,502 645,512" fill="none" stroke="#b09cf8" stroke-width="3" opacity="0.5" stroke-linecap="round"/>
<ellipse cx="679.5" cy="543.5" rx="39.5" ry="40.5" fill="url(#gCoch)"/>
<path d="M655,519 C665,509 690,507 705,517 C700,521 690,518 680,518 C668,518 660,522 655,519 Z" fill="#b9a6f8" opacity="0.85"/>
<path d="M682,578 C662,578 649,563 650,545 C651,527 665,516 681,516 C697,516 709,528 708,543 C707,558 696,568 682,568 C670,568 661,558 662,547 C663,537 672,530 681,531 C690,532 696,539 695,547 C694,554 688,558 682,557" fill="none" stroke="#5634bd" stroke-width="1.4"/>
<path d="M664,533 C672,524 692,523 700,532 C694,534 688,531 681,531 C673,531 668,535 664,533 Z" fill="#c7b8fa" opacity="0.85"/>
<path d="M670,545 C672,537 690,535 694,542 C689,543 685,540 681,540 C676,540 673,545 670,545 Z" fill="#c7b8fa" opacity="0.85"/>
<ellipse cx="683" cy="550" rx="3" ry="1.5" fill="#d8ccfc" opacity="0.8"/>
<mask id="wmMask" maskUnits="userSpaceOnUse" x="0" y="0" width="867" height="853"><rect width="867" height="853" fill="#fff"/><text x="209.89 256.56 311.00 367.67 400.33 435.44 483.78 516.56 566.89 602.78 651.89 703.11" y="461.5" transform="scale(0.9 1)" font-family="Liberation Sans" font-weight="bold" font-size="95" fill="#000" stroke="#000" stroke-width="1.4" stroke-linejoin="round">shutterstock</text></mask>
<g mask="url(#wmMask)"><text x="209.89 256.56 311.00 367.67 400.33 435.44 483.78 516.56 566.89 602.78 651.89 703.11" y="461.5" transform="scale(0.9 1)" font-family="Liberation Sans" font-weight="bold" font-size="95" fill="none" stroke="#fff" stroke-opacity="0.35" stroke-width="4.4" stroke-linejoin="round">shutterstock</text></g>
<g opacity="0.31"><text x="209.89 256.56 311.00 367.67 400.33 435.44 483.78 516.56 566.89 602.78 651.89 703.11" y="461.5" transform="scale(0.9 1)" font-family="Liberation Sans" font-weight="bold" font-size="95" fill="#2a2a2a" stroke="#2a2a2a" stroke-width="1.4" stroke-linejoin="round">shutterstock</text></g>
<text x="296.3" y="138.5" font-family="Liberation Sans" font-size="61" fill="#000" textLength="285.5" lengthAdjust="spacingAndGlyphs">Otitis externa</text>
<text x="94.2" y="312.9" font-family="Liberation Sans" font-size="27" fill="#111" textLength="57" lengthAdjust="spacingAndGlyphs">Outer</text>
<text x="94.5" y="340.7" font-family="Liberation Sans" font-size="27" fill="#111" textLength="33" lengthAdjust="spacingAndGlyphs">ear</text>
<text x="327.2" y="292.7" font-family="Liberation Sans" font-size="27" fill="#111" textLength="53.6" lengthAdjust="spacingAndGlyphs">Bone</text>
<text x="548.2" y="368.2" font-family="Liberation Sans" font-size="27" fill="#111" textLength="87.6" lengthAdjust="spacingAndGlyphs">Eardrum</text>
<text x="714.2" y="474.2" font-family="Liberation Sans" font-size="27" fill="#111" textLength="82.9" lengthAdjust="spacingAndGlyphs">Cochlea</text>
<text x="76" y="643.2" font-family="Liberation Sans" font-size="27" fill="#111" textLength="51.2" lengthAdjust="spacingAndGlyphs">Wax,</text>
<text x="76" y="670.9" font-family="Liberation Sans" font-size="27" fill="#111" textLength="102.4" lengthAdjust="spacingAndGlyphs">shed skin,</text>
<text x="75" y="696.7" font-family="Liberation Sans" font-size="27" fill="#111" textLength="82" lengthAdjust="spacingAndGlyphs">and pus</text>
<text x="466" y="674.6" font-family="Liberation Sans" font-size="27" fill="#111" textLength="129.3" lengthAdjust="spacingAndGlyphs">Narrowing of</text>
<text x="466.3" y="701.5" font-family="Liberation Sans" font-size="27" fill="#111" textLength="131.6" lengthAdjust="spacingAndGlyphs">the ear canal</text>
<text x="466.3" y="727.2" font-family="Liberation Sans" font-size="27" fill="#111" textLength="179.2" lengthAdjust="spacingAndGlyphs">from inflammation</text>
<path d="M152,307.3 H207.3" fill="none" stroke="#6a6a6a" stroke-width="1.4"/><circle cx="207.3" cy="307.3" r="2.8" fill="#111"/>
<path d="M384.6,285.2 H399 V338.7" fill="none" stroke="#6a6a6a" stroke-width="1.4"/><circle cx="399" cy="338.7" r="2.8" fill="#111"/>
<path d="M544.2,357.7 H521.3 V528.5" fill="none" stroke="#6a6a6a" stroke-width="1.4"/><circle cx="521.3" cy="528.5" r="2.8" fill="#111"/>
<path d="M707.7,466.7 H685 V527" fill="none" stroke="#6a6a6a" stroke-width="1.4"/><circle cx="685" cy="527" r="2.8" fill="#111"/>
<path d="M133.8,637.7 H189.2" fill="none" stroke="#6a6a6a" stroke-width="1.4"/><circle cx="189.2" cy="637.7" r="2.8" fill="#111"/>
<path d="M435.5,547.5 V666.5 H464" fill="none" stroke="#6a6a6a" stroke-width="1.4"/><circle cx="435.5" cy="547.5" r="2.8" fill="#111"/>
</svg></div></body></html>
